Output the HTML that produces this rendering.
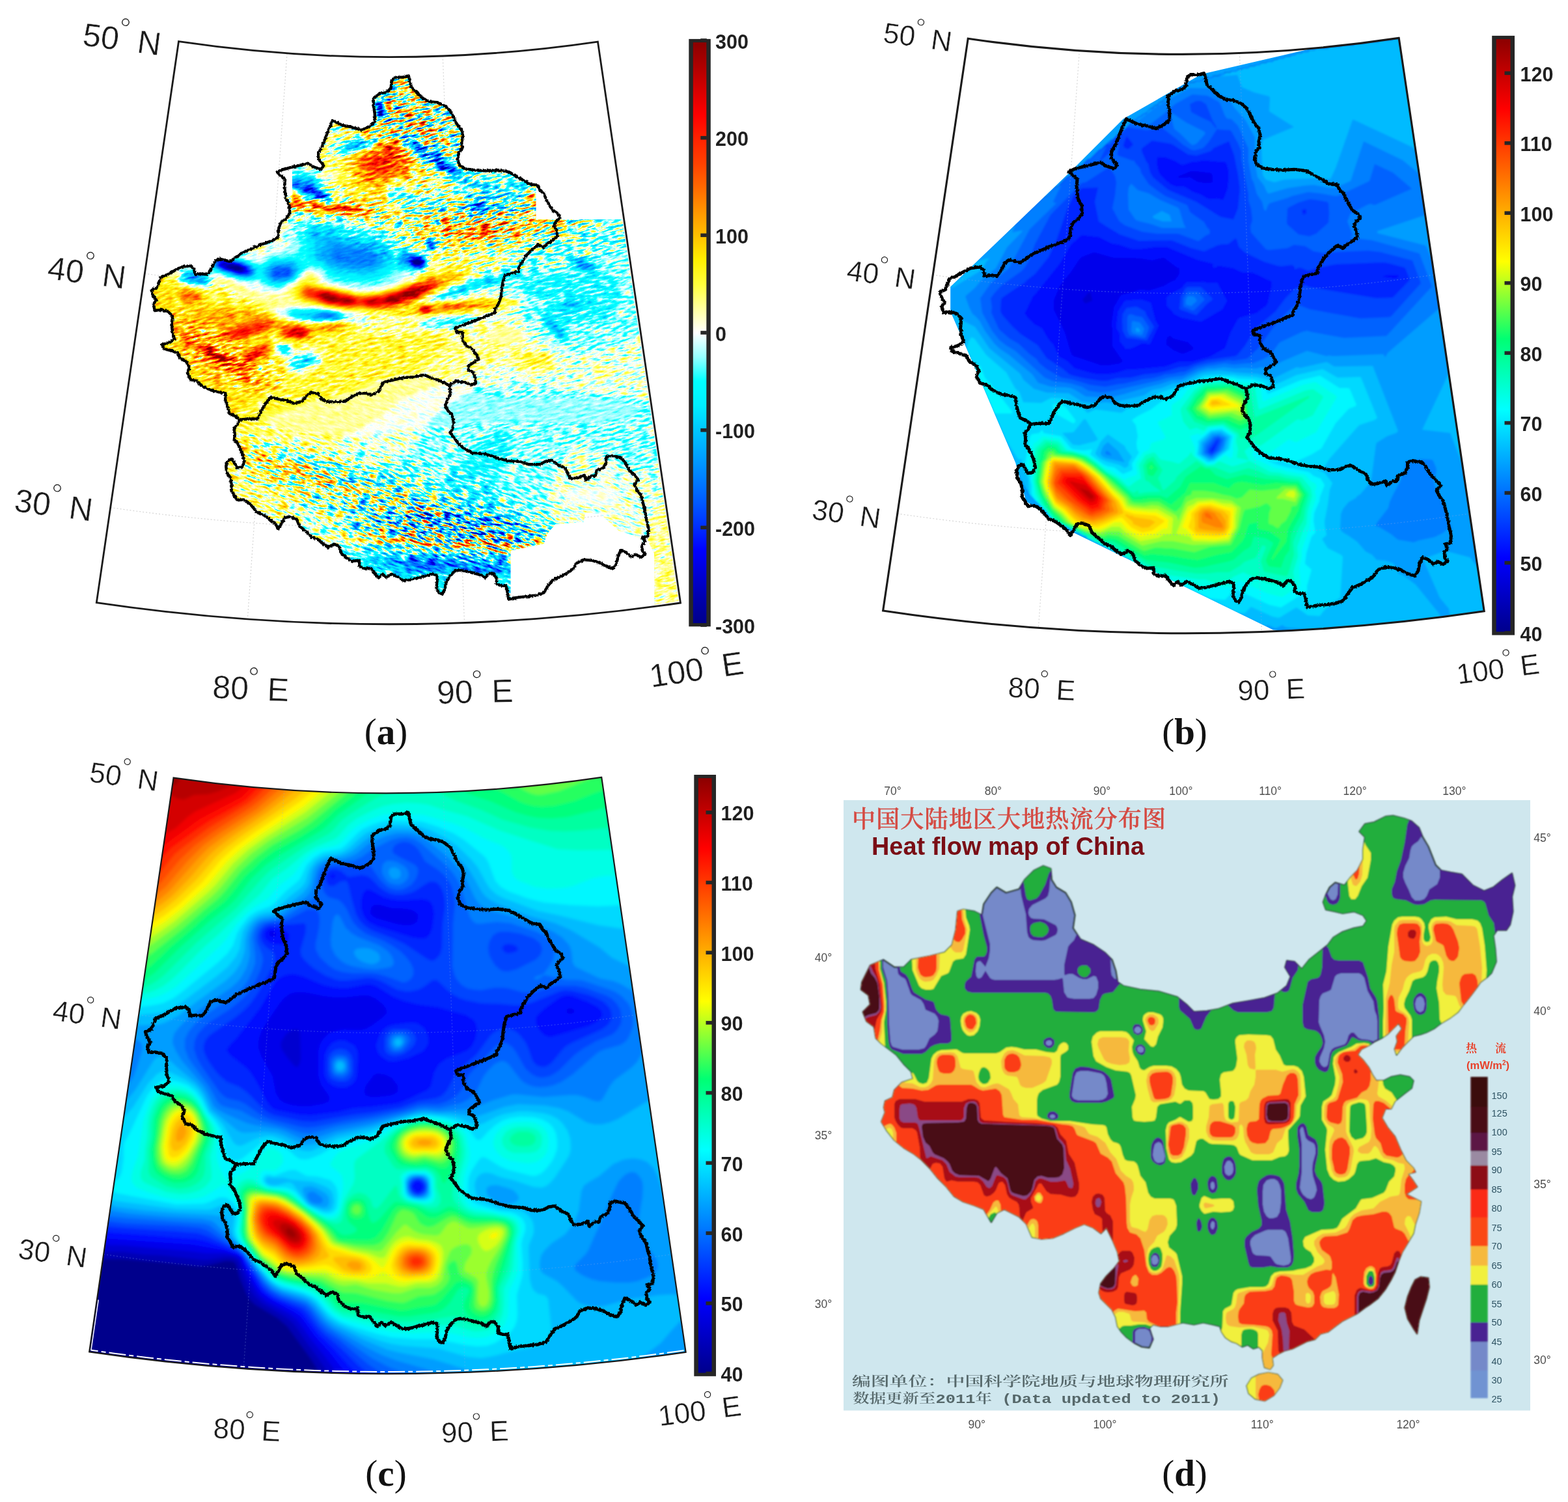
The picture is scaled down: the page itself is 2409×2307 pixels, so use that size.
<!DOCTYPE html><html><head><meta charset="utf-8"><title>Figure</title><style>html,body{margin:0;padding:0;background:#fff}svg{display:block}</style></head><body><svg xmlns="http://www.w3.org/2000/svg" width="2409" height="2307" viewBox="0 0 2409 2307"><defs><g id="srcA"><rect x="-400" y="-400" width="2200" height="2200" fill="#800000"/><path fill="#8a0000" d="M811 293l-2 12 2 9 4 3 6 0 4-9 -1-14 -3-4 -3-1 -3 0zM140 50l0 921 181 0 37-57 38-51 27-33 16-9 -3-6 1-3 14-24 19-37 6-3 15 1 73 12 9 0 -7-6 -19-9 -130-51 -15-9 -3-3 1-3 10-1 12 2 55 14 14 2 9 0 5-2 27-24 55-33 39-29 36-12 69-29 21-6 27-2 6 1 15 9 12 3 27 1 9-2 6-3 3-6 0-6 -4-9 -5-6 -9-5 -32-7 -3-3 -2-12 -5-9 -9-7 -15-6 -12-2 -27 10 -18 3 -48 3 -15-1 -12-2 -7-4 0-3 10-6 21-4 51-5 42-1 30-9 9-5 2-3 -11-5 -45-5 -18 1 -57 9 -16 0 0-3 31-16 33-14 39-21 7-6 6-18 6-6 71-23 13-7 3-3 3-6 -3-6 -7-4 -12-2 -21-1 -90 6 -13-2 -26-8 -27 7 -33-1 -12-4 -10-12 -10-9 -3-6 0-6 4-6 7-3 15 0 5 3 7 9 6 2 36-5 5-3 1-3 -1-6 -5-6 -53-48 -12-12 -5-9 1-3 3-1 12 2 21 6 24 11 9 2 2-2 -1-18 -23-60 -19-36 -6-15 -3-18 1-24zM410 319l51 9 81 8 54 3 9 4 6 4 17 21 13 10 3 2 3-3 1-6 5-5 12-1 6 2 4 4 1 9 -5 7 -9 4 2 10 -1 6 -4 6 -6 6 -21 8 -20 10 -18 6 -15 3 -28 2 -49-11 -9-3 -3-3 -2-9 -3-3 -6-2 -9 3 -12 12 -21 15 -6 4 -9 2 -12 0 -30-10 -19-9 -23-8 -3 0 -3 2 -2 6 -4 6 -9 3 -33-6 -6-2 -4-4 -2-9 3-7 6-4 6-1 22 0 3-3 1-12 4-4 6-4 15-2 30 2 10-1 3-3 7-33 9-24 5-6zM533 121l21 0 15-2 9 4 6 5 11 18 8 21 2 12 -3 11 -3 3 -3 0 -6-2 -8-6 -13-14 -6-3 -21 15 -27 23 -36 17 -16 10 -1 3 2 3 27 20 7 7 3 6 3 15 19 18 0 3 -4 3 -10 1 -9 0 -48-12 -30-4 -3-2 -1-1 2-9 -1-12 1-6 33-33 1-21 3-18 7-18 9-15 12-15 15-13 15-7zM449 469l33 2 72 11 15 6 3 3 -1 3 -5 4 -9 2 -6-1 -10-5 -8-2 -54 4 -36-6 -12-5 -8-6 0-3 5-4zM521 213l51-4 6 2 3 4 -3 6 -5 3 -40 14 -15 1 -6-2 -6-4 -1-3 1-6 6-8zM437 527l11 3 7 13 21-5 10 1 4 3 3 6 -2 9 -9 7 -18 7 -9 2 -9-3 -5-7 1-12 -3-3 -14-3 -3-5 0-4 3-6 6-3zM929 563l-18 6 -3 3 2 3 6 3 13 2 9-1 7-4 0-3 -1-3 -9-6zM475 824l64 8 162 9 108 4 18-1 13-2 -14-3 -44-4 -207-12 -75-2zM1037 771l-15 3 -9 4 -8 7 -5 9 -3 15 -2 60 1 18 3 15 5 12 15 25 15 16 17 16 10 0 0-203z"/><path fill="#950000" d="M572 198l-8 5 18 6 3 6 -4 6 -9 5 -41 16 -4 3 -4 6 -2 18 2 15 5 9 14 12 -6 3 -24 5 -12-1 -30-6 -18-2 -21 2 -6 2 -1 3 2 3 11 5 27 6 75 8 33-1 12-2 5-4 0-3 -4-6 5-6 4-21 5-6 7-3 14-2 9 2 9 7 3 1 8-5 5-9 0-9 -4-9 -8-9 -46-44 -12-7zM812 294l-2 11 2 7 3 2 6 0 3-6 0-6 -2-9 -7-1zM803 334l-57 4 -45 0 -18 1 -30 8 -4 3 -3 6 3 6 19 1 6 4 6 7 3 1 27 1 36-4 63-12 18-7 8-6 1-3 -1-3 -5-3 -13-3zM692 408l-33 12 -48 20 -24 7 -30 4 -9-1 -58-13 -5-3 -3-9 -6-2 -6 3 -20 17 -2 3 -1 6 6 9 11 4 69 12 21 1 18 3 48 5 33 0 93-9 27-5 14-5 1-3 -9-3 -30-2 -30 0 -54 7 -21-2 14-9 52-24 11-9 1-6 -6-7 -9-3zM140 50l0 12 0 863 108-82 60-50 30-32 12-17 16-28 5-4 9-2 12 2 94 25 20 4 6 0 3-1 -25-12 -95-38 -17-10 -5-6 1-3 20-9 10-15 12-7 63-22 57-15 57-24 36-6 12-4 10-6 29-21 6-9 2-9 -1-6 -3-3 -4-1 -63-1 -33 3 -27-3 -9-3 -8-13 -8-3 -50 4 -39-5 -18-8 -10-6 -2-3 -3-10 -9-2 -31-3 -12-3 -9-6 -8-10 -3-1 -12 6 -6 0 -15-4 -24-4 -9-4 -5-10 1-6 3-6 10-7 21-3 5-14 6-12 -1-6 -36-81 -33-81 -27-75 -28-84zM428 524l20 3 5 3 5 6 21-4 6 0 6 3 4 4 3 6 0 9 -3 6 -7 7 -15 7 -15 4 -12-2 -8-7 -2-6 0-9 -2-2 -9-3 -4-4 0-9 3-9zM805 545l-3 6 1 6 3 4 6 3 9 1 15-1 6-2 4-5 -1-6 -2-3 -7-5 -21-2zM526 827l58 6 117 7 103 2 -2-3 -25-3 -64-4 -144-7 -30 0z"/><path fill="#9f0000" d="M587 217l-9 8 -35 14 -4 3 -3 6 1 18 6 15 11 11 15 6 9 1 6-1 10-14 8-5 33-6 3-4 2-6 1-9 -3-6 -10-12 -17-16 -9-7 -6-3 -3 0 -3 2zM811 302l1 6 2 3 4 1 3-1 3-9 -3-8 -6-1 -3 3zM434 311l2 3 6 3 13 4 45 6 51 4 18-2 7-3 -1-3 -9-5 -27-6 -33 2 -48-8 -18 2zM734 342l-50 8 -7 4 -1 2 0 3 4 3 12 3 24 1 15 2 15-1 6-1 15-7 32-6 9-3 3-3 -1-3 -7-2 -39 1zM695 414l-36 9 -48 19 -27 8 -33 2 -45-10 -18-3 -15-6 -6 1 -9 6 -3 3 -2 6 2 6 9 7 39 9 30 4 21 0 15 3 45 2 33 4 102-9 21-5 8-3 -2-3 -6-1 -27-2 -33 1 -45 6 -18-1 -9 2 -3-1 -1-1 16-10 53-26 5-3 4-6 -2-5 -6-3zM140 390l0 312 33-4 30-4 30-7 33-10 12-2 21 1 58 10 -2-3 -31-21 -4-6 1-3 8-5 48-25 13-12 25-6 8-6 2-6 -2-9 -4-9 -11-15 8-10 5-23 -2-5 -7-4 5-3 5-1 4 4 8 4 21 5 12 0 12-5 9-8 36-4 9-3 4-4 0-3 -3-3 -4-1 -30 1 -18 3 -42-6 -29-12 -19-10 -69-7 -3-2 -3-11 -9-6 -21-4 -24-1 -12-10 -12-6 -48-18zM821 556l6-1 4-1 -2-3 -8-1 -5 1 -1 3zM555 827l49 6 111 6 64 0 -72-6 -114-6z"/><path fill="#aa0000" d="M593 216l-15 10 -24 10 -6 3 -4 6 -1 12 5 15 9 10 12 6 12 1 18-13 24-7 6-5 4-7 0-6 -1-6 -15-18 -12-9 -6-3zM811 302l1 4 3 4 6-1 2-7 -2-6 -6-1zM446 309l-4 2 0 3 6 3 34 7 60 5 15 0 10-3 0-3 -5-3 -20-5 -36-1 -39-6zM717 353l0 3 5 6 6 3 9 0 15-2 6-4 2-6 -1-3 -7-4 -12-1 -15 2zM695 421l-39 6 -42 16 -30 8 -33 3 -45-11 -33-5 -6 1 -6 3 -4 7 3 6 7 5 36 10 33 4 15-1 21 3 36-1 6-1 12-7 12-4 30-16 31-19 2-3 -1-3zM272 452l0 6 3 6 6 5 6 1 12 1 6-2 5-5 2-6 -1-6 -2-3 -10-4 -18-1 -5 2zM704 465l-36 4 -21-1 -17 8 17 7 9 0 12-3 78-7 15-3 7-3 -6-3 -13-1zM311 476l-15 4 -18 13 -27 3 -5 4 2 9 7 9 11 10 39 28 54 26 18 7 12 2 11-1 2-3 0-3 -3-6 -11-12 0-3 7-6 18-11 5-10 -1-9 -4-2 -9 1 -42 17 -16-7 -3-3 2-3 53-13 24-10 3 0 6 9 6 4 15 3 15 0 9-3 9-10 18 0 18-3 9-3 2-4 -5-3 -18 0 -12 1 -15 4 -18-4 -30-1 -15-8 -30-11 -12-2 -33-1zM301 503l28-1 3 1 0 3 -9 10 -6 2 -13-6 -6-6zM631 833l64 3 37 0 -55-3 -36-1z"/><path fill="#b50000" d="M449 314l6 3 18 4 54 6 24 0 7-1 2-3 -6-3 -15-4 -33-1 -33-5 -21 0 -2 1zM278 458l6 6 12 0 9-2 3-7 -1-3 -5-3 -15-2 -7 2 -2 3zM353 482l-30 3 -4 3 4 3 18 1 21-3 6-4zM386 489l-33 12 -12 7 -7 7 0 6 4 3 9 1 30-5 33-11 11-6 3-3 1-3 -2-3 -6-3 -13-3zM431 506l1 6 5 6 15 3 12 0 9-2 5-4 2-6 0-3 -4-3 -15-4 -21 0 -6 2zM273 521l13 12 28 20 42 20 21 6 5-1 1-3 -4-9 1-3 30-18 3-3 3-6 -1-6 -2-2 -9 0 -42 19 -33-16 -45-19 -9-2 -4 2 -1 3zM593 220l-34 16 -5 3 -4 6 -1 9 4 12 7 9 9 5 9 1 6-1 12-7 18-6 6-4 6-9 1-6 -1-6 -7-9 -8-8 -12-6zM815 309l5-1 2-3 -1-6 -3-3 -3 1 -3 5zM724 350l-2 3 1 6 8 4 18-1 6-3 1-3 -2-6 -5-3 -15 0zM659 428l-45 16 -24 7 -33 4 -33-6 -18-5 -30-3 -12 2 -4 6 4 6 3 2 36 12 30 4 21-1 18 2 30 0 9-2 30-12 26-14 8-6 4-6 0-3 -2-2 -9-2zM731 465l-66 5 -9-1 -9 0 -6 4 -1 3 2 3 5 3 9 0 12-4 63-5 19-3 6-3zM494 506l9 1 10-1 11-3 2-3 -11-1 -18 1 -6 3z"/><path fill="#bf0000" d="M455 314l6 3 15 3 53 6 18 0 7-3 -5-3 -13-3 -30-1 -32-5 -13 0zM284 458l12 1 5-1 2-3 -4-4 -12-1 -4 2 -1 3zM499 503l12 0 -5-2zM392 493l-33 9 -12 6 -5 4 -2 6 5 3 8 1 30-6 27-9 6-4 3-6 -6-4 -9-1zM434 511l3 5 6 3 18 1 12-4 4-7 -1-3 -6-4 -24-2 -9 3 -3 3zM299 529l10 16 11 8 21 9 21 6 6-1 10-7 29-15 4-3 3-6 -1-5 -3-1 -9 1 -21 9 -15 10 -3 1 -18-10 -24-10zM599 223l-34 13 -5 3 -4 6 -1 6 2 9 6 8 6 4 6 2 9-1 21-8 9-6 6-8 1-6 -2-6 -10-12zM818 307l3-2 0-4 -3-3 -3 0 -1 7 1 2zM725 353l-1 3 2 3 8 3 15-1 5-5 -2-5 -6-2 -15 0zM645 434l-31 12 -24 7 -33 4 -6 0 -51-12 -27-2 -6 2 -3 4 1 3 5 4 36 12 30 4 18-2 18 3 30-1 39-14 28-15 4-6 1-3 -3-3 -9-2zM642 476l5 5 9 0 6-2 6-4 27-1 39-4 -3-2 -12 0 -37 2 -14 3 -9-3 -9-1 -6 3z"/><path fill="#ca0000" d="M596 228l-28 11 -5 6 -1 6 1 5 6 8 9 2 9-1 18-8 6-6 3-6 -1-6 -8-9zM818 305l1-3 -1-2 -3 1 0 3zM467 317l18 3 42 4 12 1 7-2 -4-3 -9-2 -24 0 -33-5 -14 1zM727 353l0 3 1 2 6 3 12-1 6-4 -1-3 -6-3 -11 0zM641 437l-27 10 -27 8 -33 3 -51-12 -27-1 -5 1 -3 3 0 3 4 3 34 12 30 4 18-3 18 4 30-2 39-13 25-14 4-6 -2-4 -6-2zM644 473l0 4 6 4 9-1 5-4 0-3 -5-3 -9 0zM380 499l-24 7 -9 6 -1 3 2 3 5 1 18-2 28-8 8-3 6-6 0-3 -9-3zM437 506l-1 6 4 4 15 2 15-2 4-4 1-3 -1-3 -6-3 -16-2 -11 2zM393 536l-17 9 -11 11 -3 0 -15-12 -21-9 -12 0 -3 1 -1 3 3 6 10 7 18 7 12 3 12-4 9 0 9-3 24-12 5-7 -1-3 -4-1z"/><path fill="#d40000" d="M581 241l-6 4 -1 3 1 6 3 1 6 0 9-3 6-4 2-3 1-3 -2-3 -4-1zM475 317l20 3 11 0 -6-1 -3-2 -15-2 -6 0zM734 359l10 0 5-3 0-1 -3-3 -12 0 -4 1 -1 3zM659 433l-72 23 -18 1 -15 3 -51-13 -27 1 -3 1 0 3 24 11 9 3 27 3 21-2 18 3 15-1 15 0 39-13 22-13 4-6 -2-3zM647 479l12 0 3-3 0-3 -6-2 -9 1 -3 4zM377 502l-21 7 -3 3 -1 3 10 1 21-4 18-6 5-3 2-3 -4-2 -6-1zM440 506l-2 3 1 3 4 4 6 1 18-1 5-4 1-3 -3-4 -9-2 -14 0zM389 540l-14 8 -2 3 1 3 9-1 18-8 7-6 1-3 -2-1 -6 0zM320 548l24 10 9 0 2-4 -5-6 -5-3 -22-8 -6 0 -3 2 0 3z"/><path fill="#df0000" d="M732 356l8 1 6-1 -3-3 -6 0 -3 1zM641 439l-51 18 -21 1 -10 3 -3 3 7 4 9 1 15-2 18 0 15-6 21-6 19-12 3-3 0-3 -7-1zM482 452l13 9 11 4 30 3 8-1 7-3 -2-3 -7-3 -21-5 -15-4 -12-1zM649 479l10-1 2-2 0-3 -5-2 -9 1 -2 4zM392 501l-29 8 -3 3 13 0 21-6 5-3zM443 513l6 2 15 0 6-3 0-3 -6-4 -18 0 -3 1 -3 3zM389 542l-10 6 1 3 10-3 12-6 2-3 -3-1zM320 546l9 5 12 4 6 1 4-2 -1-3 -3-3 -21-9 -6 0 -2 3z"/><path fill="#ea0000" d="M656 438l-27 5 -12 7 -18 4 -12 6 -18-1 -5 2 -3 3 5 3 6 1 15-3 18 1 15-6 18-5 21-15zM494 450l-5 2 0 3 8 6 6 2 30 4 6 0 7-3 -1-3 -6-3 -18-3 -15-5zM646 476l7 3 7-3 -1-3 -6-1 -6 1zM444 512l5 2 12 0 5-2 1-3 -5-3 -13 0 -6 3zM326 548l18 6 3-3 -3-3 -13-6 -5-1 -5 1 1 3z"/><path fill="#f40000" d="M629 445l-12 6 -17 4 -9 6 2 3 3 1 12-1 12-6 16-3 9-6 5-6 -9-1zM495 458l11 5 15 0 12 3 9-2 0-3 -6-3 -15-1 -18-7 -10 2 -1 3zM566 464l6 2 8-2 -3-3 -5 0 -3 0zM647 476l9 1 3-1 -1-3 -8 0zM452 512l6 0 4-3 -14 0zM332 548l6 1 1-1 -7-3 -5 0z"/><path fill="#ff0000" d="M629 446l-12 9 -13 0 -7 3 -2 3 4 3 4 0 8-3 6-5 16-1 6-3 6-6 -4-2 -3 0zM495 455l3 3 8 4 11-1 2-3 -13-6 -8 0zM523 461l13 3 2-3 -8-1zM649 476l7 0 1 0 -1-2 -3-1z"/><path fill="#750000" d="M565 143l3 12 11 21 11 11 7 1 4-6 -1-9 -13-27 -9-9 -6-3 -5 3zM551 213l-18 3 -9 3 -6 5 -2 6 2 3 6 3 12-1 33-10 9-7 0-3 -6-3zM452 258l-15 12 -2 2 0 6 6 9 11 8 15 7 30 8 15 1 7-3 -3-6 -18-15 -4-15 -9-8 -15-6 -9-2zM458 341l-7 6 -3 6 -2 18 -3 7 -8 5 -22 7 -15 11 -6 0 -39-11 -15-1 -9 0 -7 3 -5 6 0 16 -33-1 -8 6 -1 9 6 6 6 2 30 4 7-3 3-6 0-9 5-1 39 12 24 2 15 9 12 2 9-2 18-8 9-7 12-13 9-3 6 1 6 3 8 14 5 3 25 6 31 4 24-3 14-4 11-6 14-10 18-1 9-3 5-4 4-6 0-9 -6-8 -33-13 -21-18 -15-8 -15-3 -36-4 -30-8 -30 1zM464 472l-31 4 -2 3 2 3 11 6 14 3 27 3 30-1 21-4 15 2 -1-3 -6-3 -29-9zM424 536l1 6 6 2 12 1 3-1 3-5 -1-6 -8-4 -12 1zM473 541l-21 8 -5 5 -2 9 4 4 6 2 12-2 15-6 6-7 0-7 -6-5zM614 212l9 12 24 22 62 44 4 9 -3 15 1 6 4 6 4 2 9 3 15 0 21-6 42-5 3-3 -1-15 1-9 3-5 3-2 6 0 5 7 1 23 6 0 12-5 7-9 1-6 -1-9 -7-13 -15-13 -21-9 -24-8 -18-1 -18 4 -21 11 -6 0 -81-44 -21-6 -6 1zM605 290l-3 3 2 6 13 9 9 9 6 3 18 3 12 0 7-3 4-6 -2-6 -6-3 -9-1 -18 1 -6-1 -8-14 -4-3 -6 0zM651 371l-1 9 6 5 12 0 5-5 1-3 -1-6 -8-5 -9 1zM958 299l-14 7 -12 9 -25 32 -22 18 -55 18 -45 24 -100 39 -18 9 -9 6 7 1 17-1 76-18 12-1 8 10 31 9 3 3 -2 3 -14 9 -1 3 21 18 17 25 33 17 18 3 24-2 36-7 23-9 28-18 29-24 19-21 16-24 2-5 0-95 -9-13 -9-10 -12-9 -15-7 -15-4 -15-1 -15 2zM704 486l-42 5 -11 3 -4 3 1 3 11 3 42-1 24-4 11-4 3-3 -1-3 -7-2zM737 595l-21 9 -48 34 -15 18 -17 33 -4 5 -42 13 -24 12 -9 2 -16-2 -92-24 -19-3 2 3 18 9 71 27 96 35 25 10 8 6 -9 2 -15-1 -63-13 -20 0 -5 3 -1 3 -15 36 1 3 14 3 79 6 223 11 13-2 1-3 -1-21 -10-18 -2-6 2-24 12-32 19-40 5-6 6-1 6 1 75 41 15 4 12-3 14-12 14-18 8-18 2-12 0-9 -6-18 -7-9 -7-6 -21-9 -30-6 -60-5 -72-11 -54-1zM503 842l-11 15 -6 18 -14 33 -10 30 -8 33 439 0 -5-36 -8-36 1-21 -3-6 -18-18 -11-3 -35-3 -236-12 -63 0 -6 1z"/><path fill="#6a0000" d="M542 216l-15 5 -4 3 -2 6 6 4 12-1 28-9 8-6 -2-3 -7-1zM458 262l-16 10 -2 6 6 9 9 7 16 8 23 7 12 2 9-3 -2-6 -19-15 -5-12 -5-6 -20-7zM463 347l-3 3 -3 6 0 6 5 12 0 6 -2 6 -4 3 -37 6 -9 5 -9 7 -3 0 -30-11 -24-5 -12 0 -6 2 -6 5 0 9 6 8 15 6 33 9 24 0 15 10 9 2 15-4 15-7 7-6 8-11 6-5 9 0 9 3 6 4 9 11 6 3 18 3 30 3 18-2 12-3 9-6 12-11 6 0 24 3 9-2 7-8 0-9 -4-5 -24-9 -18-1 -16-15 -17-8 -45-7 -21-9 -9-2 -27 1zM278 422l0 6 3 3 12 5 21 3 6-3 4-5 -3-9 -10-5 -24-2 -6 2zM439 479l0 3 13 6 33 5 33-1 13-4 1-3 -11-6 -24-3 -42-1 -9 1zM431 542l12-1 3-5 -2-3 -4-2 -9 0 -3 2 -2 3 0 3zM473 544l-18 7 -6 6 0 4 3 4 9 1 15-5 6-4 3-6 -1-3 -5-4zM512 722l34 12 8 0 -32-12zM569 149l4 12 11 18 6 5 6 0 2-5 0-6 -14-27 -6-6 -6-2 -4 5zM622 221l19 18 30 22 27 16 27 11 6 5 2 6 -2 3 -12 7 -4 5 0 6 2 3 5 4 9 1 15 0 6-2 12-11 30-6 9-2 1-2 2-6 0-12 -4-3 -35-9 -12 0 -15 4 -6-1 -36-29 -51-30 -15-6 -9-2 -3 1 -1 3zM651 374l2 7 6 3 9-1 3-2 2-4 -1-6 -7-3 -9 0zM875 404l1 9 -2 3 -32 7 -30 1 -1-2 0-6 -3-3 -5-1 -12 1 -18 4 -33 10 -50 19 -13 6 -9 6 6 1 14-1 97-28 18-2 -4 12 0 6 2 3 7 3 22 5 8 4 -1 6 -7 6 -3 6 1 9 3 6 9 12 14 13 12 6 6 1 5-5 0-6 -8-19 3-1 15 4 15 1 12-2 12-5 12-8 8-9 5-12 2-12 -2-12 -6-12 -7-7 -12-7 -6-10 -6-5 -15-6 -12-1 -7 3 -3 3zM710 488l-45 6 -5 3 11 3 33-2 18-3 4-4 -7-2zM752 665l-11 9 -20 27 -11 12 -12 10 -18 11 -5 6 0 6 2 4 21 15 4 5 0 6 -15 9 -16 4 -18 1 -45-3 -15 2 -5 2 -3 6 11 18 3 3 16 3 110 5 21-3 45 0 18-4 13-7 1-3 0-3 -7-6 -37-15 -9-6 -1-6 -2-24 2-18 6-18 12-24 2-12 -4-7 -9-7 -12-2zM581 841l-39 12 -8 7 2 6 16 12 4 6 -3 27 0 18 3 21 5 21 213 0 10-30 9-42 11-6 29-9 7-6 0-3 -2-3 -14-7 -38-14 -19-3 -156-8z"/><path fill="#600000" d="M572 154l12 22 6 6 4 0 2-6 -2-9 -10-18 -9-7 -3 0 -2 4zM531 221l-6 6 1 3 10 2 28-8 5-3 2-3 -5-2 -6 0 -18 2zM446 273l-3 5 3 6 6 6 12 7 30 11 12 2 6-2 1-3 -2-3 -20-15 -13-15 -14-5 -6 1zM476 348l-9 5 -2 6 9 18 -1 21 2 3 19 8 21 14 33 4 21 1 12-3 9-4 6-5 9-12 3-1 12 8 18 4 9-1 6-3 3-4 0-9 -6-5 -27-7 -6 1 -9 6 -3 0 -6-10 -6-7 -9-6 -9-4 -45-6 -18-10 -9-3 -12 0zM322 401l3 9 13 8 24 8 15 3 24-4 12 10 9 3 15-2 15-7 8-10 4-12 0-3 -3-3 -15-4 -27 3 -6 3 -12 10 -21-11 -33-9 -9 0 -9 1 -6 4zM281 428l9 6 21 3 8-3 2-6 -1-3 -6-4 -21-4 -10 2 -3 3zM451 485l13 3 33 4 21-1 8-3 1-3 -2-3 -7-2 -24-3 -42 1 -2 1 -3 3zM440 539l2-3 -2-2 -6 0 -4 2 2 3zM461 552l-7 5 -1 3 2 2 6 1 9-3 6-3 4-3 0-3 -2-3 -5 0zM627 224l20 18 33 23 24 11 9 2 4-3 -4-9 -13-12 -44-28 -15-7 -12-4 -4 0 -1 3zM721 311l-3 3 0 6 4 5 6 1 18 0 5-3 4-6 -3-8 -6-3 -15 1zM653 378l3 4 3 0 9 0 3-3 1-5 -4-5 -9 0 -5 2 -2 3zM881 407l6 6 15 6 9-2 4-4 -1-6 -3-4 -6-3 -12-4 -6 0 -4 2 -2 3zM773 421l-37 10 -39 15 -13 6 -2 3 20-3 50-15 23-9 7-6zM855 467l1 6 4 3 6 2 15 1 13-3 4-3 2-6 -2-3 -5-3 -12-2 -18 2 -6 3zM836 495l6 8 15 14 9 4 5-3 -1-6 -3-6 -19-19 -6-4 -6 0 -3 5zM713 790l-42 5 -42-2 -8 1 -6 3 0 3 4 3 10 4 33 5 48 0 63 4 24-4 5-3 1-3 -3-3 -12-5 -33-6zM596 850l-30 6 -7 4 -1 3 2 3 9 5 41 13 28 12 9-1 30-5 75-2 36-3 22-4 6-3 2-3 -6-5 -12-4 -48-10 -114-10z"/><path fill="#550000" d="M575 158l9 16 6 6 3-1 1-6 -6-15 -7-10 -6-4 -2 5zM542 220l-9 3 -4 4 4 3 9-1 17-5 6-3 1-3zM448 275l-2 3 2 6 7 6 12 7 29 11 13 0 1-3 -5-6 -32-23 -12-4 -9 1zM656 380l6 1 6-1 3-3 0-3 -2-3 -4-2 -9 1 -3 4 0 3zM476 357l1 5 8 12 -2 18 2 6 30 18 36 5 21-1 15-6 8-10 1-9 -3-9 -9-8 -9-5 -15-3 -33-4 -6-2 -15-11 -6-1 -17 1zM613 395l0 6 4 5 21 8 12-2 5-8 -2-8 -12-5 -18-3 -6 2zM324 401l1 6 7 7 30 10 12 3 9 0 9-4 4-4 -3-6 -7-6 -18-7 -30-6 -9 2zM410 410l-4 6 0 6 7 9 9 4 15-2 12-5 7-6 3-9 -1-6 -3-3 -12-3 -21 2 -6 2zM284 428l6 4 18 3 6-1 4-3 0-3 -2-3 -5-3 -18-3 -9 3 -1 3zM494 479l-36 3 4 3 32 6 21-1 7-2 2-3 -3-3 -12-3zM628 221l17 18 32 22 18 9 9 2 4 0 2-3 -6-9 -27-19 -24-15 -15-6 -9-2zM720 317l0 3 5 4 12 1 11-2 3-6 0-3 -4-3 -7-2 -15 3zM887 410l12 5 6 1 6-3 1-3 -1-3 -6-5 -15-4 -6 3 -1 3zM749 431l-28 9 1 1 10-1 24-9zM861 470l5 4 12 1 9-1 5-4 -1-3 -4-3 -9-1 -12 1 -5 3zM839 494l6 8 12 11 6 3 3-1 0-3 -3-6 -15-15 -6-3 -3 1zM710 796l-30 6 -18-3 -17 1 4 3 7 1 33 0 63 7 21-1 7-1 4-3 -3-3 -8-3 -33-5zM593 856l-14 4 -3 3 5 5 12 4 39 8 123 3 30-3 10-2 4-3 -1-3 -13-5 -39-7 -108-7 -21 0z"/><path fill="#4a0000" d="M577 158l7 13 3 4 3 2 1-1 1-3 -2-7 -6-11 -6-7 -3 1zM535 224l-2 3 9 1 11-4 5-3 -13 0zM451 284l11 9 20 10 18 5 6-1 2-2 -9-9 -20-14 -12-6 -9-1 -6 1 -2 2zM503 368l-10 21 1 6 12 10 15 6 30 4 18-1 12-4 4-3 3-6 0-9 -4-6 -9-6 -9-3 -42-5 -18-4zM616 401l7 6 15 6 12-3 5-6 -1-6 -4-3 -24-5 -6 1 -3 3zM327 407l11 8 30 10 15 0 6-2 3-4 -2-6 -10-8 -30-8 -9-1 -9 1 -5 4zM413 412l-3 7 2 6 7 6 6 1 12-1 9-4 7-5 3-6 -1-5 -3-4 -9-3 -21 2zM288 428l7 3 13 2 5-2 1-3 -6-5 -15-2 -6 3zM485 488l12 2 12 0 9-2 3-3 -9-4 -18-1 -10 2 -4 3zM638 231l17 14 25 16 18 7 3 0 3-2 -7-9 -16-12 -31-18 -15-6 -2 3zM725 321l6 2 12 0 5-3 0-3 -1-3 -4-2 -12 0 -6 2 -2 3zM656 379l10 1 4-3 0-3 -5-4 -8 1 -3 3zM887 407l6 4 9 3 4-1 3-3 -1-3 -4-3 -11-4 -6 2 -1 2zM869 470l9 1 6-1 -3-3 -5 0zM845 497l12 12 3 0 -9-11 -6-3zM727 803l22 3 6-3 -18-2zM605 859l-12 4 1 3 17 6 24 4 105 3 27-1 13-3 0-3 -6-3 -37-6 -99-7z"/><path fill="#400000" d="M579 158l5 10 3 4 2-2 -2-6 -6-11 -3-1zM453 284l11 9 19 9 14 4 8-1 -1-3 -7-6 -27-16 -9-3 -6 0 -3 4zM506 389l1 6 8 6 9 3 20 3 13 1 12-1 9-5 2-4 -2-6 -6-5 -9-4 -9-1 -36-1 -7 2zM329 401l-1 3 4 6 9 5 12 4 24 5 9-2 3-3 0-3 -4-6 -14-7 -30-6 -8 1zM415 416l0 6 1 3 6 4 6 0 18-4 3-3 3-6 -3-6 -9-2 -18 1zM295 428l10 1 4-1 -6-3 -10 0zM487 485l4 3 9 1 13-1 4-3 -8-3 -9-1 -8 1zM643 233l34 24 12 6 8 0 -1-3 -6-6 -17-12 -26-15 -6-1 -3 1zM734 321l9-1 2-3 -8-3 -11 3 1 3zM662 379l6-1 1-4 -1-1 -6-2 -6 2 0 5zM618 398l3 6 17 8 6 0 6-3 4-5 -1-6 -3-2 -9-3 -18-1 -4 3zM891 407l11 4 3-1 -1-3 -5-3 -6-1 -3 1zM635 860l-24 3 -1 3 13 5 18 2 93 3 20-1 6-3 -7-3 -19-3 -38-3z"/><path fill="#350000" d="M647 233l28 21 8 4 6 0 -2-4 -12-9 -21-12 -7-2zM458 287l9 6 18 9 12 3 3 0 1-3 -16-12 -18-10 -6-1 -6 2zM662 378l5-1 1-3 -6-2 -5 2 0 3zM623 402l12 8 6 1 9-2 3-5 0-3 -1-3 -5-3 -21-1 -4 1 -1 3zM332 408l12 7 27 8 11-1 4-3 1-3 -4-6 -6-3 -30-9 -9 0 -6 3 -2 3zM419 418l0 4 3 3 9 1 12-3 4-4 1-3 -2-3 -3-1 -9-1 -11 2zM500 488l6-1 4-2 -10-1 -7 1zM635 868l39 2 38-1 -62-5 -15 0 -6 2z"/><path fill="#2a0000" d="M461 288l21 11 9 3 7 0 -6-6 -22-13 -9-2 -3 3zM659 377l6 0 1-3 -7 0zM638 394l-14 4 1 3 13 9 9-1 6-5 -2-6 -4-2zM335 409l9 5 24 7 12 0 3-2 1-3 -4-6 -5-3 -28-7 -12 1 -2 3z"/><path fill="#200000" d="M464 287l8 6 13 6 7 0 -19-12 -9-3zM631 404l7 5 6 0 6-2 2-6 -5-5 -9-1 -8 3 -1 3zM335 404l1 3 5 4 23 8 13 1 3-1 2-3 -4-6 -16-6 -18-3 -6 0z"/><path fill="#150000" d="M631 401l4 6 3 2 9-1 4-4 -1-5 -6-3 -9 1zM338 407l10 6 20 6 6 0 5-3 -1-3 -4-4 -24-6 -6-1 -6 2z"/><path fill="#0b0000" d="M633 401l0 3 5 4 9-1 4-3 -1-4 -6-3 -9 1zM341 407l3 3 18 6 9 1 5-1 0-3 -4-3 -8-3 -17-3 -4 0z"/><path fill="#000000" d="M635 400l-1 4 4 3 7 0 5-5 0-1 -6-3 -6 0zM346 407l3 3 10 3 9 2 4-2 -4-3 -11-3 -7-1z"/><g style="mix-blend-mode:screen"><rect x="-400" y="-400" width="2200" height="2200" fill="#000d00"/><path fill="#002600" d="M140 50l921 0 0 921 -921 0zM467 365l-63 25 -75 9 -11 8 -1 9 6 8 9 7 53 27 34 26 12 5 18 2 57-1 60-11 42-17 15-11 8-11 2-12 -5-9 -30-18 -77-34 -27-4zM761 506l-7 3 -4 6 3 6 8 5 33 1 10-3 6-6 -1-7 -9-5 -21-2zM581 584l-27 7 -48 22 -98 16 -9 3 -4 6 11 9 30 9 62 12 47 4 27-3 57-11 66-3 60-7 114 2 60-2 39-7 8-3 5-6 -3-6 -7-4 -33-7 -51-3 -120 0 -21-4 -42-18 -24-6 -60-2zM890 749l-17 6 -2 3 2 6 18 9 32 6 18-2 8-7 0-9 -11-9 -18-4z"/><path fill="#004000" d="M510 50l-27 27 -15 27 -9 30 -1 33 7 30 13 24 22 24 34 27 1 6 -20 3 -87-2 -36 6 -15 6 -10 11 -1 12 12 12 17 7 24 6 90 8 34 6 20 7 45 24 33 13 66 20 42 6 45-2 54-6 69-15 30-12 21-12 17-14 12-15 7-21 -4-21 -13-18 -19-14 -27-11 -27-6 -33-4 -57-2 -15-5 -5-9 1-33 -3-21 -13-33 -12-18 -18-18 -49-34 -51-29zM251 481l-7 7 -4 12 1 12 4 12 19 27 32 26 48 20 42 9 15 0 15-3 13-7 7-9 3-12 -5-12 -12-12 -21-14 -108-56 -24-5zM233 624l-10 5 -6 6 -4 9 0 9 10 21 23 24 38 28 39 24 109 53 44 41 18 11 21 9 30 10 42 8 102 14 111 20 51 6 39 0 30-6 18-8 12-15 1-18 -6-21 -12-18 -17-15 -26-15 -63-27 -60-32 -27-11 -54-19 -39-10 -110-15 -175-31 -39-11 -57-26 -18-2z"/><path fill="#005900" d="M575 77l-15 3 -15 5 -14 10 -11 12 -9 15 -4 15 -1 15 2 18 12 24 16 19 27 21 72 44 6 9 -1 6 -17 11 -21 4 -123-10 -39 0 -15 4 -9 5 -3 7 5 6 13 7 21 5 117 16 16 5 29 18 24 11 33 8 33 4 78-3 72-10 48-16 15-9 13-12 6-15 -3-15 -12-12 -19-9 -39-8 -96-1 -15-2 -11-4 -3-9 14-36 4-27 -6-24 -14-24 -32-28 -63-36 -36-14zM275 503l-5 6 -1 6 8 18 16 16 27 19 33 17 24 8 21 0 7-3 6-6 2-9 -5-12 -11-12 -17-12 -72-36 -18-4zM362 684l-14 5 -5 9 6 12 15 15 37 23 84 40 13 9 31 33 16 10 24 9 36 9 42 6 111 14 48 3 30-2 24-6 18-10 10-15 1-9 -3-9 -14-15 -30-16 -51-19 -90-25 -111-35 -69-18 -93-17 -39-3z"/><path fill="#007300" d="M566 99l-15 7 -12 10 -7 12 -5 15 0 15 4 15 8 14 11 13 18 15 25 16 36 20 27 11 18 3 18-1 15-6 12-9 12-19 4-24 -7-24 -16-21 -32-24 -57-31 -30-9zM827 297l-135 5 -63 19 -18 3 -63-11 -60-6 -33 1 -10 3 -2 3 5 6 20 6 125 14 12 5 21 17 18 9 27 8 30 3 81-4 66-10 39-15 12-9 7-12 -1-9 -7-9 -11-7 -18-6zM290 518l0 9 9 12 15 12 30 19 18 8 15 3 12-1 6-5 -1-9 -7-9 -25-18 -51-24 -12-2zM419 698l-18 3 -8 6 1 9 8 9 28 18 79 39 14 12 26 30 15 9 20 8 30 8 42 7 87 11 42 2 30-2 24-5 16-8 9-12 -1-12 -9-12 -21-13 -33-13 -120-31 -162-48 -58-12z"/><path fill="#008c00" d="M566 118l-11 7 -6 9 -4 9 -1 12 3 12 6 12 19 21 51 31 36 15 27 0 12-4 11-9 8-18 -1-18 -9-18 -17-18 -43-27 -33-16 -27-5zM791 308l-75 5 -33 5 -35 14 -8 6 -2 9 11 12 22 9 27 4 33 0 66-6 39-7 27-10 11-8 4-6 1-6 -3-6 -16-9 -30-6zM323 539l10 9 19 12 10 4 6-1 -1-6 -13-9 -28-12zM449 717l-7 5 2 6 7 6 76 41 14 13 14 21 11 12 15 9 21 8 75 14 96 9 27-1 21-4 16-8 8-9 0-9 -9-12 -21-12 -27-10 -144-35 -132-37 -39-7z"/><path fill="#00a600" d="M578 132l-13 11 -3 15 8 18 17 17 42 26 27 11 21 1 10-4 7-6 5-12 -2-15 -8-14 -15-13 -33-21 -27-13 -21-4zM803 319l-84 5 -26 5 -20 9 -4 9 5 6 15 6 21 2 30 0 75-9 23-8 9-9 -1-6 -3-3 -16-5zM546 758l14 22 11 26 7 9 18 12 24 8 66 12 81 7 24-1 18-4 12-6 7-7 -1-9 -12-12 -19-9 -23-8 -176-37 -40-6 -7 0z"/><path fill="#00bf00" d="M593 153l-5 5 1 9 6 9 10 9 42 23 15 2 9-4 3-6 -3-9 -7-9 -11-9 -39-20 -12-3zM596 779l-6 4 -4 8 0 9 4 9 18 14 29 10 61 10 60 5 36-4 11-5 6-6 -2-9 -11-9 -43-15 -108-21 -33-3z"/><path fill="#00d900" d="M625 788l43 1 75 14 36 12 12 9 1 6 -6 6 -9 3 -28 3 -48-4 -51-8 -26-9 -15-12 -2-6 1-6 7-6z"/><path fill="#00f200" d="M647 797l33 1 48 8 35 12 6 6 0 3 -12 6 -23 1 -39-3 -33-6 -20-7 -11-9 1-6 3-2z"/></g></g><filter id="fa1" filterUnits="userSpaceOnUse" x="-300" y="-400" width="1900" height="1900" color-interpolation-filters="sRGB"><feGaussianBlur in="SourceGraphic" stdDeviation="2" result="src"/><feTurbulence type="fractalNoise" baseFrequency="0.07 0.26" numOctaves="3" seed="11" result="t"/><feColorMatrix in="t" type="matrix" values="1 0 0 0 0 1 0 0 0 0 1 0 0 0 0 0 0 0 0 1" result="n"/><feColorMatrix in="src" type="matrix" values="0 1 0 0 0 0 1 0 0 0 0 1 0 0 0 0 0 0 0 1" result="a"/><feColorMatrix in="src" type="matrix" values="1 0 0 0 0 1 0 0 0 0 1 0 0 0 0 0 0 0 0 1" result="b"/><feComposite operator="arithmetic" in="n" in2="a" k1="2" k2="0" k3="-1" k4="0.5" result="m"/><feComposite operator="arithmetic" in="b" in2="m" k1="0" k2="1" k3="1.00" k4="-0.50" result="v"/><feComponentTransfer in="v"><feFuncR type="table" tableValues="0.0000 0.0000 0.0000 0.0000 0.0000 0.0000 0.0000 0.0000 0.0000 0.0000 0.0000 0.5882 1.0000 1.0000 1.0000 1.0000 1.0000 1.0000 1.0000 1.0000 1.0000 1.0000 0.8431 0.6863 0.5451"/><feFuncG type="table" tableValues="0.0000 0.0000 0.0000 0.0000 0.1882 0.3529 0.5020 0.6471 0.7843 0.9333 1.0000 1.0000 1.0000 1.0000 1.0000 0.9412 0.7529 0.5882 0.4118 0.2549 0.1373 0.0000 0.0000 0.0000 0.0000"/><feFuncB type="table" tableValues="0.5451 0.6745 0.8314 1.0000 1.0000 1.0000 1.0000 1.0000 1.0000 1.0000 1.0000 1.0000 1.0000 0.6275 0.2353 0.0000 0.0000 0.0000 0.0000 0.0000 0.0000 0.0000 0.0000 0.0000 0.0000"/></feComponentTransfer></filter><filter id="fa2" filterUnits="userSpaceOnUse" x="-300" y="-400" width="1900" height="1900" color-interpolation-filters="sRGB"><feGaussianBlur in="SourceGraphic" stdDeviation="2" result="src"/><feTurbulence type="fractalNoise" baseFrequency="0.07 0.26" numOctaves="3" seed="4" result="t"/><feColorMatrix in="t" type="matrix" values="1 0 0 0 0 1 0 0 0 0 1 0 0 0 0 0 0 0 0 1" result="n"/><feColorMatrix in="src" type="matrix" values="0 1 0 0 0 0 1 0 0 0 0 1 0 0 0 0 0 0 0 1" result="a"/><feColorMatrix in="src" type="matrix" values="1 0 0 0 0 1 0 0 0 0 1 0 0 0 0 0 0 0 0 1" result="b"/><feComposite operator="arithmetic" in="n" in2="a" k1="2" k2="0" k3="-1" k4="0.5" result="m"/><feComposite operator="arithmetic" in="b" in2="m" k1="0" k2="1" k3="1.00" k4="-0.50" result="v"/><feComponentTransfer in="v"><feFuncR type="table" tableValues="0.0000 0.0000 0.0000 0.0000 0.0000 0.0000 0.0000 0.0000 0.0000 0.0000 0.0000 0.5882 1.0000 1.0000 1.0000 1.0000 1.0000 1.0000 1.0000 1.0000 1.0000 1.0000 0.8431 0.6863 0.5451"/><feFuncG type="table" tableValues="0.0000 0.0000 0.0000 0.0000 0.1882 0.3529 0.5020 0.6471 0.7843 0.9333 1.0000 1.0000 1.0000 1.0000 1.0000 0.9412 0.7529 0.5882 0.4118 0.2549 0.1373 0.0000 0.0000 0.0000 0.0000"/><feFuncB type="table" tableValues="0.5451 0.6745 0.8314 1.0000 1.0000 1.0000 1.0000 1.0000 1.0000 1.0000 1.0000 1.0000 1.0000 0.6275 0.2353 0.0000 0.0000 0.0000 0.0000 0.0000 0.0000 0.0000 0.0000 0.0000 0.0000"/></feComponentTransfer></filter><clipPath id="mA1"><path d="M802 275.8l-12.5-7.3 -10.5-5.2 -16.7-2.1 -16.7 1.1 -16.7-1.1 -14.6-2.1 -8.3-5.2 -3.1-9.3 2.1-10.4 5.2-6.3 -1.1-8.3 2.1-10.4 -2.1-9.4 -7.3-9.4 -5.2-10.4 -5.2-10.4 -8.4-7.3 -12.5-5.2 -10.4-1 -10.4-5.2 -8.4-8.3 -9.4-8.4 -2.1-8.3 -2-9.4 -9.4 2.1 -11.5 0 -5.2 5.2 -1.1 11.5 -5 5.2 -12.5 3.1 -9.4 7.3 0 10.4 2.1 12.5 0 12.5 -7.4 7.3 -12.5 6.2 -14.6-4.2 -14.6-3.1 -15.6-7.3 -5.2 11.5 -4.2 10.4 -6.3 16.7 -6.2 10.4 0 10.4 8.3 9.3 -4.2 6.3 -12.5-4.2 -7.3-5.2 -17.7 4.2 -6.8 1.7 0 43.3 -10.5 0 0.6 5 5.2 10.4 1.1 12.5 -6.3 8.3 -7.3 5.2 -3.1 7.3 -2.1 15.6 -8.4 5.2 -25 9.4 -23 10.4 -16.6 12.5 -15.7-4.2 -7.3 3.1 -6.2 12.5 -6.3 8.3 -10.4-1 -8.4 1 -1-8.3 -5.2-5.2 -14.6 2.1 -6.3 3.1 -14.6 8.3 -10.4 4.2 -3.2 8.3 -3.1 8.4 -8.3 3.1 2 7.3 5.3 8.3 -4.2 6.2 2.1 9.7 9.4-1.1 10.4 2.1 7.3 7.3 -1.1 12.5 1.1 12.5 3.1 10.4 -8.3 6.2 -10.5 2.1 2.1 6.3 10.5 3.1 10.4 3.1 4.2 8.3 10.4 6.3 4.2 8.3 -3.2 9.4 5.3 9.4 9.3 2 7.3 7.3 12.6 6.3 12.5 3.1 11.5 2.1 0 10.4 3.1 10.4 3.1 10.4 9.4 4.2 6.3 5.2 -3.2 7.3 -5.2 6.2 1.1 10.4 -1.1 6.3 5.2 6.2 4.2 8.3 4.2 10.5 2.1 10.4 -4.2 7.3 -7.3 1 -4.2-8.3 -4.2-5.2 -6.2 3.1 -2.1 8.3 1 9.4 5.3 7.3 2 10.4 0 10.4 4.2 6.2 4.2 8.4 10.4-1.1 8.4 5.2 7.3 8.4 5.2 6.2 10.4 4.2 8.4 6.2 8.3 6.3 5.2 8.3 5.2-8.3 4.2-8.4 8.4-2.1 10.4 4.2 4.2 10.4 10.4 8.3 8.3 8.4 10.5 4.1 8.3 8.4 0.2-2.4 6 5.9 10-4.9 7 3 3 9.9 8 8 10 5 10-1 1 10 8.9 2.9 8-0.9 6 7.9 6 7 6-6 6 5 8-5 10 5 8 5 10-1 12-3 11.9-3 11-3 7 2 0 11 -1 8 4 7.9 5 2 4-7.9 2-10 6-10 7-7 7-2 12 2 12 3 10 3 6 4 5.9-7 6 0 6 8 -1 8 7 3 8 0 2 8.9 2 12 3.1-0.7 0-1 -2.3 0.5 -1.8-10.9 0-0.1 -2-8.9 0-0.1 -0.1-0.1 0-0.1 -0.1-0.1 0-0.1 -0.1 0 -0.1-0.1 0-0.1 -0.1 0 -0.1-0.1 -0.1 0 -0.1 0 -0.1 0 -0.1 0 -7.8 0 -6.1-2.6 0.9-7.3 0-0.1 0-0.1 0-0.1 0-0.1 -0.1-0.1 0-0.1 -0.1-0.1 -6-8 0-0.1 -0.1 0 -0.1-0.1 -0.1 0 -0.1-0.1 -0.1 0 -0.1-0.1 -0.1 0 -0.1 0 -6 0 -0.1 0 -0.1 0.1 -0.1 0 -0.1 0 -0.1 0.1 -0.1 0 0 0.1 -0.1 0.1 -5.4 6.3 -5.3-3.5 -0.1-0.1 -0.1 0 -0.1 0 -9.9-3 -0.1 0 -12-3 -0.1-0.1 -11.9-1.9 -0.1-0.1 -0.1 0 -0.1 0 -0.1 0.1 -0.1 0 -7 2 -0.1 0 -0.1 0 0 0.1 -0.1 0.1 -0.1 0 -7 7 -0.1 0.1 0 0.1 -6 10 -0.1 0.1 0 0.1 -0.1 0.1 -1.9 9.8 -3.6 7.1 -3.7-1.6 -3.7-7.3 0.9-7.7 0-0.1 0-11 0-0.1 0-0.1 0-0.1 0-0.1 -0.1-0.1 -0.1-0.1 -0.1-0.1 0-0.1 -0.1 0 -0.1-0.1 -0.1 0 -0.1 0 -7-2 -0.1-0.1 -0.1 0 -0.1 0 -0.1 0 -0.1 0.1 -11 2.9 -12 3 -11.9 3 -9.6 1 -7.7-4.8 -0.1-0.1 -10-5 -0.1 0 -0.1-0.1 -0.1 0 -0.1 0 -0.1 0 -0.1 0.1 -0.1 0 -0.1 0 -0.1 0.1 -7.4 4.6 -5.4-4.5 -0.1-0.1 -0.1-0.1 -0.1 0 -0.1 0 -0.1-0.1 -0.1 0 -0.1 0 -0.1 0 -0.1 0 -0.1 0.1 -0.1 0 -0.1 0 0 0.1 -0.1 0.1 -0.1 0 -5.2 5.2 -5.3-6.1 -6-7.9 0-0.1 -0.1-0.1 -0.1-0.1 -0.1 0 -0.1-0.1 -0.1 0 -0.1 0 -0.1 0 -0.1 0 -0.1 0 -7.8 0.9 -8.1-2.7 -1-9.3 0-0.1 0-0.1 0-0.1 -0.1-0.1 0-0.1 -0.1 0 0-0.1 -0.1-0.1 -0.1 0 -0.1-0.1 -0.1 0 -0.1-0.1 -0.1 0 -0.1 0 -0.1 0 -9.7 1 -9.6-4.8 -7.7-7.7 -3-9.7 0-0.1 0-0.1 -0.1-0.1 0-0.1 -0.1 0 -0.1-0.1 -0.1-0.1 -0.1-0.1 -7-3 -0.1 0 -0.1 0 -0.1 0 -0.1 0 -0.1 0 -0.1 0 -0.1 0 -0.1 0 -0.1 0.1 -9.3 4.6 -5.5-5.4 -0.1-0.1 0-0.1 -0.1 0 -0.1-0.1 -0.1 0 -0.1 0 -0.1 0 -0.1 0 -0.1 0 -0.1 0 -0.1 0 -0.1 0 -0.1 0.1 -0.1 0 0 0.1 -0.1 0.1 -0.1 0 0 0.1 -0.1 0.1 0 0.1 -0.1 0.1 0 0.1 0 0.1 0 0.2 -6.8-6.8 -0.1 0 -0.1-0.1 -0.1 0 -0.1-0.1 -10.2-4.1 -8.2-8.2 -0.1 0 -10.2-8.2 -4.1-10.2 0-0.1 -0.1 0 0-0.1 -0.1-0.1 -0.1-0.1 -0.1 0 0-0.1 -0.1 0 -10.5-4.2 -0.1 0 -0.1 0 -0.1-0.1 -0.1 0 -0.1 0.1 -0.1 0 -8.3 2.1 -0.1 0 -0.1 0 -0.1 0.1 -0.1 0 -0.1 0.1 -0.1 0.1 0 0.1 -0.1 0.1 -4.1 8.3 -4.4 6.9 -4.3-7 -0.1-0.1 -0.1 0 0-0.1 -0.1 0 -16.7-12.5 -0.1-0.1 -0.1-0.1 -10.2-4 -5.1-6.1 -7.3-8.3 0-0.1 -0.1-0.1 -0.1 0 -8.3-5.2 -0.1-0.1 -0.1 0 -0.1 0 -0.1-0.1 -0.1 0 -0.1 0 -0.1 0 -9.7 1 -3.9-7.7 -0.1-0.1 -4-6 0-10.1 0-0.1 0-0.1 -2.1-10.4 0-0.1 0-0.1 -0.1-0.1 0-0.1 -5.1-7.1 -1-8.9 1.9-7.7 5.2-2.6 3.6 4.5 4.1 8.2 0 0.1 0.1 0.1 0.1 0.1 0.1 0.1 0.1 0.1 0.1 0 0.1 0 0.1 0.1 0.1 0 0.1 0 0.1 0 7.3-1.1 0.1 0 0.1 0 0.1 0 0.1-0.1 0.1-0.1 0.1 0 0-0.1 0.1-0.1 0.1-0.1 4.1-7.2 0.1-0.1 0-0.1 0-0.1 0.1-0.1 0-0.1 0-0.1 -0.1-0.1 -2-10.4 -0.1-0.1 0-0.1 -4.2-10.4 0-0.1 -4.2-8.3 0-0.1 -0.1-0.1 -4.9-5.9 0.9-5.8 0.1-0.1 0-0.1 0-0.1 -1-10 4.9-5.9 0.1-0.1 0-0.1 0.1 0 2.8-6.8 11.9-1 14.6 0 0.1 0 0.1 0 0.1 0 0.1 0 0.1-0.1 0.1 0 0-0.1 0.1-0.1 0.1 0 0-0.1 0.1-0.1 5.2-10.4 4.1-8.3 7.2-10.3 3.8-3.7 11.9 3 0.1 0 12.4 2.1 10.3 4.1 0.1 0.1 0.1 0 0.1 0 0.2 0 0.1 0 0.1 0 12.5-3.2 0.1 0 0.1 0 0-0.1 0.1 0 0.1-0.1 0.1 0 0-0.1 8.2-10.2 5.8-2.9 9.7 1.9 4.9 8 0.1 0.1 0.1 0 0 0.1 0.1 0.1 0.1 0 0.1 0.1 7.3 3.1 0.1 0 0.1 0.1 0.1 0 14.6 1 0.1 0 0.1 0 12.5-1 0.1 0 0.1-0.1 0.1 0 0.1-0.1 10.4-6.2 12.3-6.1 10 0 8 3 0.1 0.1 0.1 0 0.1 0 0.1 0 0.1 0 0.1 0 0.1-0.1 0.1 0 10.5-5.2 0-0.1 0.1 0 0.1-0.1 0.1 0 0-0.1 0.1-0.1 5.2-8.3 0-0.1 3-5.8 12-3 18.7-4.2 14.5-1 0.1 0 16.4-3.1 12.3 5.1 0.1 0 12.4 4.2 13.1 6.4 1.9 11.2 -5.1 10.1 0 0.1 -3.1 8.4 -0.1 0.1 0 0.1 0 0.1 0 0.1 0 0.1 0 0.1 0.1 0.1 0 0.1 4.2 8.3 0 0.1 0.1 0.1 0.1 0.1 6 6 2 10 -1 10 -4 6 -0.1 0.1 0 0.1 -0.1 0.1 0 0.1 0 0.1 0 0.1 0 0.1 0 0.1 0.1 0.1 0 0.1 0 0.1 0.1 0.1 6.3 8.3 6.2 8.3 0.1 0.1 0.1 0.1 8.3 7.3 0.1 0 0.1 0.1 12.5 7.3 0.1 0 0.1 0.1 0.1 0 0.1 0 16.6 1 12.4 3.1 14.6 5.2 0.1 0 14.6 3.2 0.1 0 16.6 1 12.4 4.1 0.1 0.1 0.1 0 0.1 0 16.7 0 0.1 0 0.1 0 0.1-0.1 0.1 0 10.3-5.1 7.8-1 10.1 7 0.2 0.1 10.1 5.1 4 9 0 0.1 0.1 0.1 4.1 6.2 0.1 0.1 0.1 0.1 0.1 0.1 0.1 0 0.1 0.1 0.1 0 0.1 0 0.1 0 0.1 0 0.1 0 10.4-1 0.1 0 0.1 0 0.1-0.1 9.4-3.7 1.8 6.2 0 0.1 0 0.1 0.1 0.1 0.1 0.1 0.1 0.1 0.1 0.1 0.1 0 0.1 0.1 0.1 0 0.1 0 0.1 0 0.1 0 0.1 0 0.1 0 0.1 0 0.1-0.1 0.1-0.1 8.1-6 5.9 0 0.1 0 0.1 0 0.1-0.1 0.1 0 0.1 0 0.1-0.1 0.1-0.1 0.1 0 0-0.1 0.1-0.1 0-0.1 0.1-0.1 0-0.1 2-7.8 9.9-4 0.1 0 0.1-0.1 0.1 0 0.1-0.1 0-0.1 0.1-0.1 0-0.1 4.2-8.3 0.1-0.1 0-0.1 0-0.1 0-0.1 0-7.6 7.4-1.8 13.4 2.8 6 6.9 6.2 11.4 0.1 0.1 0 0.1 8.4 8.3 5.6 6.6 -5.7 6.6 0 0.1 -0.1 0.1 0 0.1 -0.1 0.1 0 0.1 0 0.1 0 0.1 0 0.1 0 0.1 0.1 0.1 0 0.1 4.2 8.4 0.1 0.1 6.1 8.2 3.1 12.3 3.1 12.4 2.1 12.5 3.1 13.4 -1 10.6 -7.6 1.9 -0.1 0 -0.1 0.1 -0.1 0 -0.1 0.1 -0.1 0.1 -0.1 0.1 0 0.1 -0.1 0 0 0.1 0 0.1 -0.1 0.1 0 0.1 0 0.1 0 0.1 0 0.1 0.1 0.1 0 0.1 0 0.1 0.1 0 3.7 5.7 -1.7 2 0.7 0.8 2.3-2.8 -4.2-6.2 5.1-1.3 12.9 25.8 0 3.2 0.2 0.2 0 75.3 17.6-2.4 19.8-2.8 -86.5-586.5 -98 0 -13.1 0 -21.5 0 0-53.1 -9-0.8z"/></clipPath><clipPath id="mA2"><path d="M368.2 644.6l-3.2 7.3 -5.2 6.2 1.1 10.4 -1.1 6.3 5.2 6.2 4.2 8.3 4.2 10.5 2.1 10.4 -4.2 7.3 -7.3 1 -4.2-8.3 -4.2-5.2 -6.2 3.1 -2.1 8.3 1 9.4 5.3 7.3 2 10.4 0 10.4 4.2 6.2 4.2 8.4 10.4-1.1 8.4 5.2 7.3 8.4 5.2 6.2 10.4 4.2 8.4 6.2 8.3 6.3 5.2 8.3 5.2-8.3 4.2-8.4 8.4-2.1 10.4 4.2 4.2 10.4 10.4 8.3 8.3 8.4 10.5 4.1 8.3 8.4 0.2-2.4 6 5.9 10-4.9 7 3 3 9.9 8 8 10 5 10-1 1 10 8.9 2.9 8-0.9 6 7.9 6 7 6-6 6 5 8-5 10 5 8 5 10-1 12-3 11.9-3 11-3 7 2 0 11 -1 8 4 7.9 5 2 4-7.9 2-10 6-10 7-7 7-2 12 2 12 3 10 3 6 4 5.9-7 6 0 6 8 -1 8 7 3 8 0 2 8.9 2 12 3.1-0.7 0-39.6 0-34.5 51-10.2 5.1-15.3 12.8-15.3 43.3-2.6 2.6-15.3 22.9 2.6 28.1 25.5 30.6 10.2 8 9.2 2.3-2.8 -4.2-6.2 5.1-1.3 0.5 0.9 3-0.7 0.1-0.1 0.1 0 0.1 0 0-0.1 0.1 0 0.1-0.1 0-0.1 0.1-0.1 0.1 0 0-0.1 0-0.1 0-0.1 0.1-0.1 1-11.5 0-0.1 0-0.1 0-0.1 -3.1-13.5 -2.1-12.4 0-0.1 -3.2-12.5 -3.1-12.5 0-0.1 -0.1-0.1 0-0.1 -0.1-0.1 -6.2-8.2 -3.8-7.7 5.8-6.8 0.1 0 0-0.1 0.1-0.1 0-0.1 0-0.1 0-0.1 0.1-0.1 -0.1-0.1 0-0.1 0-0.1 0-0.1 -0.1-0.1 0-0.1 -0.1-0.1 -6.2-7.2 -0.1-0.1 -8.2-8.2 -6.2-11.4 -0.1 0 0-0.1 -6.3-7.3 -0.1-0.1 -0.1-0.1 -0.1 0 -0.1-0.1 -0.1 0 -0.1 0 -13.9-2.9 -0.1 0 -0.1 0 -0.1 0 -0.1 0 -0.1 0 -8.3 2.1 -0.1 0 -0.1 0 -0.1 0.1 -0.1 0 0 0.1 -0.1 0 -0.1 0.1 0 0.1 -0.1 0.1 0 0.1 0 0.1 -0.1 0 0 0.1 0 0.1 0 8.1 -3.9 7.8 -10.1 4 0 0.1 -0.1 0 -0.1 0.1 -0.1 0 0 0.1 -0.1 0.1 0 0.1 -0.1 0 0 0.1 -0.1 0.1 -1.9 7.6 -5.4 0 -0.1 0 -0.1 0 -0.1 0 -0.1 0.1 -0.1 0 -0.1 0 0 0.1 -7.2 5.4 -1.7-5.9 0-0.1 -0.1-0.1 0-0.1 -0.1-0.1 0-0.1 -0.1 0 -0.1-0.1 -0.1 0 -0.1-0.1 -0.1 0 -0.1 0 0-0.1 -0.1 0 -0.1 0 -0.1 0.1 -0.1 0 -0.1 0 -10.3 4.1 -9.7 1 -3.8-5.7 -4.2-9.3 0-0.1 -0.1 0 0-0.1 -0.1-0.1 -0.1-0.1 -0.1-0.1 -10.4-5.1 -10.4-7.3 -0.1-0.1 -0.1 0 -0.1 0 -0.1-0.1 -0.2 0 -0.1 0 -8.3 1.1 -0.1 0 -0.1 0 -0.1 0.1 -10.2 5.1 -16.3 0 -12.4-4.1 -0.1-0.1 -0.1 0 -0.1 0 -16.6-1 -14.4-3.1 -14.6-5.2 -0.1 0 -12.5-3.1 -0.1-0.1 -0.1 0 -16.4-1 -12.3-7.1 -8.2-7.2 -6.1-8.2 -5.9-7.8 3.8-5.6 0-0.1 0.1-0.1 0-0.1 0-0.1 0.1-0.1 1-10.4 0-0.1 0-0.1 0-0.1 -2.1-10.4 0-0.1 -0.1-0.1 0-0.1 0-0.1 -0.1 0 -0.1-0.1 -6.1-6.1 -3.9-7.8 2.9-7.9 5.2-10.4 0.1-0.1 0-0.1 0-0.1 0-0.1 0-0.1 0-0.1 -2.1-12.1 0-0.1 0-0.1 -0.1-0.1 0-0.1 -0.1-0.1 -0.1 0 0-0.1 -0.1 0 -0.1-0.1 -13.6-6.7 -0.1 0 -12.5-4.2 -12.5-5.2 -0.1 0 -0.1 0 -0.1 0 -0.1 0 -0.1 0 -16.7 3.1 -14.5 1 -0.2 0.1 -18.7 4.1 -0.1 0 -12.5 3.2 -0.1 0 -0.1 0 0 0.1 -0.1 0 -0.1 0.1 -0.1 0 0 0.1 -0.1 0.1 0 0.1 -3.1 6.2 -5.1 8 -9.8 4.9 -7.8-3 -0.1 0 -0.1 0 -0.1 0 -10.4 0 -0.1 0 -0.1 0 -0.1 0 -0.1 0 -0.1 0.1 -12.5 6.2 -0.1 0.1 -10.2 6.1 -12.2 1 -14.4-1 -6.8-2.9 -5.1-8.1 0-0.1 -0.1-0.1 -0.1 0 -0.1-0.1 0-0.1 -0.1 0 -0.1 0 -0.1-0.1 -10.5-2 -0.1-0.1 -0.1 0 -0.1 0.1 -0.1 0 -0.1 0 -0.1 0 -6.3 3.2 -0.1 0 0 0.1 -0.1 0.1 -0.1 0 -8.1 10.2 -11.9 2.9 -10.1-4 -0.1 0 -0.2-0.1 -12.4-2 -12.5-3.1 -0.1-0.1 -0.1 0 -0.1 0 -0.1 0 -0.1 0.1 -0.1 0 -0.1 0 -0.1 0.1 -0.1 0 -0.1 0.1 -4.1 4.2 -0.1 0 0 0.1 -7.3 10.4 -0.1 0.2 -4.2 8.3 -4.9 9.8 -14 0 -0.1 0 -12.5 1.1 -0.1 0 -0.1 0 -0.1 0 -0.1 0.1 -0.1 0 -0.1 0.1 0 0.1 -0.1 0z"/></clipPath><clipPath id="clipA"><path d="M274.5 63.7 A2214.5 2214.5 0 0 0 918.4 64.1 L1045.5 926.0 A3085.7 3085.7 0 0 1 148.3 925.6 Z"/></clipPath><filter id="rough" x="-5%" y="-5%" width="110%" height="110%"><feTurbulence type="fractalNoise" baseFrequency="0.33" numOctaves="2" seed="8" result="n"/><feDisplacementMap in="SourceGraphic" in2="n" scale="4.2" xChannelSelector="R" yChannelSelector="G"/></filter><clipPath id="clipB"><path d="M1487.2 59.2 A2250.4 2250.4 0 0 0 2149.2 58.4 L2280.2 938.8 A3139.6 3139.6 0 0 1 1356.6 938.0 Z"/></clipPath><filter id="blB" x="-5%" y="-5%" width="110%" height="110%"><feGaussianBlur stdDeviation="1.6"/></filter><clipPath id="hullB" clip-path="url(#clipB)"><path d="M1845.8 114.1l-120.2 68.6 -80.1 80.1 -185.3 177.8 0 37.6 40.1 92.6 60 140.2 16.1 59.1 64.1 43.6 315.5 153.7 66.5 4.5 4.6-0.3 0.1 0 23.1-1.6 23.1-1.8 0.1 0 23.1-2 23.1-2.1 0-0.1 23.1-2.3 23.1-2.4 23-2.7 0.1 0 23-2.8 23-3 0.1 0 13.2-1.8 36-6.3 0.3-0.3 0.3-0.5 0.4-0.5 0.3-0.5 0.2-0.5 0.2-0.6 0.1-0.6 0-0.5 -4.6-2.3 -131.7-881.4 -44.9 3.9 -5.8 0.7 -15.7 1.9 -69.8 13.6z"/></clipPath><clipPath id="clipC"><path d="M266.6 1194.6 A2265.9 2265.9 0 0 0 924.2 1193.9 L1053.6 2076.8 A3157.6 3157.6 0 0 1 137.2 2076.3 Z"/></clipPath><filter id="blC" x="-5%" y="-5%" width="110%" height="110%"><feGaussianBlur stdDeviation="2.2"/></filter><clipPath id="clipD"><path d="M1322.9 1520l11.4 8.6 2.8 14.3 -11.4 11.4 5.7 14.3 11.5 8.5 2.8 17.2 8.6 8.6 11.4 8.5 11.4 8.6 11.5 14.3 11.4 11.4 2.9 11.4 -17.2 5.8 -11.4 11.4 -2.9 11.4 -11.4 5.7 -1.9 9.6 1.9 7.6 -5.7 14.3 8.6 14.2 11.4 14.3 14.3 11.5 14.3 8.5 11.4 8.6 14.3 14.3 11.4 14.3 14.3 14.3 11.4 14.2 14.3 8.6 17.1 5.7 14.3 5.7 11.5 20 8.5-14.2 11.5-5.8 11.4 5.8 11.4 5.7 11.4 11.4 8.6 20 14.3 2.9 17.1-1.5 17.2-7.1 17.1-8.6 14.3-5.7 14.3 5.7 11.4 8.6 8.6-8.6 8.6 17.2 8.5 20 2.9 14.2 -8.6 11.5 -11.4 11.4 -8.6 11.4 -2.8 14.3 2.8 8.6 8.6 8.6 8.6 8.5 5.7 11.5 2.8 14.2 5.8 8.6 8.5 8.6 11.5 8.6 11.4 5.7 11.4 1.4 5.7-12.9 -5.7-17.1 5.7-5.7 11.5 2.8 11.4 0 22.8-5.7 17.2 2.9 14.3-2.9 14.3 2.9 11.4 2.8 2.8 8.6 5.8 8.6 8.5 5.7 8.6 2.9 8.6 5.7 8.5-2.9 8.6 5.7 8.6-2.8 5.7 5.7 0 11.4 2.9 14.3 8.5 2.9 4.3-5.8 -1.4-11.4 8.6-5.7 11.4-5.7 11.4-2.9 11.4-5.7 11.5-5.7 11.4-2.9 8.6-8.5 11.4-2.9 11.4-8.6 11.5-8.5 11.4-5.7 11.4-5.8 11.4-8.5 8.6-5.7 11.4-8.6 11.5-14.3 8.5-14.3 5.8-11.4 5.7-17.2 5.7-14.2 8.6-14.3 8.5-14.3 2.9-14.3 5.7-17.1 2.9-17.2 -11.5-5.7 -11.4-5.7 17.1-11.4 -5.7-8.6 -8.5-11.4 11.4-2.9 -2.9-5.7 -11.4-11.4 -8.6-17.2 -8.5-20 -11.5-14.3 -8.5-14.3 5.7-14.2 8.5 0 5.8-11.5 14.2-11.4 11.5-8.6 2.8-11.4 -5.7-5.7 -14.3-2.9 -14.3 2.9 -11.4 5.7 -11.4 0 -5.7-8.6 -5.7-11.4 -8.6-11.4 -8.6-8.6 5.7-8.6 11.5-5.7 8.5-5.7 11.5-5.7 8.5-5.7 8.6-8.6 8.6-8.6 5.7 8.6 -8.6 11.4 1.4 8.6 -4.2 11.4 2.8 8.6 8.6-11.4 8.6-8.6 8.5-8.6 11.5-2.8 8.5-2.9 11.5-5.7 11.4-8.6 14.3-8.5 11.4-8.6 8.6-11.4 11.4-14.3 8.6-11.5 5.7-8.5 11.4-8.6 5.7-5.7 7.2-17.2 -1.5-20 -2.8-20 5.7-8.5 14.3 0 5.7-8.6 4.3-20 -1.4-22.9 4.2-17.1 -4.2-18.6 -14.3 10 -14.3 11.5 -14.3 5.7 -17.1-8.6 -17.2-17.1 -17.1-2.9 -14.3-2.9 -8.6-8.5 -5.7-14.3 -5.7-14.3 -8.6-14.3 -5.7-14.3 -11.4-10 -11.5-4.3 -17.1-4.2 -11.4 1.4 -17.2 8.6 -14.3 2.8 -8.5 11.4 8.5 8.6 -2.8 20 0 14.3 -8.6 17.1 -11.4 11.5 -8.6 11.4 -14.3-4.3 -8.5 7.2 -5.8 11.4 -4.2 11.4 4.2 11.4 14.3 2.9 11.5 2.9 17.1-2.9 14.3 5.7 5.7 8.6 -5.7 8.6 -14.3 2.8 -17.1 5.7 -14.3 8.6 -8.6 11.4 -14.3 11.5 -14.3 11.4 -11.4 14.3 -11.4-11.5 -11.5-1.4 -2.8 10 8.6 14.3 -5.8 14.3 -14.2 11.4 -20 7.2 -22.9 4.2 -25.7 4.3 -22.9 8.6 -17.1 2.9 -20 1.4 -11.4-11.4 -14.3-11.5 -28.6-8.5 -28.6-2.9 -25.7-5.7 -8.6-5.7 -2.8-17.2 -5.7-17.1 -11.5-11.4 -17.1-11.5 -20-8.5 -11.4-17.2 2.8-20 -5.7-20 -8.6-14.3 -14.2-8.5 -7.2-11.5 -1.4-17.1 -11.4-4.3 -14.3 7.1 -14.3 14.3 -8.6 14.3 -20 5.7 -14.3-8.5 -8.5 8.5 -11.5 17.2 -2.8 17.1 -11.5-5.7 -17.1-2.9 -8.6 2.9 -2.8 28.6 -5.7 22.8 -11.5 11.5 -22.8 5.7 -28.6 5.7 -11.4 11.4 -14.3 0 -17.2-11.4 -20 8.6 -12.8 25.7zM2168.6 1977.1l-5.7 14.3 -4.3 17.2 4.3 17.1 8.5 14.3 5.7 8.6 2.9-20 5.7-17.2 5.7-17.1 4.3-17.2 -1.4-14.2 -11.4-1.5 -8.6 4.3zM1928.6 2148.6l14.3 2.8 14.2-8.5 8.6-11.5 4.3-11.4 -7.1-8.6 -14.3-2.8 -14.3 2.8 -11.4 5.7 -7.2 11.5 2.9 11.4z"/></clipPath><filter id="blD" x="-2%" y="-2%" width="104%" height="104%"><feGaussianBlur stdDeviation="1.1"/></filter><filter id="blT" x="-2%" y="-10%" width="104%" height="120%"><feGaussianBlur stdDeviation="0.55"/></filter></defs><rect width="2409" height="2307" fill="#fff"/><g clip-path="url(#clipA)"><g fill="none" stroke="#d0d0d0" stroke-width="1.2" stroke-dasharray="2 3" opacity="0.90"><path d="M441.0 82.0 L380.3 951.1"/><path d="M680.2 85.8 L713.5 956.3"/><path d="M222.3 420.1 A2574.3 2574.3 0 0 0 970.8 419.7"/><path d="M169.7 779.5 A2937.6 2937.6 0 0 0 1023.8 779.1"/></g></g>
<g clip-path="url(#mA1)"><g transform="rotate(-14 600 500)"><g filter="url(#fa1)"><g transform="rotate(14 600 500)"><use href="#srcA"/></g></g></g></g>
<g clip-path="url(#mA2)"><g transform="rotate(19 600 500)"><g filter="url(#fa2)"><g transform="rotate(-19 600 500)"><use href="#srcA"/></g></g></g></g>
<g fill="none" stroke="#000" stroke-width="4.4" stroke-linejoin="round" stroke-linecap="round" filter="url(#rough)"><path d="M368.2 644.6L361.9 639.4L352.5 635.2L349.4 624.8L346.3 614.4L346.3 604.0L334.8 601.9L322.3 598.8L309.7 592.5L302.4 585.2L293.1 583.2L287.8 573.8L291.0 564.4L286.8 556.1L276.4 549.8L272.2 541.5L261.8 538.4L251.3 535.3L249.2 529.0L259.7 526.9L268.0 520.7L264.9 510.3L263.8 497.8L264.9 485.3L257.6 478.0L247.2 475.9L237.8 477.0L235.7 467.3L239.9 461.1L234.6 452.8L232.6 445.5L240.9 442.4L244.0 434.0L247.2 425.7L257.6 421.5L272.2 413.2L278.5 410.1L293.1 408.0L298.3 413.2L299.3 421.5L307.7 420.5L318.1 421.5L324.4 413.2L330.6 400.7L337.9 397.6L353.6 401.8L370.2 389.3L393.2 378.9L418.2 369.5L426.6 364.3L428.7 348.7L431.8 341.4L439.1 336.2L445.4 327.9L444.3 315.4L439.1 305.0L437.0 286.2L438.1 275.8L430.8 269.6L425.5 264.4L434.9 260.2L455.8 255.0L473.5 250.8L480.8 256.0L493.3 260.2L497.5 253.9L489.2 244.6L489.2 234.2L495.4 223.8L501.7 207.1L505.9 196.7L511.1 185.2L526.7 192.5L541.3 195.6L555.9 199.8L568.4 193.6L575.8 186.3L575.8 173.8L573.7 161.3L573.7 150.9L583.1 143.6L595.6 140.5L600.6 135.3L601.7 123.8L606.9 118.6L618.4 118.6L627.8 116.5L629.8 125.9L631.9 134.2L641.3 142.6L649.7 150.9L660.1 156.1L670.5 157.1L683.0 162.3L691.4 169.6L696.6 180.0L701.8 190.4L709.1 199.8L711.2 209.2L709.1 219.6L710.2 227.9L705.0 234.2L702.9 244.6L706.0 253.9L714.3 259.1L728.9 261.2L745.6 262.3L762.3 261.2L779.0 263.3L789.5 268.5L802.0 275.8L814.5 283.1L826.0 284.1L830.1 292.5L835.3 296.6L839.5 307.0L844.7 315.4L848.9 322.6L858.3 328.9L860.4 335.1L854.1 340.3L851.0 346.6L855.2 353.9L856.2 363.2L850.0 368.5L841.6 373.7L835.3 379.9L827.0 375.7L816.6 384.1L808.2 392.4L802.0 402.8L796.8 411.1L796.8 417.4L786.3 419.5L775.9 422.6L772.8 432.0L770.7 444.4L769.6 456.9L765.5 467.3L760.2 475.7L760.2 480.1L745.6 486.3L728.9 492.6L712.3 498.8L699.7 504.0L701.8 510.3L710.2 510.3L711.2 522.8L716.4 531.1L726.9 536.3L732.1 545.7L735.2 551.9L726.9 557.1L719.6 562.3L719.6 568.6L726.9 571.7L730.0 581.1L731.0 588.4L724.8 591.5L714.3 587.3L700.8 585.2L690.4 591.9L690.4 591.9L676.8 585.2L664.3 581.1L651.8 575.9L635.1 579.0L620.5 580.0L601.7 584.2L589.2 587.3L586.0 593.6L580.8 601.9L570.4 607.1L562.2 604.0L551.8 604.0L539.2 610.2L528.8 616.5L516.3 617.5L501.7 616.5L494.4 613.3L489.2 605.0L478.7 602.9L472.5 606.1L464.1 616.5L451.6 619.6L441.2 615.4L428.7 613.3L416.1 610.2L412.0 614.4L404.7 624.8L400.5 633.1L395.3 643.5L380.7 643.5L368.2 644.6Z"/><path d="M368.2 644.6L365.0 651.9L359.8 658.1L360.9 668.5L359.8 674.8L365.0 681.0L369.2 689.3L373.4 699.8L375.5 710.2L371.3 717.5L364.0 718.5L359.8 710.2L355.6 705.0L349.4 708.1L347.3 716.4L348.3 725.8L353.6 733.1L355.6 743.5L355.6 753.9L359.8 760.1L364.0 768.5L374.4 767.4L382.8 772.6L390.1 781.0L395.3 787.2L405.7 791.4L414.1 797.6L422.4 803.9L427.6 812.2L432.8 803.9L437.0 795.5L445.4 793.4L455.8 797.6L460.0 808.0L470.4 816.3L478.7 824.7L489.2 828.8L497.5 837.2L497.7 834.8L503.7 840.7L513.7 835.8L520.7 838.8L523.7 848.7L531.7 856.7L541.7 861.7L551.7 860.7L552.7 870.7L561.6 873.6L569.6 872.7L575.6 880.6L581.6 887.6L587.6 881.6L593.6 886.6L601.6 881.6L611.6 886.6L619.6 891.6L629.6 890.6L641.6 887.6L653.5 884.6L664.5 881.6L671.5 883.6L671.5 894.6L670.5 902.6L674.5 910.5L679.5 912.5L683.5 904.6L685.5 894.6L691.5 884.6L698.5 877.6L705.5 875.6L717.5 877.6L729.5 880.6L739.5 883.6L745.5 887.6L751.4 880.6L757.4 880.6L763.4 888.6L762.4 896.6L769.4 899.6L777.4 899.6L779.4 908.5L781.4 920.5L795.4 917.5L807.4 916.5L823.4 914.5L835.4 910.5L841.4 900.6L849.3 890.6L859.3 886.6L875.3 877.6L880.6 873.4L886.9 864.0L897.3 859.8L909.8 860.9L920.3 864.0L930.7 869.2L942.2 873.4L947.4 865.0L949.5 854.6L953.6 845.3L962.0 848.4L970.3 855.7L976.6 851.5L984.9 855.7L991.2 850.5L987.0 846.3L986.0 838.0L991.2 831.7L987.0 825.5L995.4 823.4L996.4 811.9L993.3 798.4L991.2 785.9L988.1 773.4L984.9 760.9L978.7 752.6L974.5 744.3L980.8 737.0L974.5 729.7L966.2 721.4L959.9 709.9L953.6 702.6L939.7 699.8L931.3 701.8L931.3 710.2L927.1 718.5L916.7 722.7L914.6 731.0L908.4 731.0L900.0 737.2L897.9 729.9L887.5 734.1L877.1 735.1L872.9 728.9L868.7 719.5L858.3 714.3L847.9 707.0L839.5 708.1L829.1 713.3L812.4 713.3L799.9 709.1L783.2 708.1L768.6 705.0L754.0 699.8L741.5 696.6L724.8 695.6L712.3 688.3L703.9 681.0L697.7 672.7L691.4 664.4L695.6 658.1L696.6 647.7L694.5 637.3L688.3 631.0L684.1 622.7L687.2 614.4L692.4 604.0L690.4 591.9"/></g>
<path d="M274.5 63.7 A2214.5 2214.5 0 0 0 918.4 64.1 L1045.5 926.0 A3085.7 3085.7 0 0 1 148.3 925.6 Z" fill="none" stroke="#1a1a1a" stroke-width="2.8" stroke-linejoin="miter"/>
<defs><linearGradient id="cbA" x1="0" y1="0" x2="0" y2="1"><stop offset="0.0000" stop-color="#8b0000"/><stop offset="0.0417" stop-color="#af0000"/><stop offset="0.0833" stop-color="#d70000"/><stop offset="0.1250" stop-color="#ff0000"/><stop offset="0.1667" stop-color="#ff2300"/><stop offset="0.2083" stop-color="#ff4100"/><stop offset="0.2500" stop-color="#ff6900"/><stop offset="0.2917" stop-color="#ff9600"/><stop offset="0.3333" stop-color="#ffc000"/><stop offset="0.3750" stop-color="#fff000"/><stop offset="0.4167" stop-color="#ffff3c"/><stop offset="0.4583" stop-color="#ffffa0"/><stop offset="0.5000" stop-color="#ffffff"/><stop offset="0.5417" stop-color="#96ffff"/><stop offset="0.5833" stop-color="#00ffff"/><stop offset="0.6250" stop-color="#00eeff"/><stop offset="0.6667" stop-color="#00c8ff"/><stop offset="0.7083" stop-color="#00a5ff"/><stop offset="0.7500" stop-color="#0080ff"/><stop offset="0.7917" stop-color="#005aff"/><stop offset="0.8333" stop-color="#0030ff"/><stop offset="0.8750" stop-color="#0000ff"/><stop offset="0.9167" stop-color="#0000d4"/><stop offset="0.9583" stop-color="#0000ac"/><stop offset="1.0000" stop-color="#00008b"/></linearGradient></defs><rect x="1058.3" y="59.9" width="33.5" height="902.4" fill="#262626"/><rect x="1064.8" y="65.1" width="20.5" height="892.0" fill="url(#cbA)"/><rect x="1076.3" y="59.2" width="9.5" height="5.6" fill="#262626"/><text x="1099.0" y="74.5" font-family='"Liberation Sans", sans-serif' font-size="30.5" font-weight="bold" fill="#1f1f1f">300</text><rect x="1076.3" y="208.9" width="9.5" height="5.6" fill="#262626"/><text x="1099.0" y="224.1" font-family='"Liberation Sans", sans-serif' font-size="30.5" font-weight="bold" fill="#1f1f1f">200</text><rect x="1076.3" y="358.5" width="9.5" height="5.6" fill="#262626"/><text x="1099.0" y="373.8" font-family='"Liberation Sans", sans-serif' font-size="30.5" font-weight="bold" fill="#1f1f1f">100</text><rect x="1076.3" y="508.2" width="9.5" height="5.6" fill="#262626"/><text x="1099.0" y="523.5" font-family='"Liberation Sans", sans-serif' font-size="30.5" font-weight="bold" fill="#1f1f1f">0</text><rect x="1076.3" y="657.9" width="9.5" height="5.6" fill="#262626"/><text x="1099.0" y="673.1" font-family='"Liberation Sans", sans-serif' font-size="30.5" font-weight="bold" fill="#1f1f1f">-100</text><rect x="1076.3" y="807.5" width="9.5" height="5.6" fill="#262626"/><text x="1099.0" y="822.8" font-family='"Liberation Sans", sans-serif' font-size="30.5" font-weight="bold" fill="#1f1f1f">-200</text><rect x="1076.3" y="957.2" width="9.5" height="5.6" fill="#262626"/><text x="1099.0" y="972.5" font-family='"Liberation Sans", sans-serif' font-size="30.5" font-weight="bold" fill="#1f1f1f">-300</text>
<g transform="translate(125.5 69.5) rotate(7.50)" fill="#1c1c1c" stroke="#fff" stroke-width="0.45" font-family='"Liberation Sans", sans-serif' font-size="50.0"><text x="0" y="0">50</text><text x="53.1" y="-18.0" font-size="46.0" stroke-width="1.00">°</text><text x="84.4" y="0">N</text></g>
<g transform="translate(71.5 428.0) rotate(7.50)" fill="#1c1c1c" stroke="#fff" stroke-width="0.45" font-family='"Liberation Sans", sans-serif' font-size="50.0"><text x="0" y="0">40</text><text x="53.1" y="-18.0" font-size="46.0" stroke-width="1.00">°</text><text x="84.4" y="0">N</text></g>
<g transform="translate(20.5 785.0) rotate(7.50)" fill="#1c1c1c" stroke="#fff" stroke-width="0.45" font-family='"Liberation Sans", sans-serif' font-size="50.0"><text x="0" y="0">30</text><text x="53.1" y="-18.0" font-size="46.0" stroke-width="1.00">°</text><text x="84.4" y="0">N</text></g>
<g transform="translate(325.8 1072.0) rotate(2.50)" fill="#1c1c1c" stroke="#fff" stroke-width="0.45" font-family='"Liberation Sans", sans-serif' font-size="50.0"><text x="0" y="0">80</text><text x="53.1" y="-18.0" font-size="46.0" stroke-width="1.00">°</text><text x="84.4" y="0">E</text></g>
<g transform="translate(671.5 1081.0) rotate(-1.50)" fill="#1c1c1c" stroke="#fff" stroke-width="0.45" font-family='"Liberation Sans", sans-serif' font-size="50.0"><text x="0" y="0">90</text><text x="53.1" y="-18.0" font-size="46.0" stroke-width="1.00">°</text><text x="84.4" y="0">E</text></g>
<g transform="translate(1000.5 1056.0) rotate(-8.50)" fill="#1c1c1c" stroke="#fff" stroke-width="0.45" font-family='"Liberation Sans", sans-serif' font-size="50.0"><text x="0" y="0">100</text><text x="80.9" y="-18.0" font-size="46.0" stroke-width="1.00">°</text><text x="112.2" y="0">E</text></g>
<g clip-path="url(#clipB)">
<g fill="none" stroke="#d0d0d0" stroke-width="1.2" stroke-dasharray="2 3" opacity="0.90"><path d="M1658.4 77.6 L1595.4 964.6"/><path d="M1904.4 81.6 L1938.5 970.2"/><path d="M1433.3 422.1 A2617.6 2617.6 0 0 0 2203.3 422.0"/><path d="M1378.8 788.9 A2988.5 2988.5 0 0 0 2257.9 788.8"/></g>
<g clip-path="url(#hullB)"><g filter="url(#blB)">
<path d="M1845.8 114.1l-120.2 68.6 -80.1 80.1 -185.3 177.8 0 37.6 40.1 92.6 60 140.2 16.1 59.1 64.1 43.6 315.5 153.7 66.5 4.5 4.6-0.3 0.1 0 23.1-1.6 23.1-1.8 0.1 0 23.1-2 23.1-2.1 0-0.1 23.1-2.3 23.1-2.4 23-2.7 0.1 0 23-2.8 23-3 0.1 0 13.2-1.8 36-6.3 0.3-0.3 0.3-0.5 0.4-0.5 0.3-0.5 0.2-0.5 0.2-0.6 0.1-0.6 0-0.5 -4.6-2.3 -131.7-881.4 -44.9 3.9 -5.8 0.7 -15.7 1.9 -69.8 13.6z" fill="#00a0ff" stroke="#00a0ff" stroke-width="8"/>
<path fill="#0000b5" d="M2150 59l-10 0 -2 2 -18 0 -2 3 -18 0 -2 2 -16 0 -2 3 -18 0 -2 2 -18 0 -2 3 -18 0 -2 2 -8 0 -2 3 -8 0 -2 2 -8 0 -2 3 -5 0 -3 2 -7 0 -3 3 -7 0 -3 2 -4 0 -3 3 -7 0 -3 2 -7 0 -3 3 -5 0 -2 2 -8 0 -2 3 -8 0 -2 2 -6 0 -2 3 -8 0 -2 2 -8 0 -2 3 -5 0 -3 2 -7 0 -3 3 -7 0 -3 2 -4 0 -3 3 -7 0 -3 2 -7 0 -3 3 -3 0 -2 2 -2 0 -8 8 -2 0 -6 5 -2 0 -5 5 -3 0 -7 7 -3 0 -4 5 -3 0 -5 5 -2 0 -8 8 -2 0 -6 5 -2 0 -5 5 -3 0 -14 15 -3 0 -15 15 -2 0 -16 15 -2 0 -15 15 -3 0 -14 15 -3 0 -13 12 -2 0 -15 15 -3 0 -14 15 -3 0 -145 140 0 37 100 233 7 25 2 2 0 2 2 2 0 3 3 3 0 2 5 5 0 3 30 30 0 2 6 6 11 8 2 0 2 2 2 1 3 2 3 0 2 2 2 0 3 3 3 0 2 2 2 0 3 3 3 0 2 2 2 0 3 3 3 0 4 5 3 0 3 2 2 0 2 3 3 0 3 2 2 0 2 3 3 0 3 2 2 0 2 3 3 0 2 2 3 0 2 3 3 0 2 2 3 0 2 2 3 1 2 2 3 0 2 2 3 1 2 2 219 106 57 4 2 0 3-2 34 0 3-3 23 0 2-2 22 0 3-3 23 0 2-2 22 0 3-3 17 0 3-2 20 0 3-3 17 0 3-2 14 0 3-3 17 0 3-2 15 0 2-3 10 0 2-1 -3-2z"/>
<path fill="#0000d0" d="M2150 59l-10 0 -2 2 -18 0 -2 3 -18 0 -2 2 -16 0 -2 3 -18 0 -2 2 -18 0 -2 3 -18 0 -2 2 -8 0 -2 3 -8 0 -2 2 -8 0 -2 3 -5 0 -3 2 -7 0 -3 3 -7 0 -3 2 -4 0 -3 3 -7 0 -3 2 -7 0 -3 3 -5 0 -2 2 -8 0 -2 3 -8 0 -2 2 -6 0 -2 3 -8 0 -2 2 -8 0 -2 3 -5 0 -3 2 -7 0 -3 3 -7 0 -3 2 -4 0 -3 3 -7 0 -3 2 -7 0 -3 3 -3 0 -2 2 -2 0 -8 8 -2 0 -6 5 -2 0 -5 5 -3 0 -7 7 -3 0 -4 5 -3 0 -5 5 -2 0 -8 8 -2 0 -6 5 -2 0 -5 5 -3 0 -14 15 -3 0 -15 15 -2 0 -16 15 -2 0 -15 15 -3 0 -14 15 -3 0 -13 13 -2-1 -15 16 -3-1 -14 16 -3-1 -145 140 0 37 100 233 7 25 2 2 0 2 2 2 0 3 3 3 0 2 5 5 0 3 30 30 0 2 6 6 11 8 2 0 2 2 2 0 3 3 3 0 2 2 2 0 3 3 3 0 2 2 2 0 3 3 3 0 2 2 2 0 3 3 3 0 4 5 3 0 3 2 2 0 2 3 3 0 3 2 2 0 2 3 3 0 3 2 2 0 2 3 3 0 3 2 2 0 2 3 3 0 2 2 3 0 2 3 3 0 2 2 3 0 2 2 3 1 2 2 219 106 55 4 4 0 3-2 34 0 3-3 23 0 2-2 22 0 3-3 23 0 2-2 22 0 3-3 17 0 3-2 20 0 3-3 17 0 3-2 14 0 3-3 17 0 3-2 15 0 2-3 10 0 2-1 -3-2z"/>
<path fill="#0000eb" d="M2150 59l-10 0 -2 2 -18 0 -2 3 -18 0 -2 2 -16 0 -2 3 -18 0 -2 2 -18 0 -2 3 -18 0 -2 2 -8 0 -2 3 -8 0 -2 2 -8 1 -2 2 -5 0 -3 2 -7 1 -3 2 -7 0 -3 2 -4 1 -3 2 -7 0 -3 2 -7 1 -3 2 -5 0 -2 2 -8 1 -2 2 -8 0 -2 2 -6 1 -2 2 -8 0 -2 3 -8 0 -2 2 -5 0 -3 3 -7 0 -3 2 -7 0 -3 3 -4 0 -3 2 -7 0 -3 3 -7 0 -3 2 -3 0 -2 3 -2 0 -8 7 -2 0 -6 5 -2 0 -5 5 -3 0 -7 8 -3 0 -4 5 -3 0 -5 5 -2 0 -8 7 -2 0 -6 5 -2 0 -5 5 -3 0 -14 15 -3 0 -15 15 -2 0 -16 15 -2 0 -15 15 -3 0 -14 15 -3 0 -13 13 -2 0 -15 15 -3 0 -14 15 -3 0 -145 139 0 37 100 233 7 25 2 2 0 2 2 2 0 3 3 3 0 2 5 5 0 3 30 30 0 2 6 7 11 7 2 0 2 2 2 0 3 3 3 0 2 2 2 0 3 3 3 0 2 2 2 0 3 3 3 0 2 2 2 0 3 3 3 0 4 5 3 0 3 2 2 0 2 3 3 0 3 2 2 0 2 3 3 0 3 2 2 0 2 3 3 0 3 2 2 0 2 3 3 0 3 2 2 0 2 3 3 0 2 2 3 0 2 2 3 1 2 2 219 106 53 4 6 0 3-3 34 0 3-2 23 0 2-3 22 0 3-2 23 0 2-2 22 0 3-3 17 0 3-3 20 0 3-2 17 0 3-3 14 0 3-2 17 0 3-2 15 0 2-3 10 0 2-1 -3-2 -129-867 -1-1 0-7zM1675 449l3 11 0 2 -10 4 -2-1 -3-5 9-10z"/>
<path fill="#0008ff" d="M2150 59l-10 0 -2 3 -18 0 -2 2 -18 0 -2 3 -16 0 -2 2 -18 0 -2 3 -18 0 -2 2 -18 0 -2 3 -8 0 -2 2 -8 0 -2 3 -8 0 -2 2 -5 0 -3 3 -7 0 -3 2 -7 0 -3 3 -4 0 -3 2 -7 0 -3 3 -7 0 -3 2 -5 0 -2 3 -8 0 -2 2 -8 0 -2 3 -6 0 -2 2 -8 0 -2 3 -8 0 -2 2 -5 0 -3 3 -7 0 -3 2 -7 0 -3 3 -4 0 -3 2 -7 0 -3 3 -7 0 -3 2 -3 0 -2 3 -2 0 -8 7 -2 0 -6 5 -2 0 -5 5 -3 0 -7 8 -3 0 -4 5 -3 0 -5 5 -2 0 -8 7 -2 0 -6 5 -2 0 -5 5 -3 0 -14 15 -3 0 -15 15 -2 0 -16 15 -2 0 -15 15 -3 0 -14 15 -3 0 -13 13 -2 0 -15 15 -3 0 -14 15 -3 0 -145 139 0 37 100 233 7 24 2 3 0 2 3 2 0 3 2 3 0 2 5 5 0 3 30 30 0 2 7 7 10 7 2 0 2 2 2 0 3 3 3 0 2 2 2 0 3 3 3 0 2 2 2 0 3 3 3 0 2 2 2 0 3 3 3 0 4 5 3 0 3 2 2 0 2 3 3 0 3 2 2 0 2 3 3 0 3 2 2 0 2 3 3 0 3 2 2 0 2 3 3 0 3 2 2 0 2 3 3 0 2 2 3 0 2 2 3 1 2 2 219 106 50 4 9 0 3-3 34 0 3-2 23 0 2-3 22 0 3-2 23 0 2-3 22 0 3-2 17 0 3-3 20 0 3-2 17 0 3-3 14 0 3-2 17 0 3-3 15 0 2-2 10 0 1-1 -2-2 0-5 -129-862 -1-1 0-8zM1680 388l2 0 28 8 40 1 20 3 18-4 20 15 3 1 1 3 -1 7 -6 8 -7 3 -10 6 -23 7 -7-1 -8 0 -14 5 -11 2 -3 1 -11 19 -4 28 2 5 0 27 16 23 -5 3 -18 3 -10 0 -26-9 -16-5 -3-2 -2-5 -9-30 -17-35 0-13 9-22 7-10 9-10 14-21 4-4zM1830 263l5 0 25 3 2 2 1 10 -1 2 -10 1 -12-2 -12-7 -18 1 -2-1zM1798 516l4 4 23 6 9 9 -4 3 -12 5 -5-1 -11-5 -10-8 0-4 1-5 1-2z"/>
<path fill="#0026ff" d="M1822 434l-7 9 -10 5 -11 7 -2 3 1 12 12 13 10 5 30 6 33-19 7-13 -15-28 -15 1 -5-2zM1728 462l-10 16 -2 17 0 10 4 7 1 13 7 9 2 2 8-1 15-7 5-1 7 2 2-1 12-26 1-2 -5-8 -7-27 -15-5zM2138 62l-18 0 -2 2 -18 0 -2 3 -16 0 -2 2 -18 0 -2 3 -18 0 -2 2 -18 0 -2 3 -8 0 -2 2 -8 0 -2 3 -8 0 -2 2 -5 0 -3 3 -7 0 -3 2 -7 0 -3 3 -4 0 -3 2 -7 0 -3 3 -7 0 -3 2 -5 0 -2 3 -8 0 -2 2 -8 0 -2 3 -6 0 -2 2 -8 0 -2 3 -8 0 -2 2 -5 0 -3 3 -7 0 -3 2 -7 0 -3 3 -4 0 -3 2 -7 0 -3 3 -7 0 -3 2 -3 0 -2 3 -2 0 -8 7 -2 0 -6 5 -2 0 -5 5 -3 0 -7 8 -3 0 -4 5 -3 0 -5 5 -2 0 -8 7 -2 0 -6 5 -2 0 -5 5 -3 0 -14 16 -3-1 -15 16 -2-1 -16 16 -2-1 -15 16 -3-1 -14 16 -3-1 -13 13 -2 0 -15 15 -3 0 -14 15 -3 0 -145 139 0 37 100 233 7 24 2 3 0 2 3 2 0 3 2 3 0 2 5 5 0 3 30 30 0 2 7 7 10 7 2 0 2 2 2 0 3 3 3 0 2 2 2 0 3 3 3 0 2 2 2 0 3 3 3 0 2 2 2 0 3 3 3 0 4 5 3 0 3 2 2 0 2 3 3 0 3 2 2 0 2 3 3 0 3 2 2 0 2 3 3 0 3 2 2 0 2 3 3 0 3 2 2 0 2 3 3 0 3 2 2 0 2 3 3 0 2 2 219 106 48 4 11 0 3-3 34 0 3-2 23 0 2-3 22 0 3-2 23 0 2-3 22 0 3-2 17 0 3-3 20 0 3-2 17 0 3-3 14 0 3-2 17 0 3-3 15 0 2-2 10 0 1-1 -2-2 0-6 -127-849 -1-1 -1-11 -1-1 -1-10 -10-1zM1662 361l26 3 20 10 12 2 18 6 17 0 23-3 14 0 48 20 24 6 0 5 1 2 7-4 23 4 13 6 17 1 7 3 21 10 1 6 -6 27 -3 5 -15 11 -25 7 -3 2 -11 20 -9 25 -23 13 -29 8 -20 0 -20 7 -40 4 -20 1 -12 4 -10 2 -20 1 -15-3 -21-6 -2-1 -10-10 -13-7 -9-19 -8-9 -8-14 -2-2 -11-6 -15-16 13-27 5-5 36-45 8-13 9-16zM1780 241l12 1 13 5 10 6 3 0 15-5 7 0 8-2 34 3 2 1 3 10 1 12 -2 18 -6 16 -2 1 -8-2 -12 1 -3-1 -10-6 -12-4 -13-8 -12 0 -10-4 -16-15 -1-3 -2-5 -2-10 1-8zM2140 422l8 0 1 3 -4 3 -22-3 9-3z"/>
<path fill="#0044ff" d="M1822 442l-8 13 -2 20 23 8 3 1 17-18 8-6 -1-2 -4-4 -13-13 -20 0zM1730 474l-5 8 -1 10 1 16 5 10 2 1 30 4 11-21 -11-17 -3-7 -11-6 -3-1 -13 2zM2138 62l-18 0 -2 2 -18 0 -2 3 -16 0 -2 2 -18 0 -2 3 -18 0 -2 2 -18 0 -2 3 -8 0 -2 2 -8 0 -2 3 -8 0 -2 2 -5 0 -3 3 -7 0 -3 2 -7 0 -3 3 -4 0 -3 2 -7 0 -3 3 -7 0 -3 2 -5 0 -2 3 -8 0 -2 2 -8 0 -2 3 -6 0 -2 2 -8 0 -2 3 -8 0 -2 2 -5 0 -3 3 -7 0 -3 2 -7 0 -3 3 -4 0 -3 2 -7 0 -3 3 -7 0 -3 3 -3-1 -2 3 -2 0 -8 8 -2 0 -6 5 -2 0 -5 5 -3 0 -7 7 -3 0 -4 5 -3 0 -5 5 -2 0 -8 8 -2 0 -6 5 -2 0 -5 5 -3 0 -14 15 -3 0 -15 15 -2 0 -16 15 -2 0 -15 15 -3 0 -14 15 -3 0 -13 12 -2 0 -15 15 -3 0 -14 15 -3 0 -145 139 0 37 100 233 6 21 1 0 0 3 2 3 0 2 3 2 0 3 2 3 0 2 5 5 0 3 30 30 0 2 8 7 8 6 3 0 2 3 2 0 3 2 3 0 2 3 2 0 3 2 3 0 2 3 2 0 3 2 3 0 2 3 2 0 3 2 3 0 4 5 3 0 3 3 2 0 2 2 3 0 3 3 2 0 2 2 3 0 3 3 2 0 2 2 3 0 3 3 2 0 2 2 3 0 3 3 2 0 2 2 3 0 3 3 2 0 2 2 3 0 3 3 218 106 46 4 13 0 3-3 34 0 3-2 23 0 2-3 22 0 3-2 23 0 2-3 22 0 3-2 17 0 3-3 20 0 3-2 17 0 3-3 14 0 3-2 17 0 3-3 15 0 2-2 11-1 -2-2 0-7 -127-848 -1-1 -1-10 -1-2 -1-10 -10-1zM1662 289l25-1 -5 22 6 30 12 8 12 7 8 5 30 10 50-1 30 12 20 5 20-9 8-2 9 0 11-9 2 2 3 10 1 2 9 8 29 14 20 6 6 1 17-2 3 2 2 5 5-3 3 0 12 5 12-4 30-6 73-3 7 1 26 7 1 1 7 18 -26 27 -25 1 -103-17 -7-3 -15 5 -15 15 -15 20 -28 24 -7 9 -13 21 -11 13 -3 2 -43 6 -20 6 -10 4 -13 1 -20 6 -14 3 -20 2 -20 5 -23 1 -15 4 -8 0 -27-4 -20-5 -2-1 -11-9 -24-16 -14-20 -26-17 -12-11 -16-18 -3-6 1-16 0-2 2-3 28-19 5-3 5-5 12-9 21-26 11-23 18-52 9-18zM1732 210l9 12 -6 6 -3 1 -4-2 -2-2 0-3 4-11zM1770 216l30 5 25 16 13 2 22-7 5-5 23-10 8 21 6 30 3 22 -3 30 -7 17 -20-4 -37-23 -43-18 -23-19 -5-8 -3-13 -3-4 -7-16 0-4zM2007 322l0 6 -5 2 -2-7 5-2zM1871 678l-6 14 -3 3 -2-1 -1-2 1-2 10-13z"/>
<path fill="#0062ff" d="M1720 205l0 2 9-7 -4 0zM1702 220l0 2 3 0 7-7 -4 0zM1825 448l-7 10 0 13 14 6 3-1 16-16 -11-12zM1732 488l0 20 3 7 20 4 3 0 2-1 5-13 0-3 -10-15 -11-2 -4-2 -5 0 -2 2zM2138 62l-18 0 -2 3 -18 0 -2 2 -16 0 -2 3 -18 0 -2 2 -18 0 -2 3 -18 0 -2 2 -8 0 -2 3 -8 0 -2 2 -8 0 -2 3 -5 0 -3 2 -7 0 -3 3 -7 0 -3 2 -4 0 -3 3 -7 0 -3 2 -7 0 -3 3 -5 0 -2 2 -8 0 -2 3 -8 0 -2 2 -6 0 -2 3 -8 0 -2 2 -8 0 -2 3 -5 0 -3 2 -7 0 -3 3 -7 0 -3 2 -4 0 -3 3 -7 0 -3 2 -7 0 -3 3 -3 0 -2 2 -2 0 -8 8 -2 0 -6 5 -2 0 -5 5 -3 0 -7 7 -3 0 -4 5 -3 0 -5 5 -2 0 -8 8 -2 0 -6 5 -2 0 -5 5 -3 0 -10 10 1 2 2-1 27 4 23-4 23 18 9 8 13 8 5 1 12-3 4-3 6-7 13-20 2 1 18 1 2 2 10 18 5 12 0 13 11 53 0 10 4 12 2 18 -3 10 1 9 23 26 5 1 28-3 10-5 17 2 13 8 17 3 20-2 47-2 18 2 50 13 13 35 -45 50 -3 2 -45 2 -78-14 -20-8 -2 1 -12 11 -6 6 -10 10 -29 40 -16 15 -2 1 -20 3 -8-1 -32 5 -17 4 -18 9 -5 0 -13 3 -12 1 -8 3 -12 3 -12 1 -30 7 -10 1 -20 4 -23-3 -27-8 -17-3 -23-13 -11-9 -5-7 -10-7 -17-16 -14-8 -16-14 -12-26 1-8 -2-14 6-8 11-12 31-22 5-6 6-10 9-25 24-45 48-49 6-1 34-22 3 0 8 12 2 10 -2 20 -4 20 9 17 2 3 8 6 27 10 23 3 32 0 30 11 2 0 10-8 5-2 2-2 -1-6 -3-2 -5-9 -20-14 -2-2 -4-10 -34-14 -13-9 -12-9 -12-18 -1-5 -1-2 -7-8 -2-4 -2 1 -2-1 -20-7 -1-1 0-3 3-13 0-1 -30 27 -1 0 1-3 10-20 -2 0 -6 5 -2 0 -15 15 -3 0 -14 15 -3 0 -13 12 -2 0 -15 15 -3 0 -14 15 -3 0 -145 139 0 37 100 233 6 20 1 1 0 3 3 3 0 2 2 2 0 3 3 3 0 2 4 5 1 3 29 30 0 2 8 8 8 5 3 0 2 3 2 0 3 2 3 0 2 3 2 0 3 2 3 0 2 3 2 0 3 2 3 0 2 3 2 0 3 2 3 0 4 5 3 0 3 3 2 0 2 2 3 0 3 3 2 0 2 2 3 0 3 3 2 0 2 2 3 0 3 3 2 0 2 2 3 0 3 3 2 0 2 2 3 0 3 3 2 0 2 2 3 0 3 3 218 106 44 3 15 0 3-2 34 0 3-3 23 0 2-2 22 0 3-3 23 0 2-2 22 0 3-3 17 0 3-2 20 0 3-3 17 0 3-2 14 0 3-3 17 0 3-2 15 0 2-3 11 0 -3-2 0-8 -126-846 -1-2 -1-10 -2-2 0-10 -10 0zM1874 680l-5 12 -7 6 -2 0 -4-3 0-5 1-2 11-14 4-1 3 2zM1845 155l8 5 10 25 6 10 -1 2 -8-10 -15-7 -15-8 -2-12 10-5zM2022 307l17 3 2 2 1 16 -1 14 -19 17 -8 3 -2 1 -17-3 -17-15 -1-3 1-22 3-2 14-7 17-5z"/>
<path fill="#007fff" d="M1798 175l6 23 9 7 15 15 4 3 3-1 4-2 13-15 -2-3 -28-14 -22-15zM1733 298l1 24 11 16 10 3 13 3 17 6 37 0 -3-5 -7-23 -2-3 -28-12 -17-10 -17-5 -10-10 -4 6zM1822 465l0 3 8 2 9-8 -1-2 -3-4 -3-1 -7 0 -3 5zM1740 512l12 3 3-1 3-9 -6-9 -2-1 -10-2 -1 2 -1 13zM2138 62l-18 0 -2 3 -18 0 -2 2 -16 0 -2 3 -18 0 -2 2 -18 0 -2 3 -18 0 -2 2 -8 0 -2 3 -8 0 -2 2 -8 0 -2 3 -5 0 -3 2 -7 0 -3 3 -7 0 -3 2 -4 0 -3 3 -7 0 -3 2 -7 0 -3 3 -5 0 -2 2 -8 0 -2 3 -8 0 -2 2 -6 0 -2 3 -8 0 -2 2 -8 0 -2 3 -5 0 -3 2 -7 0 -3 3 -7 0 -3 2 -4 0 -3 3 -7 0 -3 2 -7 0 -3 3 -3 0 -2 2 -2 0 -8 8 -2 0 -6 5 -2 0 -5 5 -3 0 -7 7 -3 0 -4 5 -3 0 -5 5 -2 0 -8 8 -2 0 -6 5 -2 0 -5 5 -3 0 -5 5 1 2 2-1 15 2 13-3 20-15 17-15 27-15 23 2 17 9 2 2 8 20 3 4 7 1 10 10 16 35 0 20 5 27 3 5 5 18 8 12 3 12 3 2 3-9 3-3 27-8 7-3 25-6 18 2 22 4 5 0 45-21 4-2 8-26 28 13 27 23 2 2 -57 25 -7-2 -5 2 -25 13 -5 12 8 20 0 2 -4 3 1 0 33 4 72 20 1 1 19 50 -68 74 -2 2 -65 3 -50-9 -7-2 -8 2 -32 15 -3 2 -13 18 -10 6 -17 7 -10 0 -20 2 -13-2 -17 3 -10 1 -15 4 -22 11 -23 3 -13 4 -27 6 -53 12 -12 1 -18-3 -10-6 -17-5 -13-2 -12-1 -15-6 -45-41 -15-9 -10-8 -11-14 -14-26 -1-2 -3-22 12-17 4-6 28-23 32-60 41-40 -1-1 -2 1 -2-2 12-25 -2 0 -3 2 -3 0 -14 15 -3 0 -145 139 0 37 100 233 6 20 1 1 0 3 3 3 0 2 2 2 0 3 3 3 0 2 5 5 0 3 29 30 0 2 8 8 5 3 3 2 3 0 2 3 2 0 3 2 3 0 2 3 2 0 3 2 3 0 2 3 2 0 3 2 3 0 2 3 2 0 3 2 3 0 4 5 3 0 3 3 2 0 2 2 3 0 3 3 2 0 2 2 3 0 3 3 2 0 2 2 3 0 3 3 2 0 2 2 3 0 3 3 2 0 2 2 3 0 3 3 2 0 2 2 3 0 3 3 218 106 42 3 17 0 3-2 34 0 3-3 23 0 2-2 22 0 3-3 23 0 2-2 22 0 3-3 17 0 3-2 20 0 3-3 17 0 3-2 14 0 3-3 17 0 3-2 15 0 2-3 11 0 -3-2 0-9 -126-845 -1-2 -1-10 -2-2 0-10 -10 0zM1879 675l-2 7 -4 10 -8 6 -3 2 -2 0 -8-5 2-10 6-7 5-6 3-1 4-1z"/>
<path fill="#009dff" d="M1750 180l-5 5 -3 0 0 1 7-1 13-10 -4 0 -6 5zM1752 508l-2-3 -2-2 -3 1 0 4 2 2 3 0zM1780 162l7-4 -5-1 -2 3zM1779 162l-4 0 -3 3 0 2zM1762 175l8-6 2-1 -4-1 -6 5zM2138 62l-18 0 -2 3 -18 0 -2 2 -16 0 -2 3 -18 0 -2 2 -18 0 -2 3 -18 0 -2 2 -8 0 -2 3 -8 0 -2 2 -8 0 -2 3 -5 0 -3 2 -7 0 -3 3 -7 0 -3 2 -4 0 -3 3 -7 0 -3 2 -7 0 -3 3 -5 0 -2 2 -8 0 -2 3 -8 0 -2 2 -6 0 -2 3 -8 0 -2 2 -8 0 -2 3 -5 0 -3 2 -7 0 -3 3 -7 0 -3 2 -4 0 -3 3 -7 0 -3 2 -7 0 -3 3 -3 0 -2 2 -2 0 -8 8 -2 0 -6 5 -2 0 -5 5 -3 0 -5 5 1 2 10-6 30-16 34 1 3 1 2 3 21 12 8 13 18 20 14 26 0 39 4 22 10 13 3 7 3 5 2 0 28-8 27-4 13-1 22 4 10 1 25-11 20-61 60 29 27 22 -28-184 -1-2 -1-10 -2-2 0-10 -10 0zM1785 324l-14 8 1 3 14 5 14 0 -3-10zM2191 330l-75 25 0 3 74 19 2 3 10 25zM1567 732l0 3 3 3 0 2 2 2 0 3 3 3 0 2 5 5 0 3 29 30 0 2 8 8 8 5 3 0 2 3 2 0 3 2 3 0 2 3 2 0 3 2 3 0 2 3 2 0 3 2 3 0 2 3 2 0 3 2 3 0 4 5 3 0 3 3 2 0 2 2 3 0 3 3 2 0 2 2 3 0 3 3 2 0 2 2 3 0 3 3 2 0 2 2 3 0 3 3 2 0 2 2 3 0 3 3 2 0 2 2 3 0 3 3 218 106 40 3 19 0 3-2 34 0 3-3 23 0 2-2 22 0 3-3 23 0 2-2 22 0 3-3 17 0 3-2 20 0 3-3 17 0 3-2 14 0 3-3 17 0 3-2 15 0 2-3 11 0 -3-2 0-10 -68-455 -80 69 -4 7 -2-4 -1-1 -77 3 -6-1 -4 1 -30-8 -38 16 -20 11 -12-2 -8 2 -20-1 -12 1 -18-2 -15 2 -10 0 -13 4 -27 13 -15 1 -18 6 -21 5 -33 10 -20 5 -20 0 -20-1 -16-10 -7-3 -7-1 -23-1 -20-6 -9-13 -36-30 -15-10 -8-8 -14-19 -8-15 -5-6 -6-5 -1-2 -4-8 -6-17 15-13 10-12 22-18 17-32 24-25 -1-1 -15 3 5-12 -100 96 0 37 100 233 6 20zM1708 700l-9-2 -1-3 2-3 2 1 3 2zM1872 668l10 4 0 3 -2 10 -4 7 -14 11 -4-1 -7-4 -2-3 1-10 1-3 4-4 8-8 2-1zM2185 705l15 1 2 2 5 12 -1 8 -4 7 3 13 5 6 2 5 19 53 -1 2 -5-1 -3 1 -4 4 -14 7 -24 5 -8 3 -24-4 -3-2 -7-6 -20-12 -5-1 3-6 17-22 2-9 5-11 11-20 9-30 5-3z"/>
<path fill="#00bbff" d="M2138 62l-18 0 -2 3 -18 0 -2 2 -16 0 -2 3 -18 0 -2 2 -18 0 -2 3 -18 0 -2 2 -8 0 -2 3 -8 0 -2 2 -8 0 -2 3 -5 0 -3 2 -7 0 -3 3 -7 0 -3 2 -4 0 -3 3 -7 0 -3 2 -7 0 -3 3 -5 0 -2 2 -8 0 -2 3 -8 0 -2 2 -6 0 -2 3 -7 0 -3 2 -6 0 -4 3 -4 0 2 2 23-2 7 19 19 8 23 6 1 2 -1 21 38 24 -48 20 -1 5 -1 8 2 40 2 4 3 4 13 4 14-4 16-1 34-1 22 1 8-17 26-74 2 0 90 42 6 5 -20-135 -1-1 -1-11 -1-2 -1-10 -2-2 0-10 -10 0zM1502 401l-42 40 0 1 5-1 38-23 7-6 5-10 5-5 -2 0zM1560 711l6 20 1 1 0 3 3 3 0 2 2 2 0 3 3 3 0 2 5 5 0 3 30 30 0 2 7 8 8 5 3 0 2 2 2 1 3 2 3 0 2 2 2 0 3 3 3 0 2 2 2 0 3 3 3 0 2 2 2 0 3 3 3 0 4 5 3 0 3 2 2 0 2 3 3 0 3 2 2 0 2 3 3 0 3 2 2 0 2 3 3 0 3 2 2 0 2 3 3 0 3 2 2 0 2 3 3 0 3 2 2 0 2 3 3 0 4 4 206 100 3-2 12 5 2-1 8-4 5 3 5 1 52 4 20 0 3-3 23 0 2-2 22 0 3-3 23 0 2-2 22 0 3-3 17 0 3-2 20 0 3-3 12 0 2-4 1-1 -38-47 -20-15 -7-2 0-6 -8-10 -12-4 -13-1 -7-8 -10-5 -13-15 -13-9 -10-6 -3-5 1-22 3-8 9-11 11-6 2-3 5-3 12-14 3-5 2-5 7-53 1-2 16-10 14-5 3-3 -39-100 -1 0 -58 1 -10-6 -2-1 -40 9 -6-1 -35 17 -25-7 -34-2 -23-3 -20 2 -10 2 -30 15 -13 1 -17 7 -15 3 -12 8 -38 9 -8 4 -12-2 -18 1 -20-2 -20-13 -34-1 -20-6 -3-3 -13-11 -4-8 -3-3 -45-37 -22-33 -16-8 -7-5 -5-11 -7 6zM1702 679l16 14 9 15 1 2 -28-6 -5-2 -4-4 0-3 4-10zM1875 665l11 7 -5 18 -2 2 -14 12 -3 1 -4 0 -12-7 1-16 1-2 14-14zM2227 571l-42 89 43 5 20 51zM2272 874l-12-16 -2-2 -38-10 -32 12 -1 2 2 5 23 53 14 17 2 13 4 0 3-3 17 0 3-2 15 0 2-3 11 0 -3-2 0-11z"/>
<path fill="#00d9ff" d="M1902 941l10 1 10-10 33 15 10 2 23-14 4-2 17 12 16 1 3 0 5-7 12-12 14-9 4-63 -3-3 -20-10 -9-14 7-6 -3-17 0-5 5-25 3-23 4-10 -12-16 -10-4 2-2 9-5 7-11 45-51 24-8 4-3 -25-62 -1-1 -2 0 -33 1 -23-13 -40 9 -24 11 -16 6 -1-8 -1-1 -20-5 -30-2 -2-1 -26-1 -20 1 -4 1 -21 11 -12 4 -7 2 -28 10 -18 12 -24 6 -13 11 -3 1 -37-5 -3 0 -10 5 -2 0 -5-6 -7-3 -23-13 -20-1 -15 8 -25-1 -3 0 -6-16 -6-5 -14-25 -31-27 -18-25 -5-2 -4 7 -3 11 60 138 17 28 3 4 5-1 0 5 -1 5 11 20 1 23 1 2 28 28 0 2 11 10 1 0 3 3 3 0 2 2 2 0 3 3 3 0 2 2 2 0 3 3 3 0 2 2 2 0 3 3 3 0 2 2 2 0 3 3 3 0 4 5 3 0 3 2 2 0 2 3 3 0 3 2 2 0 2 3 3 0 3 2 2 0 2 3 3 0 3 2 2 0 2 3 3 0 3 2 2 0 2 3 3 0 3 2 2 0 2 3 3 0 4 4zM1668 644l19 31 -5 3 -24 6 -10-1 -16-18 16-1 2-1 15-19zM1702 667l26 18 2 5 8 10 1 2 -5 8 0 5 -2 2 -4 2 -8-5 -20-5 -9-4 -8-7 0-3 8-17zM1872 662l5 0 12 8 0 2 -3 16 -3 4 -18 14 -7 2 -16-11 2-17 1-2 15-14 2-1z"/>
<path fill="#00f7ff" d="M1497 562l31 73 27 0 0-3 -33-42 -9-10 -7-18zM1617 622l2 10 2 3 27 15 2 0 2-2 0-3 -15-20 -9-5 -6 0zM2028 577l-30 7 -50 21 -2-3 -2-12 -2-2 -17-5 -23-1 -7-2 -17-2 -28 3 -20 10 -16 7 -6 5 -20 11 -20 15 -20 10 -9 6 6 8 3 17 -2 10 1 10 3 5 -11 17 1 10 -12 5 -3 1 -13-10 -10-2 -7-3 -11-8 -9-7 3-8 -13 2 -16-2 -4-2 -15-18 -27-5 -1-4 -2 0 -3 4 -12 2 -3 5 -7 40 1 3 7 15 0 8 2 7 0 13 1 4 4 6 20 20 0 2 11 10 1 0 3 3 3 0 2 2 2 0 3 3 3 0 2 2 2 0 3 3 3 0 2 2 2 0 3 3 3 0 2 2 2 0 3 3 3 0 4 5 3 0 3 2 2 0 2 3 3 0 3 2 2 0 2 3 3 0 3 2 2 0 2 3 3 0 3 2 2 0 2 3 3 0 3 2 2 0 2 3 3 0 3 2 2 0 2 3 3 0 4 4 3 1 2 1 114 55 22 2 2 0 13-13 5-2 50 23 18 4 40-25 0-8 7-25 -10-9 0-1 2-15 8-26 6-6 -3-18 1-12 8-18 1-7 7-18 -6-10 -11-4 -7-6 -33-7 -18-5 -11-5 1-1 2 0 3 2 3 0 2 1 5-3 3 0 14 6 33-15 13-8 2-1 22-39 20-22 10-4 2-2 -10-24 -2-2 -14 0zM1875 659l2 0 16 11 -4 20 -24 19 -10 1 -14-10 -2-2 2-16 -1-4 20-17z"/>
<path fill="#00ffe5" d="M1812 898l36 3 10-1 30 2 10-6 7-4 43 20 22 5 27-17 1-2 -2-26 4-17 0-10 12-35 3-25 7-20 -2-10 3-7 -1-3 -2-3 -5-2 -10-11 -27-5 -13-4 -7-1 -29-14 -5-7 1-3 5-4 2 0 16 7 32-23 10 4 2 0 30-15 32-54 -1-2 -30-20 -3-1 -18 4 -60 25 -2 0 -4-24 -4-1 -10-3 -17-1 -10-4 -15-1 -28 2 -27 14 -10 14 -15 10 0 16 -21 10 0 2 1 2 11 20 -4 3 -17 5 -2 2 -2 8 -10 5 -11 17 2 16 -2 2 -15 5 -2 2 -22-15 -6-2 -12-10 -18-12 -30-8 -12-16 -26-4 -10 9 -4 2 -7 31 6 13 -1 13 2 10 1 12 5 10 6 8 10 10 0 2 9 9 3 1 3 3 3 0 2 2 2 0 3 3 3 0 2 2 2 0 3 3 3 0 2 2 2 0 3 3 3 0 2 2 2 0 3 3 3 0 4 5 3 0 3 2 2 0 2 3 3 0 3 2 2 0 2 3 3 0 3 2 2 0 2 3 3 0 3 2 2 0 2 3 3 0 3 2 2 0 2 3 3 0 3 2 2 0 2 3 3 0 4 4 3 1 2 1 4 1 1 2 3 1 2 1zM1858 658l20-2 17 12 1 2 -2 15 1 7 -2 10 -1 2 -10-5 -4 3 -13 10 -10 1 -19-13 0-12 -7-16 -1-2 12-4 5 2 3-1z"/>
<path fill="#00ffc3" d="M1855 588l-5 1 -15 10 -17 23 -3 4 -1 2 0 4 4 16 10 12 10-3 10 4 2 0 5-5 3-1 20-2 2 1 20 14 -1 10 3 12 -2 13 18 4 0-2 -5-10 -1-3 1 0 12-10 3 0 8 3 6-4 50-36 3-1 5 2 17-8 16-28 -1-2 -14-10 -3 0 -10 2 -70 29 -1-1 -1-3 -5-30 -8-2 -12-1 -16-6 -10 0zM1605 675l-14 13 -5 22 0 2 4 8 -2 18 4 20 5 12 23 30 2 0 3 3 3 0 2 2 2 0 3 3 3 0 2 2 2 0 3 3 3 0 2 2 2 0 3 3 3 0 2 2 2 0 3 3 3 0 4 4 3 1 3 1 2 1 56 27 44 24 62 9 10 0 19 8 7 0 2 0 15-12 15-7 35 16 27 6 16-9 0-2 -1-12 7-23 -1-15 9-25 5-10 2-20 7-23 -2-12 -14-17 -25-4 -10-3 -13-1 -32-17 -2 0 -3 2 -20 6 -3 0 -17-7 -3 0 -7 5 -10 1 -20-13 -2-2 -3-6 -4 6 -14 12 -2 0 -10-3 -17-3 -8-10 -3-1 -12 4 -2 3 -7 10 -1 3 3 20 -6 3 -12 9 -3-1 -12-11 -20-11 -15-13 -15-11 -22-7 -10-1 -10-12 -3-2z"/>
<path fill="#00ffa0" d="M1892 589l-40 3 -5 3 -11 10 -14 23 13 20 17 6 28-3 22 14 2 3 1 5 15 1 10-5 78-56 2-1 2-2 -2-2 -2 1 -78 31 -2 1 -8-42 -2-1 -8-1zM1608 679l-13 11 -3 20 1 8 -2 22 5 18 7 17 17 22 7 5 68 31 13 3 62 34 20 3 15 3 33 5 17 0 15-2 18 0 2-1 15-9 7-6 16-6 2-2 8-15 1-2 3 0 3 2 -8 22 5 16 33 7 3-1 1-2 9-30 -1-14 0-6 8-20 8-14 2-15 6-23 -1-3 -12-17 -3-3 -20-3 -10-3 -17-1 -16-7 -14-4 -28 8 -23-9 -15-1 -14-9 -20 15 -10 9 -3 6 -17 15 -2-1 -4-12 -2-3 -1-2 7-13 -14-21 -10 4 -6 10 3 20 1 3 5 2 5 5 14 10 -22 1 -12 2 -1 0 0-3 -1-2 -6 4 -4-2 -23-20 -15-9 -16-14 -16-11 -20-6 -16-2 -7-10 -3-1z"/>
<path fill="#00ff7d" d="M1892 593l-40 3 -14 14 -9 15 -2 3 11 15 17 6 25-2 12 7 13 6 15-5 2-3 -2-4 -6-40 -2-6zM1761 715l2 13 2 2 5 1 2 0 7-11 -7-9 -2-3 -5 2zM1605 688l-5 4 -3 18 -4 30 5 18 10 20 12 15 10 9 58 26 10 3 2 0 2-1 8 1 50 29 35 4 40 8 13-1 27-6 10-2 10-3 17-15 6-3 4-4 4-13 2-1 17 3 10 6 1 2 -8 17 -3 8 0 2 3 6 2 2 18 2 6-17 7-10 2-23 5-12 10-18 2-10 7-22 -12-19 -14-1 -16-3 -20-1 -33-7 -27 7 -17-6 -10-10 -6 0 -7-4 -23 16 -2 3 -7 13 -20 17 -11-4 -20 0 -14 2 -6 0 -31-28 -16-10 -13-11 -16-12 -18-5 -19-2 -7-8 -2-1 -10-2z"/>
<path fill="#28ff61" d="M1888 596l-33 2 -2 2 -5 8 -8 7 -6 10 -1 3 7 10 8 2 7 5 30-1 20 9 13-5 -6-38 -2-4zM1770 720l1-2 -1-2 -2-1 -1 3 0 2zM1605 694l-2 11 -4 7 -3 28 6 20 16 27 9 8 6 7 52 23 10 2 3 1 4-2 13 2 43 25 12-2 30 3 18 3 22 3 30-8 22-4 16-16 4-7 3-10 3-9 1-1 13-3 0 10 18 4 17 12 1 1 -14 29 1 2 21-28 2-17 2-5 14-25 3-10 6-15 -1-2 -10-14 -32-2 -20 3 -32-5 -11 2 -9 8 -10-3 -13-5 -37 0 0 1 -6 12 -2 3 -20 17 -2 0 -16-9 -17 0 -15 2 -8 0 -4-3 -3-4 -29-26 -14-10 -12-11 -15-10 -17-5 -20-2 -4-2 -4-5 -8-1 -2 0z"/>
<path fill="#62ff47" d="M1885 599l-30 3 -7 12 -9 11 -1 3 2 2 18 12 30-3 17 7 9-4 0-4 -4-24 -2-4zM1609 698l-2 7 -5 5 -4 30 3 12 3 8 13 22 11 10 9 10 33 16 10 3 15 3 7-3 16 2 30 18 7 4 3 1 17-5 5 0 10 1 10 0 35 6 23-8 32-3 2-2 12-23 6-24 2-5 23-5 10-5 3 1 2 2 3 4 -3 8 -1 14 1 3 5 1 7 5 3-1 3-5 4-3 3-2 8-15 1-7 4-1 2 0 2-1 7-16 -1-2 -6-9 -2-2 -20 0 -5 4 -27 3 -18-2 -12 12 -8 2 -10-4 -11-2 -14-4 -15-2 -18 0 -2 6 -8 3 -7 15 -7 7 -3 1 -25-15 -12 0 -13 2 -13-1 -4-2 -6-8 -33-30 -21-17 -16-10 -14-4 -26-3 -4-4 -3 0 -3 0z"/>
<path fill="#9bff2d" d="M1882 603l-24 1 -2 1 -13 20 1 3 14 10 34-4 13 5 5-2 1-5 -3-17zM1975 751l-12 11 -2 3 1 1 8 0 20 5 5-11 -1-2 -4-7zM1615 698l-10 12 -5 30 4 12 4 10 10 18 12 10 10 12 28 13 24 5 10-4 18 0 5 5 30 17 30-7 5 0 12 0 30 6 30-1 26-3 2-2 11-21 5-30 -2-2 -12-9 -30-4 -22 0 -2 0 -13 5 -3 3 -12 27 -1-2 0-3 -2-3 -27-15 -10-1 -12 2 -16-2 -7-2 -5-9 -25-23 -9-10 -18-15 -18-11 -12-3 -28-3z"/>
<path fill="#d5ff13" d="M1858 608l-11 17 13 9 38-4 7 2 3-1 -1-9 -2-3 -25-13 -5 0 -15 1zM1975 760l2 2 11 3 2-5 0-2 -2-4 -6 0 -2 1zM1615 703l-7 7 -3 12 -2 18 2 10 6 12 9 17 12 9 12 14 4 3 12 5 30 7 18-8 12 0 10 9 22 13 28-5 8-5 12-1 2-22 -1-3 -23-13 -16 0 -20-2 -10-3 -6-12 -18-16 -13-14 -20-17 -10-7 -7-3 -10-3 -30-3zM1840 770l-7 5 -8 3 -6 12 -11 28 0 2 20 4 4 6 3 1 30 1 23-3 10-19 0-15 2-13 0-2 -8-6 -14-1 -15-5z"/>
<path fill="#fff700" d="M1860 610l-8 12 1 3 7 5 44-5 -2-3 -27-13zM1618 704l-7 6 -3 12 -3 18 3 10 5 13 7 12 13 10 17 19 5 2 33 7 10-3 14-8 10 0 10 11 18 10 2 1 23-4 10-7 3-1 4 0 2-2 1-12 -17-10 -3-1 -7 0 -26-3 -12-3 -7-13 -15-15 -18-21 -16-12 -15-10 -11-4zM1842 773l-17 14 -8 21 0 2 1 1 4 1 13 15 33 1 18-3 8-15 1-28 -2-2 -11-2 -20-6z"/>
<path fill="#ffda00" d="M1860 614l-3 6 -1 2 6 4 30-4 -20-10 -10 1zM1614 710l-6 30 2 9 6 13 6 12 13 9 13 14 6 5 31 8 13-5 20-9 4-1 3 1 13 14 10 5 7 3 15-3 18-13 1-2 -1-1 -13-7 -33-3 -14-5 -9-16 -9-8 -24-28 -15-12 -16-10 -7-2 -30-2zM1860 775l-15 1 -3 1 -12 11 0 8 -4 12 0 2 12 12 32 2 13-2 2-2 5-10 1-20 -1-5z"/>
<path fill="#ffbd00" d="M1860 620l2 2 3 0 12-2 -9-5 -6 1zM1616 710l-6 30 2 8 7 17 3 6 14 9 14 15 7 5 8 3 17 3 13-4 31-14 -9-18 -34-38 -18-14 -10-6 -5-1 -30-3zM1845 780l-9 8 -1 2 1 18 -1 4 3 5 34 3 10-2 5-8 0-12 0-6 -5-5 -2-2 -22-7 -10 1zM1730 793l10 8 1 4 14 6 10-1 10-8 -7-4 -26-4 -2-2 -5 0 -3-2 -4 0z"/>
<path fill="#ffa000" d="M1618 715l-5 25 1 8 8 17 3 4 15 10 12 12 10 7 18 4 15-4 22-10 1-3 -5-15 -33-37 -10-9 -18-11 -4-1 -28-2zM1842 787l-1 3 0 18 1 4 10 2 23 2 5-1 2-3 1-2 0-10 -8-12 -17-7 -10 1z"/>
<path fill="#ff8300" d="M1620 718l-4 17 -1 7 7 19 3 4 17 12 10 9 13 9 13 4 15-4 19-10 -4-10 0-3 1-2 -2-2 -30-36 -9-7 -17-10 -3-1 -23 0 -3 0zM1850 785l-4 5 0 10 2 3 20 7 10 1 1-1 -1-5 -12-17 -11-4z"/>
<path fill="#ff6600" d="M1630 718l-5 1 -3 5 -2 5 -2 13 4 13 13 12 10 7 7 7 16 10 7 3 3 1 12-3 14-7 1-3 -2-7 1-5 0-2 -31-36 -9-7 -14-8zM1852 794l10 4 1 0 -1-3 -3-5 -4-2 -3 0 -1 2z"/>
<path fill="#ff4900" d="M1628 724l-6 10 -2 8 2 6 20 20 28 20 5 3 3 0 12-4 9-5 -2-4 4-10 -31-36 -5-4 -10-6 -3-1 -22 1z"/>
<path fill="#ff2c00" d="M1632 726l-7 14 -1 2 29 28 22 16 3 1 14-5 4-14 -1-3 -31-35 -6-4 -13 0z"/>
<path fill="#ff0f00" d="M1660 731l-25 0 -5 9 5 6 21 22 19 13 3 1 10-3 4-14 -29-33z"/>
<path fill="#f10000" d="M1638 736l-2 4 26 27 13 9 3 0 4-1 3-1 3-9 -1-3 -22-24 -15-4 -10 0z"/>
<path fill="#d40000" d="M1643 740l24 25 8 6 3 0 3-1 3-5 0-3 -16-17 -23-6z"/>
<path fill="#b70000" d="M1659 750l11 12 5 4 3 0 1-1 1-3 -8-8 -12-4z"/>
</g></g>
<g clip-path="url(#hullB)"><g fill="none" stroke="#7fa8e8" stroke-width="1.2" stroke-dasharray="2 3" opacity="0.40"><path d="M1658.4 77.6 L1595.4 964.6"/><path d="M1904.4 81.6 L1938.5 970.2"/><path d="M1433.3 422.1 A2617.6 2617.6 0 0 0 2203.3 422.0"/><path d="M1378.8 788.9 A2988.5 2988.5 0 0 0 2257.9 788.8"/></g></g>
</g>
<g fill="none" stroke="#000" stroke-width="5.0" stroke-linejoin="round" stroke-linecap="round" filter="url(#rough)"><path d="M1583.2 651.4L1576.8 646.1L1567.1 641.8L1563.9 631.2L1560.7 620.6L1560.7 609.9L1548.9 607.8L1536.0 604.6L1523.1 598.2L1515.6 590.8L1506.0 588.7L1500.6 579.1L1503.8 569.6L1499.5 561.1L1488.8 554.7L1484.5 546.2L1473.8 543.0L1463.1 539.8L1460.9 533.4L1471.6 531.3L1480.2 524.9L1477.0 514.3L1475.9 501.6L1477.0 488.8L1469.5 481.4L1458.8 479.3L1449.1 480.3L1447.0 470.5L1451.2 464.1L1445.9 455.6L1443.7 448.2L1452.3 445.0L1455.5 436.5L1458.8 428.0L1469.5 423.8L1484.5 415.3L1490.9 412.1L1506.0 410.0L1511.3 415.3L1512.4 423.8L1521.0 422.7L1531.7 423.8L1538.2 415.3L1544.6 402.5L1552.1 399.3L1568.2 403.6L1585.4 390.8L1609.0 380.2L1634.7 370.6L1643.3 365.3L1645.5 349.4L1648.7 342.0L1656.2 336.7L1662.6 328.2L1661.6 315.4L1656.2 304.8L1654.0 285.7L1655.1 275.0L1647.6 268.7L1642.2 263.4L1651.9 259.1L1673.4 253.8L1691.6 249.5L1699.1 254.9L1712.0 259.1L1716.3 252.7L1707.7 243.2L1707.7 232.5L1714.1 221.9L1720.6 204.9L1724.9 194.3L1730.2 182.6L1746.3 190.1L1761.3 193.2L1776.4 197.5L1789.2 191.1L1796.8 183.7L1796.8 170.9L1794.6 158.2L1794.6 147.6L1804.3 140.1L1817.1 136.9L1822.4 131.6L1823.4 119.9L1828.8 114.6L1840.6 114.6L1850.3 112.5L1852.4 122.1L1854.5 130.6L1864.2 139.1L1872.8 147.6L1883.5 152.9L1894.2 153.9L1907.1 159.2L1915.7 166.7L1921.1 177.3L1926.4 187.9L1933.9 197.5L1936.1 207.1L1933.9 217.7L1935.0 226.2L1929.7 232.5L1927.5 243.2L1930.7 252.7L1939.3 258.0L1954.3 260.2L1971.5 261.2L1988.7 260.2L2005.8 262.3L2016.6 267.6L2029.4 275.0L2042.3 282.5L2054.1 283.5L2058.4 292.0L2063.8 296.3L2068.1 306.9L2073.4 315.4L2077.7 322.8L2087.4 329.2L2089.5 335.6L2083.1 340.9L2079.9 347.3L2084.2 354.7L2085.2 364.3L2078.8 369.6L2070.2 374.9L2063.8 381.3L2055.2 377.0L2044.5 385.5L2035.9 394.0L2029.4 404.6L2024.1 413.1L2024.1 419.5L2013.3 421.6L2002.6 424.8L1999.4 434.4L1997.2 447.1L1996.2 459.9L1991.9 470.5L1986.5 479.0L1986.5 483.5L1971.5 489.9L1954.3 496.3L1937.2 502.6L1924.3 508.0L1926.4 514.3L1935.0 514.3L1936.1 527.1L1941.5 535.6L1952.2 540.9L1957.5 550.4L1960.8 556.8L1952.2 562.1L1944.7 567.4L1944.7 573.8L1952.2 577.0L1955.4 586.6L1956.5 594.0L1950.0 597.2L1939.3 592.9L1925.4 590.8L1914.6 597.6L1914.6 597.6L1900.7 590.8L1887.8 586.6L1874.9 581.3L1857.8 584.4L1842.7 585.5L1823.4 589.8L1810.5 592.9L1807.3 599.3L1802.0 607.8L1791.2 613.1L1782.8 609.9L1772.1 609.9L1759.2 616.3L1748.5 622.7L1735.6 623.7L1720.6 622.7L1713.1 619.5L1707.7 611.0L1697.0 608.9L1690.5 612.1L1681.9 622.7L1669.1 625.9L1658.3 621.6L1645.5 619.5L1632.6 616.3L1628.3 620.6L1620.8 631.2L1616.5 639.7L1611.1 650.3L1596.1 650.3L1583.2 651.4Z"/><path d="M1583.2 651.4L1580.0 658.8L1574.6 665.2L1575.7 675.8L1574.6 682.2L1580.0 688.5L1584.3 697.0L1588.6 707.7L1590.7 718.3L1586.4 725.7L1578.9 726.8L1574.6 718.3L1570.4 713.0L1563.9 716.2L1561.8 724.7L1562.8 734.2L1568.2 741.7L1570.4 752.3L1570.4 762.9L1574.6 769.3L1578.9 777.8L1589.7 776.7L1598.2 782.0L1605.8 790.5L1611.1 796.9L1621.9 801.2L1630.4 807.5L1639.0 813.9L1644.4 822.4L1649.8 813.9L1654.0 805.4L1662.6 803.3L1673.4 807.5L1677.6 818.2L1688.4 826.7L1697.0 835.1L1707.7 839.4L1716.3 847.9L1716.5 845.4L1722.6 851.6L1732.9 846.5L1740.1 849.5L1743.2 859.7L1751.4 867.8L1761.7 872.9L1772.0 871.9L1773.0 882.1L1782.2 885.1L1790.5 884.1L1796.6 892.2L1802.8 899.4L1809.0 893.3L1815.1 898.4L1823.3 893.3L1833.6 898.4L1841.8 903.4L1852.1 902.4L1864.4 899.4L1876.8 896.3L1888.1 893.3L1895.3 895.3L1895.3 906.5L1894.2 914.6L1898.4 922.8L1903.5 924.8L1907.6 916.7L1909.7 906.5L1915.8 896.3L1923.0 889.2L1930.2 887.2L1942.5 889.2L1954.9 892.2L1965.1 895.3L1971.3 899.4L1977.5 892.2L1983.6 892.2L1989.8 900.4L1988.8 908.5L1996.0 911.6L2004.2 911.6L2006.2 920.7L2008.3 932.9L2022.7 929.9L2035.0 928.9L2051.5 926.8L2063.8 922.8L2070.0 912.6L2078.2 902.4L2088.5 898.4L2104.9 889.2L2110.3 884.8L2116.8 875.3L2127.5 871.0L2140.4 872.1L2151.1 875.3L2161.8 880.6L2173.6 884.8L2179.0 876.3L2181.1 865.7L2185.4 856.2L2194.0 859.3L2202.6 866.8L2209.0 862.5L2217.6 866.8L2224.1 861.5L2219.8 857.2L2218.7 848.7L2224.1 842.3L2219.8 836.0L2228.4 833.8L2229.4 822.2L2226.2 808.4L2224.1 795.6L2220.9 782.9L2217.6 770.1L2211.2 761.6L2206.9 753.1L2213.3 745.7L2206.9 738.2L2198.3 729.7L2191.9 718.1L2185.4 710.6L2171.1 707.7L2162.5 709.8L2162.5 718.3L2158.2 726.8L2147.5 731.0L2145.3 739.5L2138.9 739.5L2130.3 745.9L2128.2 738.5L2117.4 742.7L2106.7 743.8L2102.4 737.4L2098.1 727.9L2087.4 722.5L2076.7 715.1L2068.1 716.2L2057.3 721.5L2040.2 721.5L2027.3 717.2L2010.1 716.2L1995.1 713.0L1980.1 707.7L1967.2 704.5L1950.0 703.4L1937.2 696.0L1928.6 688.5L1922.1 680.0L1915.7 671.6L1920.0 665.2L1921.1 654.6L1918.9 643.9L1912.5 637.6L1908.2 629.1L1911.4 620.6L1916.8 609.9L1914.6 597.6"/></g>
<path d="M1487.2 59.2 A2250.4 2250.4 0 0 0 2149.2 58.4 L2280.2 938.8 A3139.6 3139.6 0 0 1 1356.6 938.0 Z" fill="none" stroke="#1a1a1a" stroke-width="3.1" stroke-linejoin="miter"/>
<defs><linearGradient id="cbB" x1="0" y1="0" x2="0" y2="1"><stop offset="0.0000" stop-color="#8c0000"/><stop offset="0.0588" stop-color="#c60000"/><stop offset="0.1176" stop-color="#ff0000"/><stop offset="0.1765" stop-color="#ff3a00"/><stop offset="0.2353" stop-color="#ff7400"/><stop offset="0.2941" stop-color="#ffaf00"/><stop offset="0.3753" stop-color="#ffff00"/><stop offset="0.4412" stop-color="#7eff3a"/><stop offset="0.5059" stop-color="#00ff73"/><stop offset="0.5647" stop-color="#00ffb8"/><stop offset="0.6247" stop-color="#00ffff"/><stop offset="0.6941" stop-color="#00b8ff"/><stop offset="0.7529" stop-color="#007dff"/><stop offset="0.8118" stop-color="#0041ff"/><stop offset="0.8753" stop-color="#0000ff"/><stop offset="0.9412" stop-color="#0000c2"/><stop offset="1.0000" stop-color="#00008c"/></linearGradient></defs><rect x="2292.2" y="54.9" width="34.8" height="920.6" fill="#262626"/><rect x="2298.7" y="60.1" width="21.8" height="910.2" fill="url(#cbB)"/><rect x="2311.5" y="109.5" width="9.5" height="5.6" fill="#262626"/><text x="2335.5" y="124.8" font-family='"Liberation Sans", sans-serif' font-size="30.5" font-weight="bold" fill="#1f1f1f">120</text><rect x="2311.5" y="217.0" width="9.5" height="5.6" fill="#262626"/><text x="2335.5" y="232.3" font-family='"Liberation Sans", sans-serif' font-size="30.5" font-weight="bold" fill="#1f1f1f">110</text><rect x="2311.5" y="324.4" width="9.5" height="5.6" fill="#262626"/><text x="2335.5" y="339.7" font-family='"Liberation Sans", sans-serif' font-size="30.5" font-weight="bold" fill="#1f1f1f">100</text><rect x="2311.5" y="431.9" width="9.5" height="5.6" fill="#262626"/><text x="2335.5" y="447.2" font-family='"Liberation Sans", sans-serif' font-size="30.5" font-weight="bold" fill="#1f1f1f">90</text><rect x="2311.5" y="539.4" width="9.5" height="5.6" fill="#262626"/><text x="2335.5" y="554.6" font-family='"Liberation Sans", sans-serif' font-size="30.5" font-weight="bold" fill="#1f1f1f">80</text><rect x="2311.5" y="646.8" width="9.5" height="5.6" fill="#262626"/><text x="2335.5" y="662.1" font-family='"Liberation Sans", sans-serif' font-size="30.5" font-weight="bold" fill="#1f1f1f">70</text><rect x="2311.5" y="754.3" width="9.5" height="5.6" fill="#262626"/><text x="2335.5" y="769.6" font-family='"Liberation Sans", sans-serif' font-size="30.5" font-weight="bold" fill="#1f1f1f">60</text><rect x="2311.5" y="861.7" width="9.5" height="5.6" fill="#262626"/><text x="2335.5" y="877.0" font-family='"Liberation Sans", sans-serif' font-size="30.5" font-weight="bold" fill="#1f1f1f">50</text><rect x="2311.5" y="969.2" width="9.5" height="5.6" fill="#262626"/><text x="2335.5" y="984.5" font-family='"Liberation Sans", sans-serif' font-size="30.5" font-weight="bold" fill="#1f1f1f">40</text>
<g transform="translate(1355.4 64.7) rotate(8.00)" fill="#1c1c1c" stroke="#fff" stroke-width="0.40" font-family='"Liberation Sans", sans-serif' font-size="44.0"><text x="0" y="0">50</text><text x="46.7" y="-15.8" font-size="40.5" stroke-width="0.88">°</text><text x="74.2" y="0">N</text></g>
<g transform="translate(1299.4 429.7) rotate(8.00)" fill="#1c1c1c" stroke="#fff" stroke-width="0.40" font-family='"Liberation Sans", sans-serif' font-size="44.0"><text x="0" y="0">40</text><text x="46.7" y="-15.8" font-size="40.5" stroke-width="0.88">°</text><text x="74.2" y="0">N</text></g>
<g transform="translate(1245.9 796.9) rotate(8.00)" fill="#1c1c1c" stroke="#fff" stroke-width="0.40" font-family='"Liberation Sans", sans-serif' font-size="44.0"><text x="0" y="0">30</text><text x="46.7" y="-15.8" font-size="40.5" stroke-width="0.88">°</text><text x="74.2" y="0">N</text></g>
<g transform="translate(1548.0 1070.5) rotate(3.00)" fill="#1c1c1c" stroke="#fff" stroke-width="0.40" font-family='"Liberation Sans", sans-serif' font-size="44.0"><text x="0" y="0">80</text><text x="46.7" y="-15.8" font-size="40.5" stroke-width="0.88">°</text><text x="74.2" y="0">E</text></g>
<g transform="translate(1902.0 1076.0) rotate(-2.00)" fill="#1c1c1c" stroke="#fff" stroke-width="0.40" font-family='"Liberation Sans", sans-serif' font-size="44.0"><text x="0" y="0">90</text><text x="46.7" y="-15.8" font-size="40.5" stroke-width="0.88">°</text><text x="74.2" y="0">E</text></g>
<g transform="translate(2240.0 1051.0) rotate(-7.50)" fill="#1c1c1c" stroke="#fff" stroke-width="0.40" font-family='"Liberation Sans", sans-serif' font-size="44.0"><text x="0" y="0">100</text><text x="71.2" y="-15.8" font-size="40.5" stroke-width="0.88">°</text><text x="98.7" y="0">E</text></g>
<g clip-path="url(#clipC)"><g filter="url(#blC)">
<rect x="100" y="1150" width="1000" height="1000" fill="#00008c"/>
<path fill="#0000b5" d="M150 1934l40 0 60 5 57 6 15-2 24-6 6 0 6 1 3 2 2 4 5 18 10 24 5 9 9 9 35 21 14 12 37 51 17 27 238 0 47-2 69-5 91-9 92-11 23-4 4-1 2-4 0-4 -129-882 -2-4 -3-2 -3-1 -99 13 -82 6 -65 4 -83 1 -82-1 -65-4 -82-7 -99-12 -6 2 -2 5z"/>
<path fill="#0000d0" d="M152 1923l38 0 30 4 27 1 63 7 9 0 27-4 9 0 6 2 6 5 7 21 12 24 6 9 11 10 34 20 12 9 7 9 14 21 20 27 19 27 224 0 47-2 69-5 91-9 92-11 23-4 4-1 2-4 0-4 -129-882 -2-4 -3-2 -3-1 -99 13 -82 6 -65 4 -83 1 -82-1 -65-4 -82-7 -99-12 -6 2 -2 5z"/>
<path fill="#0000eb" d="M153 1912l37 1 102 9 24 3 30 0 9 2 9 3 3 2 3 4 9 20 13 24 6 9 11 10 37 20 11 9 19 27 22 27 24 33 211 0 47-2 69-5 91-9 92-11 23-4 4-1 2-4 0-4 -129-882 -2-4 -3-2 -3-1 -99 13 -82 6 -65 4 -83 1 -82-1 -65-4 -82-7 -99-12 -6 2 -2 5zM457 1581l3 3 1 3 1 39 -2 9 -3 4 -3-1 -3-2 -12-15 -6-9 -2-7 2-7 6-9 9-7 6-1z"/>
<path fill="#0008ff" d="M155 1902l140 10 51 9 18 6 7 5 10 21 14 24 7 9 13 10 36 19 9 6 6 7 17 24 22 24 18 23 14 16 196 0 70-4 69-5 68-7 92-11 23-4 4-1 2-4 0-4 -129-882 -2-4 -3-2 -3-1 -99 13 -82 6 -65 4 -83 1 -82-1 -65-4 -82-7 -99-12 -6 2 -2 5zM418 1430l3 1 3 3 0 3 -3 2 -3 0 -3-2 -1-3 1-3zM460 1524l12 1 24 5 15 2 21 0 27-3 9 1 9 4 10 8 5 6 2 6 -1 3 -6 6 -16 12 -9 5 -9 2 -24-1 -12 2 -12 4 -9 9 -5 9 -2 9 0 39 4 13 12 17 1 6 -2 3 -7 3 -22 4 -12 0 -15-2 -12-4 -6-4 -6-10 -5-26 -17-30 -5-15 1-12 4-12 7-12 21-31 7-8 8-6 6-2zM577 1390l6 0 18 5 21 1 11 2 5 3 3 3 1 3 -1 6 -1 3 -6 4 -12 1 -12-2 -32-9 -5-3 -3-3 -1-3 2-8 3-2zM874 1549l3 0 4 2 1 3 -2 2 -6 1 -3-2 0-4zM580 1649l12 2 10 5 9 12 0 6 -1 3 -4 3 -5 2 -15 2 -15 1 -6-2 -3-1 -2-5 2-9 12-16z"/>
<path fill="#0026ff" d="M628 1571l-24 3 -9 3 -9 7 -4 9 -4 12 1 6 2 6 5 6 9 6 6 1 6 0 21-5 21-10 4-4 4-6 1-6 -1-9 -4-9 -4-4 -6-4 -6-2zM510 1602l-7 9 -4 9 -1 24 1 9 5 9 7 5 9 3 12 0 9-5 5-6 2-6 2-30 -1-9 -3-6 -3-3 -11-6 -6-1 -6 0zM156 1892l145 11 15 3 36 13 12 5 6 4 4 4 8 16 9 13 9 16 6 7 15 11 34 15 9 6 26 34 21 20 24 27 19 18 179 0 70-4 69-5 68-7 92-11 23-4 4-1 2-4 0-4 -129-882 -2-4 -3-2 -3-1 -99 13 -82 6 -65 4 -83 1 -82-1 -65-4 -82-7 -99-12 -6 2 -2 5zM424 1425l11 3 6 3 3 3 1 3 -1 6 -5 6 -6 2 -12-1 -9-4 -3-3 -2-3 -1-6 4-6 5-3zM515 1344l-1 4 -3 2 -3-2 0-4 3-2zM571 1368l18 10 15 4 15 1 30-2 6 1 6 3 4 7 2 12 -3 21 -3 8 -3 5 -3 2 -6 2 -15-2 -54-17 -14-7 -5-6 -3-6 -3-9 0-12 2-9 4-6 4-2zM877 1529l26 10 17 9 3 3 2 6 0 3 -3 5 -6 5 -12 6 -51 15 -9 2 -9-4 -7-8 -4-9 -1-6 2-6 13-12 21-15 9-4zM451 1496l15 4 30 13 18 4 18 1 30-6 9 0 9 4 24 15 15 6 24 6 30 4 42 12 12 7 4 6 2 9 -3 15 -6 12 -6 5 -9 4 -23 9 -10 7 -4 5 -5 9 -5 21 -5 6 -38 18 -9 3 -39 5 -27 2 -24 6 -42 5 -18-1 -36-7 -7-4 -7-9 -16-31 -9-14 -9-9 -23-18 -4-6 0-3 2-3 13-14 36-46 24-41 6-5 6-3 6-2zM646 1815l4 6 -1 5 -3 4 -6 1 -6-6 0-5 3-4 3-2 3 0z"/>
<path fill="#0044ff" d="M604 1581l-6 3 -5 6 -2 6 0 12 1 6 3 4 6 3 6 1 12-3 8-5 9-9 3-9 -2-6 -2-3 -7-5 -6-1zM508 1618l-3 6 -1 8 0 12 2 9 5 5 9 3 9 0 6-2 5-6 2-6 0-18 -3-9 -7-7 -9-2 -9 2zM157 1883l36 3 78 5 33 3 15 5 42 20 13 10 10 18 9 12 9 15 8 9 8 6 9 5 33 13 6 3 6 6 15 21 9 10 24 20 33 32 20 16 160 0 70-4 69-5 68-7 92-11 23-4 4-1 2-4 0-4 -129-882 -2-4 -3-2 -3-1 -99 13 -82 6 -65 4 -83 1 -82-1 -65-4 -82-7 -99-12 -6 2 -2 5zM466 1418l3 1 1 6 -1 9 -7 24 0 6 2 6 8 9 11 9 16 10 15 6 9 2 9 0 33-4 9 1 12 4 24 13 15 3 9-1 9-2 9-5 12-9 6-1 3 2 15 14 7 6 11 6 9 3 24 5 30 1 21 2 12 0 15-4 42-17 9-2 12 1 24 6 15 6 9 5 6 6 4 6 2 9 -1 6 -5 8 -9 7 -45 20 -9 5 -6 5 -17 21 -7 5 -6 2 -9-2 -6-5 -3-6 -5-15 -4-9 -6-8 -6-7 -6-4 -9-3 -6 0 -9 2 -6 3 -6 5 -22 30 -28 24 -6 9 -9 18 -4 6 -6 6 -9 4 -27 4 -27 10 -45 8 -27 3 -63 11 -18-1 -42-9 -7-3 -9-6 -20-21 -9-8 -9-6 -18-7 -12-10 -9-11 -10-15 -5-12 0-9 3-8 6-7 39-27 12-10 12-12 12-17 22-39 3-9 0-9 -4-6 -9-6 -6-7 -2-5 -1-6 3-9 6-5 6-2 30-1zM514 1335l10 3 11 9 21-3 9 2 6 4 11 12 7 5 9 5 9 2 12 0 13-3 8-4 15-10 6-3 6 0 6 3 4 5 4 9 2 9 1 12 -4 27 -1 36 -2 9 -4 6 -6 5 -3 1 -6-2 -36-24 -22-10 -29-11 -12-8 -7-8 -5-9 -7-24 -5-22 -3-5 -3 0 -6 1 -9 6 -3 1 -6-1 -3-4 -2-9 2-6 6-5zM784 1450l7 2 4 3 1 3 -2 3 -10 3 -6 0 -4-3 -2-3 -1-3 3-3 4-2zM643 1811l6 4 3 4 1 5 -1 3 -2 3 -4 3 -6 1 -6-4 -2-3 -1-3 0-4 3-5 3-2z"/>
<path fill="#0062ff" d="M599 1590l-3 6 0 12 4 6 4 2 9 0 6-2 8-9 3-6 0-3 -2-5 -6-4 -6-2 -9 1 -4 1zM512 1623l-4 6 0 6 0 9 3 6 3 3 6 2 6 1 6-3 3-3 3-6 -1-12 -2-7 -3-3 -6-2 -9 0zM159 1875l34 4 81 4 33 3 12 4 23 15 19 11 12 10 31 45 11 11 15 9 30 11 9 4 7 7 15 21 11 11 19 13 44 37 15 10 19 10 134 0 93-5 69-6 68-7 92-12 4-2 2-4 0-4 -129-882 -2-4 -3-2 -3-1 -99 13 -82 6 -65 4 -83 1 -82-1 -65-4 -82-7 -99-12 -6 2 -2 5zM619 1293l9 1 9 5 6 6 10 18 20 13 9 8 7 9 5 9 3 12 2 15 -3 30 -1 66 4 15 4 6 6 7 9 5 9 2 12 1 21-4 12 0 9 1 21 6 9 1 12-1 24-8 9-2 27 0 15 3 33 12 9 5 8 8 5 9 2 12 -1 9 -5 9 -6 6 -5 3 -22 9 -21 12 -12 9 -24 24 -9 6 -6 3 -9 2 -6 0 -6-2 -6-3 -10-9 -14-25 -6-8 -9-6 -9 0 -9 6 -39 42 -4 6 -8 18 -5 6 -7 6 -11 6 -13 4 -21 0 -9 1 -24 8 -48 10 -39 6 -48 10 -12 1 -9-1 -48-12 -15-7 -24-17 -9-4 -18-4 -6-4 -6-6 -27-39 -7-12 -5-15 1-12 5-11 9-10 9-8 30-19 15-12 13-12 10-15 10-21 4-15 -1-9 -8-21 0-9 3-9 8-8 9-3 18-2 9-2 30-16 6 0 6 0 3 2 3 5 1 9 -1 12 -5 24 0 9 3 6 3 6 14 13 9 6 12 4 15 2 27 0 12 1 14 4 25 9 6-1 7-5 3-6 0-9 -4-9 -7-9 -9-9 -13-9 -13-7 -27-11 -12-9 -8-9 -10-21 -6-8 -6-5 -15-4 -6-6 -3-7 -3-12 1-9 3-6 5-4 6-3 9-1 21 1 24-2 6 1 3 3 14 20 10 9 6 3 9 2 9-1 6-3 7-4 7-9 3-9 0-6 -1-3 -4-4 -24-12 -8-5 -2-3 0-3 3-6 4-3zM781 1431l18 3 21 7 10 8 3 9 -3 9 -7 7 -30 15 -12 3 -6 0 -6-2 -9-8 -7-12 -2-6 -1-9 2-9 5-9 6-4 6-2zM646 1810l6 5 3 6 0 3 -2 6 -3 3 -4 2 -6 1 -5-3 -3-3 -3-6 0-3 2-6 3-3 6-2z"/>
<path fill="#007fff" d="M589 1326l-2 6 0 9 5 9 6 6 6 2 9 1 7-3 6-6 2-6 -1-6 -4-6 -4-3 -9-5 -9-2 -6 0zM511 1416l-3 27 1 12 6 12 9 9 8 5 9 3 21 4 15 1 15-2 9-2 3-3 1-3 -1-6 -3-6 -5-6 -13-9 -31-12 -11-6 -10-9 -8-16 -3-4 -3 0 -3 2zM601 1595l-1 4 0 6 4 6 3 2 6-1 3-1 5-6 3-6 -1-6 -7-4 -9 1 -3 1zM511 1633l1 11 2 4 3 2 9 1 6-4 2-6 0-6 -1-6 -4-4 -6-1 -6 1 -4 4zM160 1867l36 4 111 8 9 1 6 2 51 41 33 46 12 12 15 8 30 10 9 4 7 7 14 19 9 9 69 48 27 14 40 15 95 0 116-7 114-11 92-12 4-2 2-4 0-4 -129-882 -2-4 -3-2 -3-1 -99 13 -82 6 -65 4 -83 1 -82-1 -65-4 -82-7 -99-12 -6 2 -2 5zM625 1286l12 3 11 7 37 33 11 12 6 9 6 12 13 44 3 6 4 4 2 2 6 1 27-3 21 2 40 13 12 6 8 6 4 6 4 9 0 6 -2 9 -6 11 -9 12 -12 4 -3 3 3 2 6-2 6-5 3 0 33 7 15 0 9 1 42 14 9 4 9 6 11 12 4 9 2 9 1 9 -1 9 -6 15 -5 7 -8 5 -25 7 -9 4 -39 34 -18 12 -12 5 -9 2 -12 1 -9-1 -9-3 -7-4 -5-5 -18-23 -6-4 -6 0 -9 4 -10 10 -7 9 -10 21 -7 9 -7 6 -10 5 -33 8 -24-1 -9 1 -24 7 -42 10 -60 11 -39 11 -6 0 -9-1 -27-9 -34-9 -14-6 -18-10 -21-5 -9-3 -6-6 -13-24 -25-33 -6-9 -6-15 0-9 0-6 6-12 11-13 15-12 45-31 12-11 8-11 7-15 4-12 0-12 -3-27 2-9 3-6 6-6 6-3 21-4 13-5 41-27 5-9 2-21 2-9 3-6 7-6 11-4 21-1 12-2 12-6 15-11 30-15 12-3zM648 1809l4 3 4 6 0 6 -1 6 -2 3 -4 3 -6 1 -6-1 -5-3 -2-3 -2-6 0-6 3-6 5-3 7-1z"/>
<path fill="#009dff" d="M597 1341l3 6 4 3 3 0 6-1 3-5 -1-6 -2-3 -6-3 -6 1 -3 2zM544 1464l3 6 3 3 6 4 9 3 6 1 6-1 6-4 1-3 -1-6 -2-3 -4-3 -9-4 -9-1 -9 1 -3 1 -3 3zM604 1597l-1 5 1 3 2 3 4 1 6-2 4-5 0-3 -1-4 -3-2 -3-1 -6 2zM514 1635l0 6 3 5 3 1 6 0 3-2 2-4 0-6 -1-3 -4-4 -6 0 -3 1zM200 1595l11 2 6 5 2 6 -1 6 -7 24 -6 16 -6 9 -11 9 -27 186 38 6 57 5 54 3 15 3 6 4 45 45 14 20 19 24 6 6 9 7 9 4 30 10 9 4 9 8 18 22 12 10 51 30 24 12 21 8 48 14 35 12 43 0 47-2 115-9 68-7 69-9 23-4 5-3 1-6 -69-475 -7 20 -6 11 -9 9 -26 19 -7 9 -10 18 -2 3 -5 3 -7-1 -15-6 -12-3 -12 0 -39 3 -39-4 -9 0 -30 9 -24 10 -9 3 -51 4 -18-2 -12 1 -72 20 -54 11 -33 11 -12 2 -9-1 -24-11 -12-4 -36-6 -12-3 -30-13 -15-8 -6-6 -8-18 -7-12 -34-39 -9-15 -5-12 1-9 2-6 7-9 9-9 23-19 48-33 9-8 6-7 8-14 4-12 2-9 -1-24 2-9 4-9 5-7 6-4 6-2 18-3 9-4 38-28 5-6 3-6 7-27 4-7 6-5 9-4 24-3 9-3 10-5 17-14 9-5 19-8 17-4 18 0 9 2 9 3 13 8 26 21 12 12 11 12 9 15 13 27 6 8 6 5 12 6 27 7 51 17 18 8 14 9 11 12 3 9 2 18 4 6 38 18 21 4 12 5 15 9 12 12 -50-340 -1-3 -3-3 -5-1 -81 11 -99 8 -65 4 -83 1 -82-1 -65-4 -99-8 -81-11 -5 1 -3 3 -1 3zM486 1833l8 6 2 3 0 3 -2 3 -7 1 -6-1 -5-3 -2-3 -2-6 1-3 2-2 6-1zM646 1807l6 2 4 6 2 6 -1 9 -4 6 -4 2 -6 1 -6-1 -6-3 -3-5 -2-6 1-9 4-5 3-2 6-1zM976 1801l3 2 5 6 3 6 1 9 -1 15 -6 36 0 9 2 9 5 12 15 21 6 9 2 9 -1 6 -5 6 -10 6 -16 6 -12 2 -21 0 -24-2 -13-3 -14-6 -9-6 -3-3 0-3 0-3 5-6 12-12 4-6 9-21 10-21 17-42 10-21 5-6 7-6 8-3z"/>
<path fill="#00bbff" d="M607 1599l0 3 3 4 3 0 4-4 -1-4 -3-2 -3 0zM517 1638l1 3 2 2 3 1 4-3 2-3 -1-3 -2-3 -3-1 -3 0 -3 4zM203 1575l38-1 9-2 9-4 15-8 33-25 39-28 14-13 10-15 6-18 1-18 2-9 4-9 4-6 6-6 7-4 9-2 12-2 8-4 37-30 7-9 3-6 4-18 3-6 5-6 8-5 6-3 21-3 9-3 9-5 18-15 12-8 15-6 18-4 18 0 15 1 12 4 15 7 24 17 22 20 12 15 19 33 5 6 8 6 12 6 48 18 39 11 23 10 45 27 19 16 21 10 15 10 -45-300 -3-4 -4-1 -82 11 -82 7 -82 5 -99 1 -66-1 -82-5 -82-7 -81-11 -5 1 -3 2 -1 4zM1004 1686l-55 33 -12 5 -12 3 -12 0 -12-3 -28-17 -14-5 -21-4 -42-2 -21 4 -36 13 -9 2 -36-5 -21 0 -21-2 -12 2 -33 9 -36 12 -54 12 -36 15 -12 1 -9-3 -24-12 -12-4 -18-2 -30 2 -6-1 -6-3 -39-32 -11-24 -6-9 -7-8 -27-22 -15-14 -6-4 -6-1 -6 2 -5 5 -28 45 -9 11 -14 12 -23 152 19 5 39 5 48 4 57 3 21 3 5 18 7 15 21 23 11 16 19 23 9 9 15 9 30 9 10 4 11 9 18 22 12 9 45 23 36 15 21 5 51 10 51 16 24 3 42 1 28 3 83-7 78-9 42-32 18-21 20-21 -4-31 -16-2 -18 1 -48 6 -39 11 -15 1 -12-2 -9-3 -6-4 -20-21 -10-9 -22-12 -4-6 -1-9 2-12 6-9 10-10 21-14 9-11 6-10 6-15 4-30 4-9 7-5 17-10 21-18 16-7 15-2 12 2 10 4 9 9 6 12 6 18 8 42 4 12 6 12zM478 1822l9 3 12 7 4 4 2 3 1 6 -1 6 -3 3 -6 1 -12-3 -6-2 -6-5 -5-9 -2-9 1-3 3-1zM643 1805l6 1 5 3 3 3 2 6 0 9 -1 6 -3 4 -6 3 -9 0 -6-1 -6-5 -3-7 0-12 3-5 6-4zM763 1820l15 4 9 3 4 3 5 6 1 3 0 3 -3 3 -6 3 -13 3 -6-1 -9-5 -11-9 -1-3 -1-6 1-3 5-3z"/>
<path fill="#00d9ff" d="M205 1560l39-4 18-6 18-11 52-39 18-15 12-15 6-12 3-18 2-9 5-9 5-6 6-6 8-5 9-3 12-2 6-3 21-20 18-14 6-8 4-14 4-9 7-9 6-5 9-4 21-3 8-3 9-6 16-15 9-7 15-7 15-4 18-2 33 2 18 6 24 12 17 12 22 21 10 12 13 24 6 9 10 9 12 6 51 19 33 7 60 15 48 7 -36-237 -3-4 -4-1 -82 11 -82 7 -82 5 -99 1 -66-1 -82-5 -82-7 -81-11 -5 1 -3 2 -1 4zM241 1650l-14 15 -22 35 -25 28 -16 111 8 4 9 2 90 12 48 1 6-1 18-7 9 2 6 4 2 4 0 9 -2 18 1 9 3 6 6 9 14 15 10 15 23 26 9 7 9 5 33 9 12 6 8 7 19 22 15 10 33 15 33 12 15 4 18 3 54 4 45 13 21 2 18-3 36-9 33-6 12-6 6-7 2-6 1-9 -5-45 -4-5 -12-3 -6-5 -3-5 -3-12 -2-48 1-6 5-12 2-6 0-9 -2-9 -7-9 -9-6 -9-2 -24-2 -30-13 -5-4 -3-6 -2-12 1-6 3-7 6-5 6-2 9 1 15 6 21 5 30 10 12 1 6-2 6-4 8-9 18-27 5-9 2-9 -1-15 -4-12 -8-12 -8-7 -10-5 -11-3 -24-3 -15 0 -21 4 -12 4 -21 11 -9 2 -6-1 -21-9 -12-3 -36-3 -12 0 -12 2 -21 7 -45 17 -50 11 -28 14 -12 5 -9 0 -9-2 -27-16 -15-5 -9 0 -9 2 -9 3 -18 9 -6 1 -5-2 -4-4 -15-26 -8-9 -13-12 -11-24 -6-9 -7-7 -15-10 -24-11 -9-1zM419 1809l17 0 12 3 33 3 18 7 8 5 4 6 2 12 -2 9 -3 4 -6 2 -6-1 -15-5 -6-3 -6-6 -18-25 -3-3 -6-1 -15 4 -6 1 -9-2 -4-4 0-3 2-3 2-1zM640 1804l12 1 3 2 4 5 1 6 0 15 -3 6 -5 2 -9 1 -9-2 -7-4 -3-6 -1-15 3-6 5-4z"/>
<path fill="#00f7ff" d="M207 1548l28-4 15-3 15-7 14-10 55-45 15-14 9-13 6-18 5-9 13-17 12-8 21-8 5-3 19-20 18-15 4-4 10-21 10-11 6-4 9-5 27-5 7-5 17-17 9-8 15-7 18-6 12-1 48 2 24 8 24 10 16 10 26 21 7 6 5 9 10 27 8 9 12 7 30 11 24 6 39 4 45 2 42-2 -30-199 -3-4 -4-1 -82 11 -82 7 -82 5 -99 1 -66-1 -82-5 -82-7 -81-11 -5 1 -3 2 -1 4zM247 1661l-6 4 -6 6 -9 12 -27 58 -8 14 -1 6 0 18 -3 21 -3 8 -9 8 -3 5 0 6 3 4 6 2 90 17 42-1 9-3 15-7 6 0 6 1 9 7 7 10 0 15 -3 18 3 12 4 6 13 16 10 14 23 26 9 7 9 4 33 10 12 5 9 6 15 18 9 8 12 8 21 8 36 11 21 5 36 3 36 0 42 9 18 2 15-1 12-4 18-11 9-9 4-6 3-9 1-9 -1-30 7-24 2-9 0-18 -2-27 1-6 5-15 0-9 -4-9 -10-7 -9-3 -18-2 -29-9 -10-5 -3-4 -4-9 -1-12 1-12 4-10 9-14 6-7 3-1 6 2 21 13 12 5 36 9 6 0 9-4 8-8 7-9 5-9 4-12 0-12 -2-12 -5-9 -6-6 -11-6 -12-3 -21-1 -15 2 -12 4 -11 7 -10 9 -12 13 -3 1 -3 0 -3-3 -8-11 -6-6 -15-9 -19-5 -24-3 -12 1 -12 2 -21 7 -30 14 -15 6 -21 6 -27 6 -27 17 -15 6 -9 2 -9-1 -6-4 -17-15 -7-5 -9-3 -6-1 -9 2 -7 4 -26 21 -6 3 -6 1 -6-2 -6-5 -3-8 -3-22 -4-12 -8-12 -12-14 -9-19 -9-12 -12-10 -15-6 -15-3 -6 1zM454 1797l17 9 16 1 15 4 6 2 5 5 4 6 2 12 -1 15 -1 4 -3 5 -4 3 -5 1 -6 0 -6-2 -21-11 -18-20 -6-4 -9-3 -24-1 -6-3 -5-5 0-6 2-3 3-2 6 0 6 2 21-8 6-1zM637 1802l16 1 5 3 3 5 2 22 -2 6 -6 4 -6 1 -15-2 -7-3 -4-6 -2-18 2-6 5-5z"/>
<path fill="#00ffe5" d="M208 1538l21-4 15-4 13-6 14-9 69-64 6-7 18-25 15-16 12-10 21-13 15-18 24-19 15-20 9-9 9-6 9-4 22-5 5-2 6-5 15-17 9-7 15-8 21-8 12-2 24 3 18-2 12 1 42 12 21 8 27 15 27 11 7 4 6 6 3 6 1 6 0 18 2 6 5 6 5 3 22 9 21 3 24-1 15-3 30-12 9-2 15-2 21 2 -24-156 -3-4 -4-1 -82 11 -82 7 -82 5 -99 1 -66-1 -82-5 -82-7 -81-11 -5 1 -3 2 -1 4zM778 1728l-6 3 -6 6 -5 6 -3 9 0 6 2 6 4 6 5 5 6 4 9 4 27 4 12-2 6-3 6-5 5-7 2-6 1-12 -2-12 -7-9 -11-6 -12-2 -21 1zM248 1671l-10 9 -6 9 -4 9 -8 24 -8 54 -8 21 -2 9 0 6 2 6 6 6 19 8 24 7 15 3 15 1 18-2 12-3 9-5 18-12 3-2 3 0 21 33 2 5 -1 18 -2 15 2 12 5 9 24 30 18 20 9 7 12 5 33 9 12 5 10 8 20 22 9 6 9 4 48 13 27 6 30 2 45-2 15 2 27 6 12 1 12-1 12-4 11-7 7-8 3-7 3-9 1-36 10-21 3-9 1-15 -1-30 5-15 0-9 -3-9 -4-4 -6-3 -60-13 -6-4 -5-6 -4-12 0-18 2-12 7-21 1-12 -6-27 -6-9 -7-5 -12-6 -18-4 -21-2 -15 2 -26 9 -34 20 -24 10 -24 7 -9 5 -8 9 -5 9 1 3 12 9 5 6 2 9 0 12 -7 33 -6 7 -9 2 -12-4 -18-10 -9-7 -15-15 -6-4 -9-2 -24-3 -6-3 -4-3 -3-6 -1-3 3-9 5-3 15 1 3-1 7-6 4-6 0-6 -2-6 -6-6 -6-3 -6-1 -9 5 -6 6 -12 17 -8 6 -10 6 -18 8 -3 1 -3-1 -9-19 -4-13 0-9 2-21 -2-15 -5-9 -12-17 -10-19 -11-12 -6-4 -9-4 -9-2 -9-1 -8 2zM634 1800l18 0 6 3 3 3 3 6 0 12 1 9 0 6 -4 5 -3 1 -6 1 -18-2 -6-2 -6-6 -2-6 -1-21 5-6 4-2z"/>
<path fill="#00ffc3" d="M210 1528l16-3 12-4 12-6 12-9 13-12 38-39 24-21 42-42 20-18 19-24 24-17 26-22 16-10 30-12 6-5 15-17 13-10 26-13 15-6 15-3 21-2 18 1 15 2 24 8 36 10 48 21 36 12 54 17 33 2 60-1 -18-114 -3-4 -4-1 -82 11 -82 7 -82 5 -99 1 -66-1 -82-5 -82-7 -81-11 -5 1 -3 2 -1 4zM787 1733l-6 3 -5 4 -5 9 1 9 6 8 6 3 6 2 24 0 9-2 6-5 3-6 1-9 -1-6 -6-7 -6-3 -9-2 -15 0zM252 1677l-8 6 -6 8 -5 10 -4 12 -2 12 -1 21 -3 18 -1 18 -6 18 0 9 4 6 5 3 31 13 21 3 12-1 9-2 9-3 9-6 6-7 3-6 0-9 -2-24 6-24 0-9 -1-9 -4-9 -10-15 -8-15 -5-7 -6-6 -9-5 -12-4 -12 0zM628 1724l-12 5 -9 5 -24 20 -34 25 -3 3 -2 6 1 21 -2 9 -14 24 -7 24 -2 3 -6 4 -6 0 -6-1 -15-8 -16-10 -20-17 -9-6 -9-2 -15-2 -9-2 -8-4 -13-10 -9 0 -9 4 -6 6 -2 9 2 9 6 13 1 5 -1 21 -2 12 3 12 5 9 18 24 27 28 15 7 36 9 12 5 10 8 19 21 13 8 60 13 24 4 27 1 51-4 9 1 23 7 10 2 12-1 9-2 12-8 5-6 4-9 2-15 0-24 10-21 4-12 3-36 5-21 -2-9 -4-6 -3-2 -9-4 -24-5 -24-3 -9-3 -6-4 -7-9 -4-12 0-15 3-15 7-24 1-12 -4-21 -4-6 -5-6 -5-4 -9-4 -24-6 -18 0zM631 1798l24 0 6 4 4 4 2 6 0 12 2 9 0 6 -2 6 -3 3 -9 2 -21-4 -9-3 -5-4 -3-6 0-12 -2-12 0-3 4-4 6-3z"/>
<path fill="#00ffa0" d="M212 1518l11-2 9-4 10-6 11-9 48-48 62-54 40-46 12-12 54-37 36-19 7-6 13-15 12-9 40-25 35-16 -82-1 -82-4 -99-8 -81-11 -6 2 -3 5zM647 1210l23 5 30 15 39 14 33 15 42 12 30 5 24 1 21-1 55-5 -12-79 -2-4 -4-1 -84 10 -50 5 -65 4zM787 1743l-3 4 -1 5 4 5 6 3 12 1 9-1 6-3 3-5 0-5 -2-4 -5-3 -5-2 -9 0 -6 0zM254 1683l-7 6 -5 6 -4 9 -4 12 -2 12 0 18 -4 21 0 33 3 6 3 3 13 8 9 5 9 2 9 2 15-2 8-3 7-4 5-5 4-6 2-9 1-24 6-15 2-9 0-9 -1-6 -3-9 -13-24 -6-8 -6-6 -9-6 -12-3 -12 1zM625 1728l-15 8 -11 10 -6 9 -2 6 0 9 13 21 6 5 42-1 6 1 7 4 2 3 3 6 1 15 5 12 1 6 -1 6 -5 6 -7 1 -6 0 -15-5 -15-3 -6-2 -7-6 -3-6 -2-11 -3-1 -21 28 -6 6 -3 1 -4-2 -4-12 -7-7 -9-3 -6 1 -6 3 -6 5 -4 7 -6 27 -5 4 -6 0 -12-4 -15-8 -19-13 -17-14 -9-6 -9-3 -24-4 -18-8 -9-2 -6 2 -6 5 -2 3 -1 6 1 6 5 18 -2 33 2 12 5 9 18 24 25 25 9 5 9 3 33 7 13 5 13 9 19 21 9 5 70 13 17 2 18 0 27-2 36-6 9 1 14 8 10 4 12 1 9-2 6-3 6-5 4-7 3-6 1-15 -1-18 2-6 9-18 4-12 5-33 4-18 0-9 -4-6 -3-3 -9-4 -18-3 -27-2 -9-3 -11-6 -12-12 -3-9 1-12 3-18 9-27 1-12 -3-18 -2-6 -5-6 -8-6 -6-3 -10-3 -14-2 -18 0z"/>
<path fill="#00ff7d" d="M213 1507l12-4 13-9 39-39 45-40 30-24 11-11 23-30 22-21 21-15 66-39 7-6 18-18 57-41 -80-2 -66-4 -82-7 -81-11 -6 2 -3 5zM697 1208l24 12 33 11 39 17 18 5 15 3 21 1 24-2 54-13 14-2 -7-48 -2-4 -5-2 -116 14zM255 1689l-5 5 -5 7 -4 9 -3 9 -1 27 -4 21 2 24 2 6 4 6 15 10 12 4 15-1 12-5 5-5 4-6 7-27 8-21 1-9 -1-9 -4-12 -11-21 -6-7 -6-5 -9-4 -9-2 -9 1zM640 1726l-12 3 -9 5 -12 9 -4 6 -4 9 0 6 2 6 9 14 6 5 6 1 15 2 18-1 9 3 5 3 5 6 4 6 1 6 3 3 3-3 12-24 6-15 1-15 -1-9 -3-6 -4-6 -5-5 -12-6 -21-4zM373 1829l-2 7 4 21 -2 33 1 9 5 11 18 23 23 23 10 6 15 5 33 6 15 6 9 7 15 17 6 4 9 3 30 3 51 9 15 0 36-5 9-2 9-5 9-9 12-19 3-3 6-2 6 1 2 2 1 3 -7 15 -2 9 4 9 5 6 6 4 6 1 12 0 9-5 7-9 3-12 -1-24 12-33 13-51 -2-9 -2-4 -6-4 -15-4 -30-2 -9-1 -9-3 -18-11 -6-2 -6 2 -12 7 -9 1 -6-2 -15-7 -33-8 -3 0 -6 5 -15 18 -6 6 -6 3 -3 0 -3-6 -6-24 -3-4 -3-2 -9-1 -6 2 -6 5 -2 6 -1 9 1 6 2 7 3 3 10 8 0 3 -3 3 -7 3 -9 1 -6-2 -13-11 -26-17 -36-26 -9-5 -9-3 -21-4 -21-6 -9 1z"/>
<path fill="#28ff61" d="M740 1206l29 9 27 15 12 5 12 3 12 1 18-1 18-4 15-4 33-13 19-5 -3-20 -3-4 -4-2 -83 11zM215 1494l8-4 9-7 29-28 31-26 24-22 27-21 11-12 21-27 25-24 21-16 42-23 21-13 10-8 19-18 24-18 21-17 -61-2 -66-4 -82-7 -81-11 -3 0 -4 2 -2 5zM259 1693l-6 5 -4 6 -6 15 -3 27 -3 18 1 18 4 12 5 6 6 4 12 5 12 1 6-2 6-3 5-5 4-6 16-42 2-9 0-9 -4-12 -8-16 -6-8 -6-5 -9-4 -9-1 -9 2zM637 1729l-9 3 -9 5 -7 6 -4 6 -3 9 0 6 4 9 4 6 8 6 10 2 9 1 15-2 24 8 6-1 3-2 8-12 3-12 0-12 -2-6 -3-6 -9-8 -15-6 -18-2zM537 1854l0 9 1 4 3 3 6 2 6-1 3-1 3-4 1-6 -1-6 -3-5 -3-2 -3-1 -6 1 -3 1zM376 1832l-2 7 3 18 -1 36 3 12 21 29 21 19 9 6 15 5 33 5 12 3 12 7 21 18 6 3 27 1 60 12 9-1 18-4 21-3 6-2 9-8 21-25 6-2 6 0 9 4 4 5 1 6 -4 21 1 6 5 6 8 4 9 0 7-4 5-7 3-11 -1-18 2-12 23-72 0-6 -2-6 -7-6 -15-3 -27 0 -9-1 -9-3 -15-8 -6-1 -6 0 -18 9 -9 0 -6-2 -12-9 -5-3 -13-3 -9-1 -6 1 -6 6 -18 31 -6 7 -5 4 -4 2 -9 1 -36-1 -7-2 -9-12 -10-9 -52-38 -9-5 -9-3 -18-3 -24-6 -6 1z"/>
<path fill="#62ff47" d="M785 1202l23 13 9 4 9 2 9-1 24-5 48-19 23-7 -3-2 -4-1 -65 9zM217 1477l63-50 33-29 22-18 11-12 24-30 24-22 24-18 42-23 18-12 65-53 -63-3 -65-4 -82-8 -65-9 -6 2 -3 5zM259 1699l-8 11 -4 12 -6 39 0 15 3 12 8 9 10 5 12 1 6-2 6-3 9-12 15-34 2-9 0-9 -3-12 -5-12 -6-8 -6-5 -9-4 -9-1 -9 3zM631 1734l-12 6 -5 6 -3 6 -1 9 1 6 3 6 5 5 6 3 6 2 9 0 12-3 24 6 6-1 7-6 5-9 1-12 -1-6 -3-6 -6-7 -12-6 -15-3 -12 0zM541 1857l0 3 2 3 4 2 3 0 3-2 1-3 0-6 -4-3 -3 0 -3 1zM381 1833l-3 3 -1 6 2 15 -1 33 2 12 3 6 18 24 23 20 6 4 18 5 33 4 12 2 33 18 21 1 48 12 15 2 9 1 6-2 18-8 18-2 6-1 12-8 8-9 3-6 0-6 -2-9 0-6 3-4 6-4 3 1 2 4 3 12 1 3 3 3 15 8 4 4 2 9 -1 21 1 6 2 3 7 3 6 0 6-4 3-5 2-9 -1-27 2-12 5-15 16-36 3-9 -1-9 -2-3 -4-3 -5-2 -9-1 -27 2 -9 0 -9-3 -15-8 -6-1 -9 4 -18 11 -9 2 -6-2 -6-3 -4-5 -5-9 -3-3 -6-3 -9-2 -4 2 -5 5 -13 28 -8 12 -6 5 -9 3 -27-1 -24-4 -6-3 -12-15 -10-9 -44-33 -12-8 -12-4 -33-6 -9 1z"/>
<path fill="#9bff2d" d="M220 1460l51-37 54-46 12-12 27-33 22-21 26-19 60-36 48-38 10-9 -50-2 -65-4 -82-8 -65-9 -6 2 -3 5zM264 1701l-8 9 -5 12 -6 36 0 12 2 12 3 6 9 7 9 2 6-1 6-2 6-5 6-8 13-26 3-9 1-9 -1-9 -4-12 -3-6 -6-7 -6-4 -9-2 -9 1zM631 1737l-6 3 -6 5 -3 4 -2 6 0 6 2 6 3 5 5 4 10 3 18-3 18 4 6 0 6-2 6-7 3-10 -1-9 -5-8 -6-5 -9-4 -15-2 -12 1zM380 1842l1 15 -1 15 0 18 1 9 3 6 19 26 12 9 11 10 7 4 18 4 42 3 6 2 18 9 6 2 6 1 18-2 27 8 30 5 12 0 24-8 21 0 6-2 6-3 7-8 4-24 7-18 3-4 6-4 12-4 6 0 5 3 2 6 -1 6 -9 14 -2 10 2 3 3 2 13 7 4 6 -1 27 2 8 3 3 3 1 6-3 1-3 2-6 0-12 -4-21 0-6 3-9 4-9 15-24 7-15 1-9 -1-3 -4-3 -6-2 -9 0 -24 4 -9 1 -6-1 -15-8 -6-2 -3 1 -7 4 -11 15 -6 2 -20-2 -7-2 -8-4 -10-8 -3-1 -3 2 -9 9 -21 26 -3 3 -6 1 -36-6 -27-7 -6-4 -11-15 -9-9 -22-18 -18-13 -18-10 -9-3 -33-4 -6 2 -3 2z"/>
<path fill="#d5ff13" d="M222 1446l25-16 21-15 51-44 12-12 27-33 23-21 28-20 59-37 49-39 -102-6 -82-8 -65-9 -6 2 -3 5zM269 1704l-7 6 -7 12 -3 12 -4 27 1 12 2 9 5 6 9 3 6 0 6-3 6-5 6-7 12-21 4-15 0-9 -2-9 -4-9 -4-6 -6-4 -6-2 -6 0zM631 1740l-9 6 -3 5 -1 4 1 9 3 5 6 4 9 2 15-2 21 2 6-2 6-7 2-8 -1-6 -4-6 -8-6 -10-3 -12-1 -12 1zM745 1890l-9 6 -2 6 1 6 5 9 5 4 3 0 6-2 9-7 7-10 3-9 -1-3 -3-3 -6-1 -9 1zM385 1839l-2 6 -2 27 1 18 3 12 3 6 15 20 30 22 9 3 12 2 42 1 6 1 15 8 9 2 21 0 18 4 27 0 21 5 9 0 18-5 21-1 9-4 5-7 5-21 1-15 -3-9 -4-3 -6-3 -10-3 -18-2 -12-4 -9 1 -6 3 -7 5 -7 9 -7 13 -3 2 -6 0 -18-7 -21-4 -31-10 -5-4 -11-17 -9-9 -22-18 -21-15 -9-5 -12-4 -24-3 -9 0z"/>
<path fill="#fff700" d="M223 1434l30-18 24-19 42-38 30-36 23-21 29-21 65-42 37-31 -105-6 -65-7 -65-9 -6 2 -3 5zM268 1710l-6 8 -4 10 -6 33 1 11 2 7 4 4 6 2 6-1 6-3 11-11 10-18 3-9 1-6 -1-9 -2-9 -3-6 -4-4 -6-3 -6 0 -6 1zM634 1742l-9 6 -3 7 0 5 2 4 7 6 6 1 15-2 18 2 8-4 4-6 0-6 -2-6 -4-4 -6-3 -9-2 -15 0zM752 1899l1 3 1 1 6-1 3-2 2-4 -1-3 -4 0 -3 1 -3 2zM386 1845l-3 30 2 18 3 10 18 23 12 7 12 11 9 5 9 2 12 1 39-2 27 11 33 3 14-2 6-3 7-5 3-1 18 13 6 2 9 1 18-3 15 0 6-2 7-5 5-9 2-12 0-12 -5-9 -9-6 -6-1 -15-2 -12-2 -6 1 -6 2 -6 4 -6 7 -12 23 -3 4 -3 0 -13-12 -10-6 -28-7 -21-7 -6-3 -6-7 -9-15 -9-9 -18-16 -30-19 -12-5 -24-3 -9 2 -3 2z"/>
<path fill="#ffda00" d="M225 1423l28-17 22-17 35-33 30-36 20-18 28-21 72-49 30-24 -108-8 -49-5 -66-9 -5 2 -3 5zM268 1718l-3 4 -4 9 -4 27 2 15 3 4 3 1 3 0 6-2 6-5 6-6 9-16 3-12 -1-9 -2-8 -3-5 -3-3 -6-2 -6 1 -4 2zM628 1751l-2 4 2 6 3 4 6 2 30 0 7-3 4-6 -1-6 -2-3 -5-4 -6-2 -24 1 -7 2zM388 1848l-3 24 2 18 4 12 6 9 9 9 15 9 9 10 6 4 12 4 12 1 15-1 21-4 6 0 6 2 18 11 15 3 18 0 6-2 5-4 1-3 0-6 -4-6 -5-4 -9-4 -18-4 -24-7 -6-3 -5-8 -8-15 -8-9 -18-17 -24-16 -15-7 -21-3 -12 1 -4 3zM610 1920l-6 12 -3 12 3 9 3 4 6 4 12 3 27-2 9-3 6-6 3-9 1-12 -3-9 -7-6 -9-4 -24-2 -9 2z"/>
<path fill="#ffbd00" d="M227 1412l23-14 21-17 32-31 28-33 16-15 24-18 82-57 24-20 -111-9 -99-12 -5 2 -3 5zM270 1725l-5 12 -3 18 1 6 2 5 3 2 3 0 6-3 9-9 6-13 1-9 -1-9 -3-5 -3-2 -3-1 -6 1zM632 1758l3 3 5 2 21 0 8-2 3-3 0-3 -2-4 -6-4 -18 0 -6 0 -6 4 -2 4zM391 1849l-2 8 -2 15 2 15 3 12 5 7 6 7 6 4 12 6 14 15 5 3 8 3 9 1 9-1 15-3 22-9 3-3 -7-12 -11-24 -10-12 -17-15 -22-14 -15-7 -15-2 -9 0 -6 3zM614 1923l-5 9 -2 6 0 6 5 9 7 5 12 2 21-2 9-4 4-7 2-9 -1-9 -4-6 -7-5 -9-2 -18-1 -9 3zM517 1941l10 9 8 3 9 2 12-1 6-4 1-3 -2-6 -2-3 -6-4 -9-2 -21-2 -9 1 -2 1 0 3z"/>
<path fill="#ffa000" d="M228 1401l20-12 17-13 28-29 28-33 13-12 24-18 52-36 54-42 -98-8 -99-12 -5 2 -3 5zM273 1734l-2 6 -1 6 1 6 3 2 6-3 3-3 3-8 0-6 -3-6 -3-1 -3 2zM643 1758l9 2 6-1 3-1 3-3 -2-3 -4-1 -6-1 -6 1 -3 1 -3 3zM392 1854l-3 12 0 9 3 15 4 9 7 9 20 12 13 14 6 3 6 3 15 1 15-4 12-8 2-6 1-6 -3-12 -3-9 -9-12 -16-15 -23-15 -9-4 -9-3 -12-1 -9 0 -4 2zM617 1926l-4 6 -1 9 2 6 2 3 6 4 12 3 15-1 7-3 5-6 2-6 0-9 -3-6 -8-6 -9-2 -12 0 -9 3zM533 1944l8 6 9 1 3-1 2-3 1-3 -2-3 -4-3 -9-1 -4 1 -4 3z"/>
<path fill="#ff8300" d="M230 1390l17-10 14-12 45-51 15-15 24-18 55-37 51-41 -85-8 -99-12 -6 2 -2 5zM397 1851l-4 9 -2 9 0 6 5 18 7 10 6 4 12 6 18 18 9 4 9 2 12-2 7-3 7-6 3-6 1-6 -2-15 -7-12 -12-12 -21-15 -18-9 -18-3 -6 0zM622 1926l-4 6 -1 9 2 6 6 4 9 3 12-1 8-3 5-6 1-6 -1-6 -4-6 -3-2 -9-3 -9 0 -6 1z"/>
<path fill="#ff6600" d="M232 1378l12-7 11-9 33-39 25-25 23-17 58-38 44-38 -89-8 -82-11 -6 2 -2 5zM399 1854l-4 9 -1 12 4 15 8 10 18 11 15 15 9 5 9 2 8-1 7-3 6-5 3-5 2-8 -2-12 -6-12 -12-12 -18-12 -18-9 -9-3 -9 0 -6 1zM624 1929l-3 6 0 6 4 6 3 2 6 2 9 0 6-2 6-5 1-3 0-6 -3-6 -4-3 -6-2 -6 0 -6 1z"/>
<path fill="#ff4900" d="M233 1366l14-10 30-36 22-21 28-21 60-39 15-12 24-23 -77-7 -81-11 -3 0 -4 2 -2 5zM402 1857l-5 9 0 9 4 12 6 9 17 10 15 15 9 6 6 2 6 0 6-2 7-4 5-9 1-6 0-6 -2-6 -3-6 -11-12 -17-12 -19-10 -15-2 -6 0zM627 1932l-1 6 2 6 3 2 6 2 6 0 6-3 3-3 1-4 -1-4 -3-4 -9-3 -9 2z"/>
<path fill="#ff2c00" d="M236 1351l8-8 23-29 10-9 42-32 63-39 12-10 21-21 -82-8 -65-9 -6 2 -3 5zM401 1866l-1 6 1 6 5 11 6 6 15 9 15 16 6 3 9 2 9-3 6-5 3-9 1-6 -2-6 -8-12 -12-10 -18-11 -9-3 -9-3 -6 0 -6 2 -3 3zM631 1937l1 4 5 3 3 0 6-2 3-4 -3-5 -6-2 -6 1z"/>
<path fill="#ff0f00" d="M239 1329l16-18 9-9 40-29 18-12 45-25 12-8 10-10 15-16 -71-7 -65-9 -6 2 -3 5zM406 1866l-1 9 1 6 4 6 6 6 11 8 15 14 6 4 9 2 6-2 6-5 3-9 -1-9 -6-9 -9-9 -14-9 -18-7 -6-1 -6 1 -3 1z"/>
<path fill="#f10000" d="M243 1305l64-47 63-33 9-8 14-16 -60-6 -65-9 -6 2 -3 5zM411 1872l1 9 4 6 29 26 6 3 6 1 6-3 3-3 3-6 -1-9 -6-9 -10-9 -13-7 -15-4 -9 0 -2 2z"/>
<path fill="#d40000" d="M245 1286l25-14 19-18 12-8 61-28 8-6 11-12 -64-7 -49-7 -5 1 -3 3 -1 3zM420 1881l6 9 13 14 6 5 9 3 6-1 3-3 2-6 -1-6 -6-9 -7-6 -12-6 -12-2 -7 2 -1 3z"/>
<path fill="#b70000" d="M249 1259l4 1 6-2 0-3 -3-1 -7 2zM255 1219l7 2 12 6 9 1 15-7 21-1 15-4 18-8 12-10 -99-12 -4 2 -2 4zM430 1884l2 6 4 6 9 9 9 3 6-3 1-3 -1-6 -3-6 -6-5 -6-4 -9-2 -5 2z"/>
<path fill="#9b0000" d="M257 1207l11-1 3-2 9-12 5-3 -18-3 -5 2 -3 5zM439 1890l2 6 4 3 6 2 3-1 0-4 -1-3 -5-5 -6-2 -1 1z"/>
</g>
<g fill="none" stroke="#8fb0e8" stroke-width="1.2" stroke-dasharray="2 3" opacity="0.30"><path d="M436.7 1212.7 L374.2 2102.2"/><path d="M681.0 1216.6 L714.6 2107.7"/><path d="M213.2 1558.6 A2634.2 2634.2 0 0 0 977.7 1558.7"/><path d="M159.2 1926.5 A3006.0 3006.0 0 0 0 1031.6 1926.6"/></g>
</g>
<path d="M1050.6 2076.8 A3157.6 3157.6 0 0 1 140.2 2076.3" fill="none" stroke="#fff" stroke-width="2" stroke-dasharray="26 5 7 5" transform="translate(0 -2.6)"/>
<path d="M139.8 2074.3 L151.2 1996.3" stroke="#fff" stroke-width="1.5" fill="none"/>
<g fill="none" stroke="#000" stroke-width="5.1" stroke-linejoin="round" stroke-linecap="round" filter="url(#rough)"><path d="M362.0 1788.6L355.6 1783.3L346.0 1779.0L342.8 1768.4L339.6 1757.7L339.6 1747.0L327.9 1744.9L315.1 1741.7L302.3 1735.3L294.8 1727.9L285.2 1725.7L279.9 1716.1L283.1 1706.6L278.8 1698.0L268.2 1691.6L263.9 1683.1L253.3 1679.9L242.6 1676.7L240.5 1670.3L251.1 1668.2L259.7 1661.8L256.5 1651.1L255.4 1638.4L256.5 1625.6L249.0 1618.1L238.4 1616.0L228.8 1617.0L226.6 1607.2L230.9 1600.8L225.6 1592.3L223.4 1584.8L232.0 1581.6L235.2 1573.1L238.4 1564.6L249.0 1560.3L263.9 1551.8L270.3 1548.6L285.2 1546.5L290.6 1551.8L291.6 1560.3L300.2 1559.2L310.8 1560.3L317.2 1551.8L323.6 1539.0L331.1 1535.8L347.0 1540.1L364.1 1527.3L387.5 1516.6L413.1 1507.0L421.6 1501.7L423.8 1485.7L427.0 1478.3L434.4 1472.9L440.8 1464.4L439.7 1451.6L434.4 1441.0L432.3 1421.8L433.4 1411.1L425.9 1404.7L420.6 1399.4L430.2 1395.2L451.5 1389.8L469.6 1385.6L477.0 1390.9L489.8 1395.2L494.1 1388.8L485.6 1379.2L485.6 1368.5L492.0 1357.9L498.3 1340.8L502.6 1330.2L507.9 1318.4L523.9 1325.9L538.8 1329.1L553.8 1333.4L566.5 1327.0L574.0 1319.5L574.0 1306.7L571.9 1293.9L571.9 1283.3L581.5 1275.8L594.2 1272.6L599.4 1267.3L600.5 1255.6L605.8 1250.2L617.5 1250.2L627.1 1248.1L629.3 1257.7L631.4 1266.2L641.0 1274.8L649.5 1283.3L660.2 1288.6L670.8 1289.7L683.6 1295.0L692.1 1302.5L697.5 1313.1L702.8 1323.8L710.2 1333.4L712.4 1342.9L710.2 1353.6L711.3 1362.1L706.0 1368.5L703.8 1379.2L707.0 1388.8L715.6 1394.1L730.5 1396.2L747.5 1397.3L764.6 1396.2L781.6 1398.4L792.3 1403.7L805.1 1411.1L817.9 1418.6L829.6 1419.7L833.8 1428.2L839.2 1432.5L843.4 1443.1L848.8 1451.6L853.0 1459.1L862.6 1465.5L864.7 1471.9L858.3 1477.2L855.2 1483.6L859.4 1491.1L860.5 1500.6L854.1 1506.0L845.6 1511.3L839.2 1517.7L830.6 1513.4L820.0 1522.0L811.5 1530.5L805.1 1541.1L799.7 1549.7L799.7 1556.1L789.1 1558.2L778.4 1561.4L775.2 1571.0L773.1 1583.8L772.0 1596.5L767.8 1607.2L762.5 1615.7L762.5 1620.2L747.5 1626.6L730.5 1633.0L713.4 1639.4L700.6 1644.8L702.8 1651.1L711.3 1651.1L712.4 1663.9L717.7 1672.5L728.4 1677.8L733.7 1687.4L736.9 1693.8L728.4 1699.1L720.9 1704.4L720.9 1710.8L728.4 1714.0L731.6 1723.6L732.6 1731.1L726.2 1734.3L715.6 1730.0L701.7 1727.9L691.1 1734.7L691.1 1734.7L677.2 1727.9L664.4 1723.6L651.6 1718.3L634.6 1721.5L619.7 1722.5L600.5 1726.8L587.7 1730.0L584.5 1736.4L579.2 1744.9L568.5 1750.2L560.1 1747.0L549.5 1747.0L536.7 1753.4L526.1 1759.8L513.3 1760.9L498.3 1759.8L490.9 1756.6L485.6 1748.1L474.9 1746.0L468.5 1749.2L460.0 1759.8L447.2 1763.0L436.5 1758.8L423.8 1756.6L411.0 1753.4L406.7 1757.7L399.3 1768.4L395.0 1776.9L389.7 1787.5L374.7 1787.5L362.0 1788.6Z"/><path d="M362.0 1788.6L358.8 1796.1L353.4 1802.5L354.5 1813.1L353.4 1819.5L358.8 1825.9L363.0 1834.4L367.3 1845.1L369.4 1855.7L365.2 1863.2L357.7 1864.3L353.4 1855.7L349.2 1850.4L342.8 1853.6L340.6 1862.1L341.7 1871.7L347.0 1879.2L349.2 1889.8L349.2 1900.5L353.4 1906.9L357.7 1915.4L368.4 1914.3L376.9 1919.7L384.3 1928.2L389.7 1934.6L400.3 1938.8L408.8 1945.2L417.4 1951.6L422.7 1960.1L428.0 1951.6L432.3 1943.1L440.8 1941.0L451.5 1945.2L455.7 1955.9L466.4 1964.4L474.9 1972.9L485.6 1977.2L494.1 1985.7L494.3 1983.3L500.4 1989.4L510.6 1984.3L517.8 1987.3L520.8 1997.6L529.0 2005.7L539.2 2010.8L549.4 2009.8L550.4 2020.0L559.6 2023.1L567.8 2022.0L573.9 2030.2L580.0 2037.3L586.1 2031.2L592.2 2036.3L600.4 2031.2L610.6 2036.3L618.8 2041.4L629.0 2040.4L641.2 2037.3L653.5 2034.3L664.7 2031.2L671.8 2033.3L671.8 2044.5L670.8 2052.7L674.9 2060.8L680.0 2062.9L684.1 2054.7L686.1 2044.5L692.2 2034.3L699.4 2027.1L706.5 2025.1L718.8 2027.1L731.0 2030.2L741.2 2033.3L747.3 2037.3L753.5 2030.2L759.6 2030.2L765.7 2038.4L764.7 2046.5L771.8 2049.6L780.0 2049.6L782.0 2058.8L784.1 2071.0L798.4 2068.0L810.6 2066.9L826.9 2064.9L839.2 2060.8L845.3 2050.6L853.5 2040.4L863.7 2036.3L880.0 2027.1L885.4 2022.8L891.8 2013.2L902.5 2008.9L915.2 2010.0L925.9 2013.2L936.5 2018.5L948.3 2022.8L953.6 2014.3L955.7 2003.6L960.0 1994.0L968.5 1997.2L977.0 2004.7L983.4 2000.4L992.0 2004.7L998.3 1999.3L994.1 1995.1L993.0 1986.5L998.3 1980.2L994.1 1973.8L1002.6 1971.6L1003.7 1959.9L1000.5 1946.1L998.3 1933.3L995.2 1920.5L992.0 1907.7L985.6 1899.2L981.3 1890.6L987.7 1883.2L981.3 1875.7L972.8 1867.2L966.4 1855.5L960.0 1848.0L945.7 1845.1L937.2 1847.2L937.2 1855.7L932.9 1864.3L922.3 1868.5L920.1 1877.0L913.8 1877.0L905.2 1883.4L903.1 1876.0L892.4 1880.2L881.8 1881.3L877.5 1874.9L873.3 1865.3L862.6 1860.0L852.0 1852.5L843.4 1853.6L832.8 1858.9L815.7 1858.9L802.9 1854.7L785.9 1853.6L771.0 1850.4L756.1 1845.1L743.3 1841.9L726.2 1840.8L713.4 1833.4L704.9 1825.9L698.5 1817.4L692.1 1808.8L696.4 1802.5L697.5 1791.8L695.3 1781.1L688.9 1774.7L684.7 1766.2L687.9 1757.7L693.2 1747.0L691.1 1734.7"/></g>
<path d="M266.6 1194.6 A2265.9 2265.9 0 0 0 924.2 1193.9 L1053.6 2076.8 A3157.6 3157.6 0 0 1 137.2 2076.3 Z" fill="none" stroke="#1a1a1a" stroke-width="2.2" stroke-linejoin="miter"/>
<defs><linearGradient id="cbC" x1="0" y1="0" x2="0" y2="1"><stop offset="0.0000" stop-color="#8c0000"/><stop offset="0.0588" stop-color="#c60000"/><stop offset="0.1176" stop-color="#ff0000"/><stop offset="0.1765" stop-color="#ff3a00"/><stop offset="0.2353" stop-color="#ff7400"/><stop offset="0.2941" stop-color="#ffaf00"/><stop offset="0.3753" stop-color="#ffff00"/><stop offset="0.4412" stop-color="#7eff3a"/><stop offset="0.5059" stop-color="#00ff73"/><stop offset="0.5647" stop-color="#00ffb8"/><stop offset="0.6247" stop-color="#00ffff"/><stop offset="0.6941" stop-color="#00b8ff"/><stop offset="0.7529" stop-color="#007dff"/><stop offset="0.8118" stop-color="#0041ff"/><stop offset="0.8753" stop-color="#0000ff"/><stop offset="0.9412" stop-color="#0000c2"/><stop offset="1.0000" stop-color="#00008c"/></linearGradient></defs><rect x="1066.3" y="1190.0" width="33.7" height="923.8" fill="#262626"/><rect x="1072.8" y="1195.2" width="20.7" height="913.4" fill="url(#cbC)"/><rect x="1084.5" y="1245.0" width="9.5" height="5.6" fill="#262626"/><text x="1107.5" y="1260.2" font-family='"Liberation Sans", sans-serif' font-size="30.5" font-weight="bold" fill="#1f1f1f">120</text><rect x="1084.5" y="1352.7" width="9.5" height="5.6" fill="#262626"/><text x="1107.5" y="1368.0" font-family='"Liberation Sans", sans-serif' font-size="30.5" font-weight="bold" fill="#1f1f1f">110</text><rect x="1084.5" y="1460.4" width="9.5" height="5.6" fill="#262626"/><text x="1107.5" y="1475.7" font-family='"Liberation Sans", sans-serif' font-size="30.5" font-weight="bold" fill="#1f1f1f">100</text><rect x="1084.5" y="1568.1" width="9.5" height="5.6" fill="#262626"/><text x="1107.5" y="1583.4" font-family='"Liberation Sans", sans-serif' font-size="30.5" font-weight="bold" fill="#1f1f1f">90</text><rect x="1084.5" y="1675.8" width="9.5" height="5.6" fill="#262626"/><text x="1107.5" y="1691.1" font-family='"Liberation Sans", sans-serif' font-size="30.5" font-weight="bold" fill="#1f1f1f">80</text><rect x="1084.5" y="1783.5" width="9.5" height="5.6" fill="#262626"/><text x="1107.5" y="1798.8" font-family='"Liberation Sans", sans-serif' font-size="30.5" font-weight="bold" fill="#1f1f1f">70</text><rect x="1084.5" y="1891.3" width="9.5" height="5.6" fill="#262626"/><text x="1107.5" y="1906.5" font-family='"Liberation Sans", sans-serif' font-size="30.5" font-weight="bold" fill="#1f1f1f">60</text><rect x="1084.5" y="1999.0" width="9.5" height="5.6" fill="#262626"/><text x="1107.5" y="2014.3" font-family='"Liberation Sans", sans-serif' font-size="30.5" font-weight="bold" fill="#1f1f1f">50</text><rect x="1084.5" y="2106.7" width="9.5" height="5.6" fill="#262626"/><text x="1107.5" y="2122.0" font-family='"Liberation Sans", sans-serif' font-size="30.5" font-weight="bold" fill="#1f1f1f">40</text>
<g transform="translate(136.0 1200.5) rotate(8.00)" fill="#1c1c1c" stroke="#fff" stroke-width="0.40" font-family='"Liberation Sans", sans-serif' font-size="44.0"><text x="0" y="0">50</text><text x="46.7" y="-15.8" font-size="40.5" stroke-width="0.88">°</text><text x="74.2" y="0">N</text></g>
<g transform="translate(79.6 1566.5) rotate(8.00)" fill="#1c1c1c" stroke="#fff" stroke-width="0.40" font-family='"Liberation Sans", sans-serif' font-size="44.0"><text x="0" y="0">40</text><text x="46.7" y="-15.8" font-size="40.5" stroke-width="0.88">°</text><text x="74.2" y="0">N</text></g>
<g transform="translate(26.6 1932.5) rotate(8.00)" fill="#1c1c1c" stroke="#fff" stroke-width="0.40" font-family='"Liberation Sans", sans-serif' font-size="44.0"><text x="0" y="0">30</text><text x="46.7" y="-15.8" font-size="40.5" stroke-width="0.88">°</text><text x="74.2" y="0">N</text></g>
<g transform="translate(327.0 2208.5) rotate(3.00)" fill="#1c1c1c" stroke="#fff" stroke-width="0.40" font-family='"Liberation Sans", sans-serif' font-size="44.0"><text x="0" y="0">80</text><text x="46.7" y="-15.8" font-size="40.5" stroke-width="0.88">°</text><text x="74.2" y="0">E</text></g>
<g transform="translate(678.5 2216.0) rotate(-2.00)" fill="#1c1c1c" stroke="#fff" stroke-width="0.40" font-family='"Liberation Sans", sans-serif' font-size="44.0"><text x="0" y="0">90</text><text x="46.7" y="-15.8" font-size="40.5" stroke-width="0.88">°</text><text x="74.2" y="0">E</text></g>
<g transform="translate(1013.5 2190.5) rotate(-7.50)" fill="#1c1c1c" stroke="#fff" stroke-width="0.40" font-family='"Liberation Sans", sans-serif' font-size="44.0"><text x="0" y="0">100</text><text x="71.2" y="-15.8" font-size="40.5" stroke-width="0.88">°</text><text x="98.7" y="0">E</text></g>
<rect x="1296.0" y="1229.0" width="1055.0" height="937.5" fill="#cfe7ee"/>
<g filter="url(#blD)">
<path d="M1322.9 1520l11.4 8.6 2.8 14.3 -11.4 11.4 5.7 14.3 11.5 8.5 2.8 17.2 8.6 8.6 11.4 8.5 11.4 8.6 11.5 14.3 11.4 11.4 2.9 11.4 -17.2 5.8 -11.4 11.4 -2.9 11.4 -11.4 5.7 -1.9 9.6 1.9 7.6 -5.7 14.3 8.6 14.2 11.4 14.3 14.3 11.5 14.3 8.5 11.4 8.6 14.3 14.3 11.4 14.3 14.3 14.3 11.4 14.2 14.3 8.6 17.1 5.7 14.3 5.7 11.5 20 8.5-14.2 11.5-5.8 11.4 5.8 11.4 5.7 11.4 11.4 8.6 20 14.3 2.9 17.1-1.5 17.2-7.1 17.1-8.6 14.3-5.7 14.3 5.7 11.4 8.6 8.6-8.6 8.6 17.2 8.5 20 2.9 14.2 -8.6 11.5 -11.4 11.4 -8.6 11.4 -2.8 14.3 2.8 8.6 8.6 8.6 8.6 8.5 5.7 11.5 2.8 14.2 5.8 8.6 8.5 8.6 11.5 8.6 11.4 5.7 11.4 1.4 5.7-12.9 -5.7-17.1 5.7-5.7 11.5 2.8 11.4 0 22.8-5.7 17.2 2.9 14.3-2.9 14.3 2.9 11.4 2.8 2.8 8.6 5.8 8.6 8.5 5.7 8.6 2.9 8.6 5.7 8.5-2.9 8.6 5.7 8.6-2.8 5.7 5.7 0 11.4 2.9 14.3 8.5 2.9 4.3-5.8 -1.4-11.4 8.6-5.7 11.4-5.7 11.4-2.9 11.4-5.7 11.5-5.7 11.4-2.9 8.6-8.5 11.4-2.9 11.4-8.6 11.5-8.5 11.4-5.7 11.4-5.8 11.4-8.5 8.6-5.7 11.4-8.6 11.5-14.3 8.5-14.3 5.8-11.4 5.7-17.2 5.7-14.2 8.6-14.3 8.5-14.3 2.9-14.3 5.7-17.1 2.9-17.2 -11.5-5.7 -11.4-5.7 17.1-11.4 -5.7-8.6 -8.5-11.4 11.4-2.9 -2.9-5.7 -11.4-11.4 -8.6-17.2 -8.5-20 -11.5-14.3 -8.5-14.3 5.7-14.2 8.5 0 5.8-11.5 14.2-11.4 11.5-8.6 2.8-11.4 -5.7-5.7 -14.3-2.9 -14.3 2.9 -11.4 5.7 -11.4 0 -5.7-8.6 -5.7-11.4 -8.6-11.4 -8.6-8.6 5.7-8.6 11.5-5.7 8.5-5.7 11.5-5.7 8.5-5.7 8.6-8.6 8.6-8.6 5.7 8.6 -8.6 11.4 1.4 8.6 -4.2 11.4 2.8 8.6 8.6-11.4 8.6-8.6 8.5-8.6 11.5-2.8 8.5-2.9 11.5-5.7 11.4-8.6 14.3-8.5 11.4-8.6 8.6-11.4 11.4-14.3 8.6-11.5 5.7-8.5 11.4-8.6 5.7-5.7 7.2-17.2 -1.5-20 -2.8-20 5.7-8.5 14.3 0 5.7-8.6 4.3-20 -1.4-22.9 4.2-17.1 -4.2-18.6 -14.3 10 -14.3 11.5 -14.3 5.7 -17.1-8.6 -17.2-17.1 -17.1-2.9 -14.3-2.9 -8.6-8.5 -5.7-14.3 -5.7-14.3 -8.6-14.3 -5.7-14.3 -11.4-10 -11.5-4.3 -17.1-4.2 -11.4 1.4 -17.2 8.6 -14.3 2.8 -8.5 11.4 8.5 8.6 -2.8 20 0 14.3 -8.6 17.1 -11.4 11.5 -8.6 11.4 -14.3-4.3 -8.5 7.2 -5.8 11.4 -4.2 11.4 4.2 11.4 14.3 2.9 11.5 2.9 17.1-2.9 14.3 5.7 5.7 8.6 -5.7 8.6 -14.3 2.8 -17.1 5.7 -14.3 8.6 -8.6 11.4 -14.3 11.5 -14.3 11.4 -11.4 14.3 -11.4-11.5 -11.5-1.4 -2.8 10 8.6 14.3 -5.8 14.3 -14.2 11.4 -20 7.2 -22.9 4.2 -25.7 4.3 -22.9 8.6 -17.1 2.9 -20 1.4 -11.4-11.4 -14.3-11.5 -28.6-8.5 -28.6-2.9 -25.7-5.7 -8.6-5.7 -2.8-17.2 -5.7-17.1 -11.5-11.4 -17.1-11.5 -20-8.5 -11.4-17.2 2.8-20 -5.7-20 -8.6-14.3 -14.2-8.5 -7.2-11.5 -1.4-17.1 -11.4-4.3 -14.3 7.1 -14.3 14.3 -8.6 14.3 -20 5.7 -14.3-8.5 -8.5 8.5 -11.5 17.2 -2.8 17.1 -11.5-5.7 -17.1-2.9 -8.6 2.9 -2.8 28.6 -5.7 22.8 -11.5 11.5 -22.8 5.7 -28.6 5.7 -11.4 11.4 -14.3 0 -17.2-11.4 -20 8.6 -12.8 25.7zM2168.6 1977.1l-5.7 14.3 -4.3 17.2 4.3 17.1 8.5 14.3 5.7 8.6 2.9-20 5.7-17.2 5.7-17.1 4.3-17.2 -1.4-14.2 -11.4-1.5 -8.6 4.3zM1928.6 2148.6l14.3 2.8 14.2-8.5 8.6-11.5 4.3-11.4 -7.1-8.6 -14.3-2.8 -14.3 2.8 -11.4 5.7 -7.2 11.5 2.9 11.4z" fill="#7489c9" stroke="#2c3a30" stroke-width="2.4" stroke-linejoin="round"/>
<g clip-path="url(#clipD)"><path fill="#4a2192" d="M1567 1358l2 18 7 28 2 28 2 7 3 3 4 2 13 1 6-1 16-8 2-3 1-5 -1-4 -2-3 -18-9 -16-1 -4-1 -3-4 -1-4 1-6 5-6 20-10 4-4 2-8 2-22 4-8 -1-5 -14-6 -16 7 -15 16zM1744 2067l0-21 2-3 4-2 10 0 4 2 3 3 2 6 -1 20 6-14 -5-17 3-3 10 2 12 0 23-6 17 3 15-3 23 6 3 7 6 10 9 6 9 3 8 5 10-2 9 5 7-2 4 4 0 10 3 15 2 2 10 3 7-8 -2-11 18-10 12-3 23-11 11-3 9-9 12-3 22-17 23-11 21-15 11-9 12-14 15-26 11-32 17-28 3-15 6-17 3-18 -2-3 -18-9 14-10 0-3 -12-16 8-2 1-4 -3-7 -12-11 -17-37 -11-14 -8-13 5-11 8-1 6-12 26-20 3-13 -7-8 -16-4 -15 3 -11 6 -9 0 -11-19 -8-11 -7-7 3-6 31-17 9-6 15-15 3 4 -8 10 1 10 -4 11 3 11 2 1 2 0 10-12 16-17 19-5 12-6 38-26 34-46 12-9 6-6 8-19 -2-20 -3-19 5-6 13 0 2-2 6-9 4-20 -1-24 4-17 -5-21 -4 0 -28 21 -13 5 -15-7 -18-18 -31-6 -4-3 0 17 -4 10 -12 8 -4 10 -4 5 -6 2 -8 0 -5-5 -5-12 -5-10 -3-8 0-8 3-10 6-12 2-12 2-6 3-3 7-5 8-12 -4-10 -13-11 -12-5 -18-4 -12 1 -18 9 -14 3 -10 14 0 2 8 8 -3 18 0 14 -8 16 -11 11 -7 11 -9-3 -1 20 -3 7 -4 2 -4-2 -7-13 -7 18 4 12 2 2 27 6 17-3 12 5 4 6 -4 6 -13 3 -17 6 -15 9 -9 11 -29 23 -9 12 -10-10 -13-1 -2 0 -4 13 9 14 -5 12 -14 11 -19 7 -48 9 -23 8 -17 3 -19 1 -10-10 -15-12 -29-9 -29-3 -25-6 -7-4 -1-3 -3 0 -4-1 -4-5 -1-6 -1-25 -7-6 -17-12 -20-9 -6-9 -6 13 -6 6 -3 4 -6 28 0 14 1 2 6-2 6 0 10 6 6 2 6 0 10-5 4 1 3 8 0 10 -3 10 -4 5 -6 1 -24 0 -6-1 -4-1 -5-8 -2-20 -1-2 -6 2 -6 1 -92 0 -4-1 -3-2 -7-11 -6 10 -4 2 -2-1 -2-3 -1-7 1-12 2-3 4-1 8 9 5-13 2-12 0-10 -11-44 -1-19 -3 14 -8-4 -18-3 -11 4 -3 30 -6 22 -10 10 -51 11 -12 12 -9 0 1 7 1 6 4 4 6 3 2 3 7 20 3 3 13 7 4 6 3 9 14 6 4 5 2 6 -1 10 -1 6 -4 5 -8 6 -5 11 -3 4 -8 2 -26 0 -14-4 -2-2 -2-6 -2-26 -1-42 -2-26 -6-20 0-15 -22 10 -14 27 -1 13 12 9 2 12 -11 10 0 3 6 15 11 9 3 17 9 9 23 17 11 14 11 11 2 8 -15 6 -12 12 -3 11 -12 6 -2 11 2 7 -6 15 10 16 11 15 15 11 14 9 11 8 14 14 12 14 14 15 12 14 15 9 30 12 13 20 3-1 9-14 9-5 21 11 11 11 9 20 16 4 18-2 48-21 13 5 12 9 2 0 6-6 15 33 3 12 -8 11 -11 11 -9 12 -3 16 3 10 17 17 5 11 3 14 6 9 10 10 11 8zM1614 1598l2 2 0 4 -3 2 -3 0 -3-2 0-4 3-2zM1660 1645l12 0 16 3 4 1 4 3 2 4 2 8 2 16 -3 6 -5 3 -6 1 -32 0 -6-2 -3-4 0-4 4-26 3-7zM1865 1816l1 4 0 4 -2 3 -2 0 -2-3 0-6 2-3zM1890 1783l4 5 1 8 -1 5 -2 3 -4 2 -4-2 -2-3 -1-9 3-7 2-2zM1952 1811l6 0 5 3 3 6 2 8 0 20 -2 14 -4 7 -6 2 -6 0 -4-3 -4-7 -2-11 0-20 1-10 5-7zM2002 1732l4 16 4 4 8 4 2 3 1 5 0 8 -4 14 -1 10 1 10 5 16 1 6 -3 9 -2 3 -4 2 -6-2 -6-5 -3-5 -2-6 3-24 0-14 0-28 -3-22 2-4 1-1zM2060 1495l28 0 4 2 4 5 5 20 9 16 2 14 3 8 1 8 0 28 -2 4 -2 0 -10-3 -10-1 -5-2 -7-8 -4 0 -4 4 -3 10 -3 4 -16 5 -4 3 -3 6 -3 17 -2 3 -4 1 -4-3 -3-6 1-6 6-14 2-10 -2-10 -6-14 -2-6 1-34 2-6 3-4 10-4 3-2 6-20 3-3zM2182 1530l2 1 3 3 2 8 -2 10 -5 3 -5-3 -2-4 -1-6 2-8 2-2zM1619 1712l2 2 0 2 -1 1 -4 1 -3-2 0-2 2-2zM1750 1577l3 3 0 4 -3 3 -4 0 -3-3 0-4 3-3zM1780 1754l4 2 2 4 4 16 -2 8 -2 1 -4 1 -4 0 -4-3 -2-5 -1-4 1-8 2-8 2-2zM1864 1876l2 2 0 6 -2 4 -2 0 -2-3 0-5 2-4zM1948 1889l22 0 4 2 2 3 3 8 4 28 0 8 -3 4 -8 2 -10-2 -3-2 -7-10 -4-1 -18-1 -4-2 -2-3 -3-11 0-6 2-4 5-5 16-7zM1754 1607l3 3 0 4 -1 2 -4 1 -4-2 -1-5 3-3zM1776 1928l2 2 2 6 -2 5 -4 2 -4-2 -1-7 1-3 2-3zM2172 1964l-12 27 -4 18 4 18 15 23 3 2 2-3 3-20 11-34 5-17 -2-16 -2-2 -13-1zM1927 2151l16 3 16-9 9-12 5-13 -1-2 -7-9 -17-3 -15 3 -12 6 -8 14 3 13z"/><path fill="#22ae3e" d="M1572 1350l4 25 2 6 4 2 10-3 4-4 10-18 5-16 6-9 -13-6 -2 0 -15 8zM1584 1421l-1 3 0 6 1 4 4 4 6 1 8 0 5-3 3-4 1-4 -1-4 -3-4 -3-2 -6-2 -6 1 -4 1zM1656 1488l0 6 3 4 3 2 4 1 4-1 5-6 0-6 -5-5 -8 0 -4 2zM1740 2064l0-18 2-4 6-3 10-1 12 5 -1-2 3-3 10 2 12 0 23-6 17 3 15-3 23 6 3 7 6 10 9 6 9 3 8 5 10-2 9 5 7-2 4 4 0 10 3 15 2 2 10 3 2-1 5-7 -2-11 7-4 11-6 12-3 23-11 11-3 9-9 12-3 22-17 23-11 32-23 12-15 9-15 6-12 11-31 17-28 3-15 6-17 3-18 -2-3 -18-9 14-10 0-3 -12-16 8-2 1-4 -3-7 -12-11 -17-37 -11-14 -8-13 5-11 8-1 6-12 26-20 3-14 -7-7 -16-4 -15 3 -11 6 -9 0 -11-19 -8-11 -7-7 3-6 18-10 -9-5 -14-1 -10-5 -2 2 -4 7 -3 4 -17 6 -5 4 -2 6 -3 18 -2 5 -4 2 -4-1 -6-3 -4-5 -2-6 0-8 3-6 7-10 2-6 -1-6 -3-7 -4-4 -4-2 -12-2 -5-3 -2-8 0-26 8-36 5-4 10-2 3-2 2-4 2-10 1-32 -23 18 -9 12 -5-5 -1 11 -8 12 -4 15 -2 5 -4 2 -4 0 -7-4 -6 4 -2 24 -3 5 -8 2 -44 0 -7-3 -11-10 -13 5 -7 1 -11 14 -7 17 -2 2 -4 1 -4-1 -2-2 -6-14 -15-13 -2-6 0-16 -1-1 -29-9 -29-3 -25-6 -4-2 -5 5 -8 10 -12 2 -4 2 -4 8 -2 14 -4 4 -4 1 -58-1 -4-4 -2-14 -2-6 -4-4 -4-1 -112 0 -8-2 -4-5 0-6 2-5 8-7 5-26 3-4 2-1 10 0 2-2 2-5 0-8 -5-18 -7-36 -6-3 -18-3 -10 3 -2 2 -2 29 -6 22 -10 10 -51 11 -12 12 -5 0 2 9 8 5 4 6 5 15 3 6 18 11 11 3 2 2 3 10 4 5 4 3 10 2 3 2 1 4 2 26 0 6 -2 3 -4 2 -12 0 -8 2 -6 3 -8 8 -6 3 -28 0 -18-7 -3-4 -2-8 -2-28 0-38 -2-28 -6-18 0-16 -20 9 -14 27 -1 13 12 9 2 12 -11 12 6 16 11 9 3 17 9 9 23 17 11 14 11 11 2 8 -15 6 -12 12 -3 11 -11 6 -3 11 2 7 -6 16 10 15 11 15 15 11 14 9 11 8 14 14 12 14 14 15 12 14 15 9 30 12 13 20 3-1 9-14 9-5 21 11 11 11 9 20 16 4 18-2 48-21 13 5 12 9 2 0 6-6 15 33 3 12 -8 11 -11 11 -9 12 -3 16 3 10 17 17 5 11 3 14 6 9 10 10zM1614 1593l4 3 2 2 0 6 -4 5 -4 1 -4-1 -5-5 0-6 5-4zM1660 1638l12 1 19 5 5 2 7 6 4 6 4 20 1 6 -2 3 -10 5 -8 2 -38 0 -4-1 -4-2 -3-5 0-6 5-32 4-7zM1750 1573l5 5 1 6 -3 4 -5 2 -6-3 -2-7 1-4 3-3zM1780 1747l5 3 2 4 4 24 -1 8 -4 3 -4 1 -6-2 -5-4 -3-6 0-8 1-12 3-6 4-4zM1838 1811l3 7 0 8 -3 7 -2 3 -2 0 -2-1 -2-5 -1-12 4-8 3-1zM1866 1807l3 3 1 4 1 10 -3 7 -2 1 -4 1 -4-3 -2-4 -1-10 2-6 3-3 2-1zM1888 1776l4 1 4 5 2 6 1 8 0 6 -3 6 -4 4 -4 1 -4-1 -4-4 -3-6 0-8 1-8 2-6 4-3zM1952 1804l8 1 6 2 4 5 3 6 3 40 6 18 4 26 2 26 -1 10 -3 6 -6 3 -14 0 -12-2 -12 2 -16 0 -4-2 -2-5 -6-26 0-8 1-4 3-4 7-6 11-5 4-5 0-8 -5-22 -2-24 1-8 2-6 4-4 8-5zM2004 1726l3 4 3 13 11 7 2 4 2 6 0 12 -4 18 -1 8 3 8 7 9 2 5 3 28 -1 6 -1 4 -3 3 -4 1 -10 0 -6-3 -6-13 -10-12 -3-8 0-8 4-16 1-10 0-28 -3-20 0-10 1-4 4-4 4-1zM1620 1707l6 5 0 4 -1 2 -5 2 -4 0 -5-2 -2-2 0-4 3-4 4-1zM1754 1604l5 4 1 6 -2 5 -4 2 -6-3 -4-6 1-4 3-3zM1776 1924l4 3 2 5 -1 8 -3 5 -2 1 -4 0 -3-2 -1-4 0-10 4-5zM1844 1873l2 5 1 6 -2 6 -3 2 -2-1 -1-3 -1-10 2-6 2-1zM1866 1871l4 5 1 10 -3 8 -2 2 -4 1 -2-1 -3-4 -2-6 0-6 2-6 3-3 2-1zM2109 1962l1 6 -1 4 -2 2 -2 0 -3-4 1-8 3-3zM2302 1477l-7-59 -8-12 -5-18 -2-3 -4-2 -72-1 -6 1 -10 6 -10 1 -6-1 -12-6 -16-2 -4-2 -2-6 0-7 5-12 3-16 6-16 6-28 4-28 4-9 -26-7 -12 1 -18 9 -15 4 -9 13 0 2 8 8 -3 18 0 14 -8 16 -11 11 -7 11 -6-2 0 23 -2 6 -3 4 -6 2 -6-2 -3-4 -4-12 -5 13 4 13 2 2 27 6 17-3 12 5 4 6 -4 6 -13 3 -17 6 -15 8 -9 12 -3 3 3 1 3 3 5 14 4 4 6 1 32 0 6 3 8 24 3 16 9 14 2 6 3 26 0 36 14-9 15-15 3 4 -8 10 1 10 -4 11 3 10 2 2 3-1 9-11 16-17 19-5 12-6 38-26 34-46 12-9 6-6zM2184 1525l4 3 3 4 1 6 0 8 -1 6 -2 4 -3 2 -4 1 -4-1 -4-4 -2-6 -1-8 1-6 4-6 4-3zM2172 1964l-12 27 -4 18 4 18 15 23 3 2 2-3 3-20 11-34 5-17 -2-16 -2-2 -13-1zM1927 2151l16 3 16-9 9-12 5-13 -1-2 -7-9 -17-3 -15 3 -12 6 -8 14 3 13z"/><path fill="#f1f03c" d="M2070 1350l3 26 3 5 6 0 4-5 6-15 9-13 5-27 0-11 -8-12 -4-10 -3 17 0 14 -8 16 -11 11zM1480 1557l-3 5 -1 6 1 8 2 6 3 4 4 4 4 1 6-1 6-6 3-8 1-10 -2-6 -4-4 -8-3 -6 1zM1757 1560l-1 4 0 4 5 16 -3 12 10 11 4 1 4-4 3-12 7-14 1-8 0-6 -2-4 -3-2 -10-3 -8 0 -4 2zM1685 1586l-6 6 -2 8 3 22 4 8 16 9 14 5 18 2 4 2 2 4 7 30 -1 6 -5 12 1 16 2 5 4 1 12 1 12-1 4-1 2-5 2-16 4-4 24-4 6 3 2 0 6-5 4 0 4 0 4 4 1 6 0 12 0 6 -2 4 -5 1 -12-7 -2 0 -6 4 -10 4 -3 4 -2 8 1 28 4 17 4 4 6 1 8-1 16-10 4-5 4-17 2-2 4-2 4 0 10 7 4 1 28 1 6 1 4 3 4 10 2 2 18 8 30 0 12-5 8-1 4-3 2-5 0-4 -1-20 0-8 16-18 2-4 1-16 8-14 -3-30 -3-9 -6-6 -6-2 -12 0 -4-2 -6-14 -6-9 -4-16 -4-5 -6-1 -28-1 -14 1 -4 3 -2 4 0 5 3 24 -2 12 -2 4 -3 3 -14 2 -4 3 -2 8 2 20 0 6 -4 4 -8 1 -6-1 -6-10 -3-2 -23-1 -6-3 -4-6 -2-12 -2-6 -5-6 -7-4 -8-1 -20 0 -6 2 -8 5 -4-1 -3-3 -3-10 -6-9 -2-5 -1-8 3-10 -8-10 -4-3 -6-1 -28 0 -6 0zM1896 1693l2 7 -1 14 -1 4 -4 2 -4-2 -1-4 0-18 1-3 2-2 4 0zM1717 2043l7-6 4-1 10 0 12-2 10 0 12 4 11 2 12 0 18-4 0-20 3-44 0-12 -8-33 -2-3 -10-8 -2-8 3-10 9-10 2-6 0-8 -1-22 -3-8 -2-2 -4-1 -24 0 -6-3 -4-6 -4-16 -8-10 -4-15 -2-4 -4-3 -10-1 -4-2 -3-7 -3-12 -2-4 -3-2 -7-2 -4-4 -4-8 -2-10 -2-3 -4-1 -16-1 -34-5 -30 0 -14-4 -6-4 -1-4 0-20 1-6 2-5 6-5 22-8 3-4 2-8 0-30 1-4 8-5 3-3 0-6 -3-4 -4-1 -4 2 -3 3 -3 8 -4 3 -12-1 -16-4 -18 0 -12-3 -8-1 -8 1 -10 7 -6 2 -48 0 -4-1 -8-5 -4 0 -20 1 -6 2 -6 5 -3 6 -4 30 -3 7 -6 2 -6-2 -3-3 -5-10 -2-2 -5-1 2 8 -15 6 -12 12 -3 11 -11 6 -3 11 2 7 -6 15 9 16 12 15 15 11 14 9 11 8 14 14 12 14 14 15 12 14 15 9 30 12 13 20 3-1 -4-3 -2-4 1-4 2-3 6-3 2 1 2 4 2-2 9-5 21 11 11 11 9 20 16 4 18-2 48-21 13 5 12 9 2 0 6-6 15 33 3 12 -8 11 -11 11 -9 12 -3 16 3 10 17 17 5 11 3 14zM1516 1641l3 3 2 4 1 8 -4 7 -4 2 -4 0 -4-3 -2-3 -1-5 1-6 2-5 2-3 4-1zM1782 1916l2 4 2 6 0 8 -1 8 -1 4 -4 4 -4 2 -4 0 -4-3 -3-7 -1-8 1-8 3-6 4-3 6-2zM1360 1611l-2-41 3-18 0-14 -3-28 -6-22 0-15 -17 8 -14 27 -1 12 1 2 11 8 2 12 -11 12 6 16 11 9 3 17 9 9zM1401 1471l1 19 10 24 4 4 6 2 8 0 4-1 12-20 10-4 2-2 6-16 4-3 12-2 4-6 6-38 -1-6 -5-13 -1-14 -4-1 -10 5 -3 29 -6 22 -10 10zM2148 1409l-6 5 -3 6 -6 34 -3 38 -5 20 1 36 -1 20 0 29 8-6 15-15 3 4 -8 10 1 10 -4 11 2 8 4 0 4 0 7-8 12-13 0-32 -2-6 -9-12 -1-6 2-8 6-12 5-15 4-3 12-3 4-3 3-6 3-12 2-3 4-2 4 0 3 3 2 6 0 8 -3 16 -1 10 4 22 1 26 4 8 14-9 12-9 34-45 7-6 1-15 -3-38 -4-26 -3-8 -4-4 -8-2 -24 0 -16-4 -18 1 -5 3 -4 8 0 6 3 14 -2 6 -4 1 -3-1 -2-4 0-6 2-12 -1-6 -4-6 -4-3 -6-1 -20 0zM2108 1606l-6-3 -6-1 -12 1 -8 5 -19 8 -5 4 -3 4 -1 10 4 22 -1 10 -5 16 -4 4 -9 6 -2 8 0 20 7 12 1 4 -3 30 3 30 4 10 6 6 7 3 10-1 6-3 8-7 2-4 3-12 3-4 4-1 12-1 10-3 12 6 10 2 5 3 3 4 0 4 -2 9 -8 8 -5 13 -3 4 -18 8 -16 2 -2 2 -7 12 -21 16 -5 10 -3 4 -6 2 -18 1 -25 11 -3 6 1 8 3 4 8 5 5 9 0 6 -4 6 -9 4 -12 2 -8 2 -20 1 -8 2 -5 5 -4 12 -4 4 -5 1 -20 0 -18 3 -4 2 -3 4 -3 18 -2 2 -8 4 -3 4 -1 24 -1 4 -3 4 7 10 9 7 9 3 8 5 0-21 2-6 3-2 8-1 6 1 4 2 2 2 1 4 0 22 4 4 0 10 3 15 2 2 8 3 3-1 6-7 -2-11 7-4 11-6 12-3 23-11 11-3 9-9 12-3 22-17 23-11 32-23 12-15 9-15 6-12 11-31 17-29 3-14 6-17 3-19 -2-2 -18-9 14-10 0-3 -12-16 8-2 1-4 -3-7 -12-11 -17-37 -11-14 -8-13 5-11 8-1 6-12 2-1 -9-14 -10-6 -3-6 -1-9 -8 0 -11-19 -8-11 -7-7 3-6zM2110 1954l2 8 0 10 -2 4 -6 1 -2-1 -3-4 0-12 3-6 2-2 4 0zM2094 1694l3 2 1 4 2 32 0 7 -2 5 -4 4 -12 3 -6-5 -3-8 1-36 1-4 3-2 10-3zM1846 1840l-3 10 0 4 3 6 4 4 2 0 12-3 12 1 14-1 4-2 2-5 -1-8 -1-2 -4-3 -14 0 -14 1 -12-5zM2172 1964l-12 27 -4 18 4 18 15 23 3 2 2-3 3-20 11-34 5-17 -2-16 -2-2 -13-1zM1927 2151l16 3 16-9 9-12 5-13 -1-2 -7-9 -17-3 -15 3 -12 6 -8 14 3 13z"/><path fill="#f6b93e" d="M1350 1603l5-17 1-20 3-12 1-8 -3-34 -5-22 -1-16 -16 7 -14 27 -1 12 1 2 11 8 2 12 -11 10 0 3 6 15 11 9 3 17zM1407 1470l0 20 3 8 4 6 4 3 4 1 8-1 4-2 5-7 4-10 1-26zM1458 1452l6 8 4 3 8 0 2-1 2-3 6-31 -5-18 -1-16 -10 3 -1 2 -3 29 -6 22zM1480 1564l0 10 4 8 6 4 6-2 4-5 2-7 0-6 -2-6 -6-4 -6 0 -6 4zM1759 1566l2 6 5 9 4 3 4-2 6-10 0-6 -2-4 -6-4 -6 0 -5 4zM1687 1600l-1 4 2 6 8 17 4 4 8 3 12 2 10-1 5-3 1-6 -2-12 1-14 -2-4 -3-2 -8-1 -28 0 -6 3zM1543 1618l-3 6 -2 6 1 10 2 6 3 4 4 2 14 2 2 3 3 9 3 3 6 2 10 0 16-7 5-4 9-26 0-6 -3-4 -9-2 -30-1 -12-6 -6-2 -8 1zM1768 1644l-5 6 -2 10 2 12 5 18 4 3 4 0 18-2 6-3 4-6 3-16 0-10 -3-8 -4-4 -6-2 -18 0zM1438 1622l-3 8 -2 28 -3 6 -4 4 -5 2 -7 0 -12-6 -12-1 -6-3 -12 13 -3 11 -12 6 -2 11 2 7 -6 16 7 12 8-4 4 2 2 6 0 14 15 11 14 9 11 8 14 14 12 14 14 15 12 14 15 9 30 12 8 12 1-6 12-13 2 2 3 10 8-5 21 11 11 11 3 8 6-9 2-2 2 1 2 5 0 19 10 2 18-2 48-21 13 5 12 9 2 0 6-6 15 33 3 12 -8 11 -11 11 -9 12 -3 16 3 10 17 17 4 8 8-6 8 0 9 3 1 2 2 8 3 2 17 1 24 9 13 0 15-4 2-70 -1-10 -7-21 -5-5 -5-2 -2 1 -4 13 -2 6 -4 5 -6 2 -6-1 -4-3 -2-5 -2-8 0-10 2-10 3-4 6-6 5-10 10-6 3-4 3-8 -1-8 -3-4 -4-2 -10 0 -6 2 -4 6 -3 14 -3 4 -4-1 -8-4 -8-2 -2-1 -2-8 0-26 2-10 4-12 0-6 -1-6 -3-5 -8-5 -8-8 -7-18 -9-10 -8-15 -12-9 -12-4 -2-2 -5-8 -4-2 -19-5 -28-2 -28-6 -18-1 -3-2 -1-2 -2-16 -7-8 -4-10 -3-5 -14-8 -4-1 -6 1 -12 5 -4 0 -4-1 -6-7 -4-16 -2-2 -14-2 -4-2 -5-18 -5-5 -6-1 -14 1 -4 1zM1600 1840l-2 4 -2 1 -4-2 -1-3 2-4 3-1 2 1zM2074 1344l4 14 2 2 4 1 6-7 3-10 1-28 -3-10 0 13 -8 16zM2146 1418l-3 4 -1 6 0 34 -4 20 -3 28 -6 24 -1 60 6-3 14-15 3 4 -8 10 1 10 -4 12 1 3 7 1 5-1 10-11 2-34 -1-6 -2-4 -4-4 -8-5 -2-3 0-8 1-8 6-12 3-12 3-6 4-4 5-3 12-3 3-2 2-4 3-12 4-6 6-3 6 0 4 2 4 4 3 7 1 8 -2 26 1 10 3 4 2 2 10 1 4 1 2 3 4 11 5 6 29-38 1-26 -3-32 -4-24 -1-4 -3-3 -6-1 -22-1 -10-6 -6-1 -16 0 -5 4 -2 6 2 16 0 6 -3 5 -6 2 -4-2 -3-5 0-22 -1-4 -4-5 -6-2 -18 0 -6 1zM1912 1602l-1 6 4 12 2 16 3 5 8 2 1-3 -1-20 2-10 -1-6 -2-4 -5-2 -6 0zM1929 1654l-2 12 -6 10 -3 10 -4 4 -8 3 -2 3 -1 24 -1 3 -10 1 -6-2 -3-2 -2-6 -1-16 -2-4 -16 2 -3 2 -1 2 -1 16 -4 14 0 8 3 8 6 5 8 1 24 0 5-2 3-4 2-6 0-10 2-3 2 1 2 4 1 14 2 8 9 16 4 2 4 1 20 0 6-3 6-14 8-7 5-15 10-8 4-6 2-6 1-16 6-10 1-6 -1-26 -1-6 -3-4 -4-3 -4-1 -16 4 -10-3 -30 0 -1 1zM1798 1727l-3 3 0 4 -2 24 1 10 3 8 3 4 4 1 6-1 6-3 5-9 6-20 0-14 -3-6 -8-5 -6 0zM1852 1856l10-2 4-2 -2-2 -12-3 -2 1 -1 2 1 4zM2088 1605l-8 6 -19 5 -6 4 -2 4 -2 4 0 6 7 20 -1 10 -5 20 -4 4 -10 5 -3 5 -1 14 1 8 5 7 8 5 2 4 -7 16 -1 10 0 16 4 20 4 8 6 3 10-1 4-2 3-4 2-6 5-28 -1-6 -9-18 -2-6 0-38 2-4 4-3 16-5 8 1 4 2 2 5 1 22 2 16 -1 14 -3 6 -15 8 -2 4 0 2 2 2 4 2 10 0 4-3 4-7 2-2 2 1 3 3 5 10 4 5 14 3 8 4 9 2 1 4 0 4 -5 16 -2 18 -1 4 -2 2 -12 2 -16 8 -10 10 -18 3 -12 6 -5 5 -6 12 -3 4 -14 7 -20 2 -8 5 -5 6 0 6 5 11 10 11 1 4 -3 4 -8 3 -22 13 -12 0 -16-2 -10 1 -6 4 -4 13 -4 4 -8 2 -24 1 -15 5 -2 2 -2 14 -2 6 -3 3 -8 4 -2 2 -1 7 1 8 2 3 4 2 14 2 22-1 18 4 4 2 2 6 -2 12 -6 12 -5 12 3 16 11 4 2-1 6-7 -2-11 7-4 11-6 12-3 23-11 11-3 9-9 12-3 22-17 23-11 32-24 12-14 9-15 6-12 11-31 12-19 -4-11 -7-14 1-8 3-4 4 0 2 2 5 10 3 5 7-21 2-20 -19-10 14-10 0-3 -12-16 8-2 1-4 -3-7 -12-11 -17-37 -11-14 -8-13 5-11 7 0 3-5 -11-10 -12-7 -2-4 3-23 -3 0 -11-19 -8-11 -7-7 3-6 13-7 -6-3 -6 0zM2014 1992l-1 8 -2 2 -3 0 -2-4 0-10 2-2 2 0 3 2zM2052 1988l0 10 -2 5 -4 1 -4 0 -4 0 -3-2 -1-3 0-5 0-4 2-3 12-4 2 1zM2110 1950l3 8 0 14 -3 5 -6 1 -5-2 -2-4 1-14 4-8 4-2zM1929 2111l0 29 1 12 14 2 16-9 8-12 5-14 -9-10 -15-3 -16 3zM2172 1964l-12 27 -4 18 4 18 15 23 3 2 2-3 3-20 11-34 5-17 -2-16 -2-2 -13-1z"/><path fill="#fb3d12" d="M1348 1600l4-18 2-16 4-12 0-8 -2-34 -6-22 0-16 -15 7 -14 27 -1 12 1 2 11 8 2 12 -11 10 0 3 6 15 11 9 3 16zM1411 1469l-1 17 2 6 2 5 4 3 4 1 8-1 4-2 4-6 1-6 0-23zM1463 1440l5 6 4 1 2 0 4-4 5-9 0-8 -5-14 -1-17 -7 2 -1 2 -3 29zM1763 1568l3 6 4 1 4-2 1-5 -1-4 -4-2 -3 0 -3 2zM1482 1568l2 8 2 3 4 2 4 0 2-2 4-7 -1-8 -3-4 -2-1 -4-1 -4 2 -3 4zM1543 1628l0 10 1 4 4 4 4 1 6 0 6-2 3-3 2-6 -1-6 -2-6 -4-4 -6-2 -6 1 -4 3zM1440 1626l-1 6 1 6 2 6 2 3 6 2 8 0 4-1 4-4 2-6 0-8 -1-6 -3-3 -6-1 -10 0 -5 2zM1766 1654l0 6 1 6 5 18 2 4 4 1 12-1 6-2 3-4 3-20 0-7 -2-5 -4-3 -4-1 -16 1 -6 2zM1977 1652l-6 14 -4 14 -3 2 -16 1 -8 4 -3 3 -2 6 -1 23 -4 3 -10 1 -3 3 -2 8 1 10 4 8 4 3 8 2 12-1 5-6 3-12 2-3 2-1 12-1 6-2 8-4 4-5 2-6 1-20 6-14 -1-24 -2-7 -4-3 -6 0zM1862 1724l-3 4 -1 8 1 6 4 4 7 1 20 0 4-1 3-4 1-4 0-6 -4-4 -20-6 -8 0zM1798 1734l-3 24 2 10 1 4 4 3 8 0 5-3 4-10 3-20 0-9 -4-5 -6-2 -10 2 -3 2zM1356 1731l8-4 4-1 3 2 3 4 3 8 0 18 10 7 14 9 11 8 14 14 12 14 14 15 12 14 15 9 30 12 5 8 7-10 5-11 4-3 4 0 3 6 1 13 5-3 21 11 11 11 1 4 6-11 2-2 4-1 4 2 2 3 1 5 0 23 5 1 18-2 48-21 13 5 12 9 2 0 6-6 15 33 3 12 -8 11 -11 11 -9 12 -3 16 3 10 17 17 2 4 6-5 4-2 26 4 14-1 3 3 1 10 3 4 13 6 6 4 11 0 12-3 0-21 2-16 -1-30 -1-10 -3-8 -4-5 -4-1 -4 2 -8 7 -6 3 -8 0 -5-4 -4-10 -3-24 -6-18 -6-6 -10-3 -4-7 -1-8 -1-38 -2-18 -2-6 -12-14 -6-18 -6-6 -11-6 -7-16 -4-3 -24-9 -2-2 -3-8 -3-4 -6-2 -10-1 -40-7 -22 0 -27-4 -2-4 -2-30 -3-6 -6-4 -20 3 -6-2 -8-5 -4-2 -48 0 -6 1 -12 7 -10 1 -14-3 -16-1 -4-3 -2-4 -8 9 -3 11 -11 5 -1 2 -2 10 2 7 -6 15zM1602 1838l0 4 -2 5 -2 1 -4-1 -4-3 -1-6 5-6 4 0zM1749 1964l-1 10 -4 2 -4-1 -3-5 1-4 2-5 4-3 2 1zM1935 2134l-2 8 2 11 9 1 15-9 -1-9 -3-4 -3-3 -6-2 -4 0 -4 2zM2078 1341l4 9 2 1 2-2 2-7 1-18 -6 11zM2206 1419l-3 3 -1 6 4 17 2 2 8 4 2 2 4 15 4 6 4 2 4 0 4-4 2-3 2-13 -2-10 -7-18 -4-6 -5-3 -8-1zM2150 1420l-3 6 -1 8 5 36 3 4 4 2 10 1 6-1 5-6 3-8 -1-16 2-14 -1-8 -4-5 -6-1 -16 0zM2244 1503l-2 7 1 10 2 18 5 8 21-27 -1-13 -3-8 -5-3 -12 1 -4 3zM2132 1538l1 53 15-15 3 4 -8 10 1 10 -4 12 12 0 4-2 2-4 1-22 2-14 0-6 -5-6 -10-4 -2-2 -2-17 -2-5 -2-2 -2 1 -2 3zM2090 1607l-8 7 -12 1 -6 1 -6 4 -2 4 -1 8 7 18 1 12 -8 26 -3 3 -10 3 -3 4 -1 18 2 5 4 3 12 3 4-2 2-5 1-20 2-6 3-3 17-5 7-8 8-4 4-6 2-10 0-18 -9-13 -7-7 3-6 11-6 -4-2 -6 0zM2110 1696l-1 22 3 24 2 6 7 8 4 14 5 5 16 3 4-1 4-3 2-5 -11-25 -11-14 -8-13 5-11 8-1 -13-11 -8-3 -4 0 -2 1zM2050 1752l-3 6 -1 8 0 14 3 12 1 6 3 4 5 2 4 0 5-2 3-6 4-24 0-10 -6-11 -6-4 -6 1zM2174 1794l-4 6 -6 5 -4 6 -2 9 0 12 2 6 4 4 19 1 -17-9 13-9 1-2 0-2 -12-16 7-2 2-1 0-3zM2110 1865l-18 2 -8 2 -6 5 -5 14 -3 5 -16 5 -18 1 -4 2 -3 3 -2 4 1 6 3 6 11 8 2 3 2 7 0 10 -1 2 -1 1 -6-1 -18 4 -6 3 -4 5 -2 6 1 6 2 4 6 6 2 6 0 12 -3 5 -4 1 -4 0 -14-3 -4-2 -2-5 0-14 -3-18 -3-4 -6-2 -8-1 -6 3 -2 4 -2 10 -4 5 -10 2 -24 1 -6 4 -2 4 -1 10 -6 8 -2 4 -1 8 1 8 1 2 4 2 18 1 18 2 4 1 3 2 3 4 1 6 -2 30 1 4 4 3 17-10 12-3 23-11 11-3 9-9 12-3 22-17 23-11 21-15 11-9 12-14 15-26 11-32 9-14 -8-15 -4-4 -10-4 -2-2 -4-17 -4-5 -4-2 -6 0zM2052 1962l5 26 -1 16 -2 3 -4 2 -10 0 -6-1 -3-2 -2-4 -1-10 2-6 2-3 8-4 4-3 2-4 1-14 1-3zM2112 1948l2 10 -1 16 -3 5 -4 1 -4-1 -5-3 -2-4 0-8 1-10 3-6 5-3 4 0zM2172 1964l-12 27 -4 18 4 18 15 23 3 2 2-3 3-20 11-34 5-17 -2-16 -2-2 -13-1z"/><path fill="#a80f18" d="M2163 1432l0 6 3 3 6 1 3-4 1-6 -3-4 -6 0zM1342 1589l5-23 7-12 1-8 -3-34 -7-24 -1-12 -9 5 -14 27 -1 12 1 2 11 8 2 12 -11 10 0 3 6 15 11 9zM2064 1628l4 3 4 0 3-3 0-4 -3-3 -4-1 -4 4zM2082 1649l3-1 1-2 -2-3 -2-1 -2 2 0 3zM1945 1692l-2 4 -1 6 0 16 2 7 2 1 4 1 20-1 6-1 5-3 2-6 0-16 0-6 -3-5 -4-1 -24 2zM1376 1691l-2 5 0 10 0 10 2 6 4 6 4 4 4 1 14 0 5 3 2 4 4 22 1 22 14 14 4-9 2-2 4-1 6 1 4 5 3 18 3 5 8-2 10 2 24 0 6 1 4 4 5 14 1 2 4 2 6-2 5-4 3-4 4-10 2-2 4-1 4 5 3 14 3 5 4 3 8 4 3 4 1 6 1 18 3 4 5-12 2-4 10-6 0-2 -3-8 0-6 12-22 4 0 8 12 6 4 16 1 10 3 6 1 6-1 4-5 2-7 0-8 -7-32 -9-14 -4-20 -9-10 -4-10 -5-4 -28-3 -48-2 -14-1 -18-1 -4-3 -1-2 -2-22 -3-4 -6-2 -8 0 -10 4 -6 0 -52 0 -14-4 -8 0 -16 0zM1679 1838l-2 8 2 12 3 7 8 4 3 3 1 24 5-5 10 19 1-8 0-26 -4-9 -6-4 -2-3 -1-20 -3-5 -6-2 -5 1zM1687 1979l9 5 6 1 8-1 6-3 2-5 1-14 3-6 14-6 4-4 2-4 1-10 -3-8 -4-3 -6 0 -6 0 -4 3 -4 6 1 6 -8 11 -11 11 -9 12zM1727 1990l0 8 1 4 2 1 10 2 4-1 2-2 1-4 0-6 -1-4 -2-2 -13-2 -3 2zM2154 1930l-4-8 -4-1 -4 4 -4 15 -2 3 -4 2 -8 1 -4 2 -3 8 -1 18 -3 6 -3 2 -6 0 -14-4 -4 2 -2 2 -3 8 0 33 7-3 31-23 12-15 15-26zM2022 2059l-18-17 -16-6 -3-6 -1-14 -4-6 -6-2 -8 0 -6 1 -3 3 -2 6 0 10 8 16 1 30 3 7 8-4 12-3 23-11zM2172 1964l-12 27 -4 18 4 18 15 23 3 2 2-3 3-20 11-34 5-17 -2-16 -2-2 -13-1z"/><path fill="#8a4a86" d="M1327 1566l7-4 12-3 5-5 2-6 -1-14 -3-24 -3-9 -5-9 -5-12 -15 28 -1 12 1 2 11 8 2 12 -11 12zM1974 1692l-22 1 -4 1 -2 2 -1 6 0 14 1 4 2 3 4 0 20 0 4-1 4-4 1-16 -2-8zM1484 1695l-3 7 0 14 -3 4 -2 1 -62 0 -2-1 -2-4 -2-14 -2-4 -3-2 -5-1 -12 1 -3 2 -1 6 0 14 2 4 4 2 18 0 4 2 2 6 11 46 1 1 6-3 18 6 6 6 5 12 9 7 6 1 24 0 6 1 6 5 6 9 4 2 4-3 6-15 2-2 4 1 6 2 4 4 2 5 3 13 2 4 3 2 16 6 4 0 6-6 6-10 3-12 5-4 4 0 14 5 10 0 12-2 2 2 4 9 4 1 2-1 1-6 -5-23 -6-13 -2-22 -4-6 -6-6 -4-14 -2-3 -4-2 -12-1 -94-3 -4-2 -2-3 -1-20 -3-6 -3-2 -5 0 -4 1zM1683 1848l1 4 2 2 2 0 2-1 2-7 -2-5 -2-1 -4 2zM1728 1939l4-1 1-2 -3-1 -4 1 0 2zM1688 1975l12 5 8 0 4-2 2-4 2-18 2-12 -1-4 -2-1 -6 8 -11 11 -9 12zM2152 1936l-4-4 -2 0 -5 14 -3 4 -4 1 -8 1 -4 2 -2 6 -2 16 -2 4 -2 2 -6 2 -16-2 -4 2 -2 3 -1 5 0 29 34-24 12-15 15-26zM1965 2018l-1 10 5 14 2 14 1 18 2 4 6-2 1-32 -4-12 -2-14 -2-2 -5 0zM2172 1964l-12 27 -4 18 4 18 15 23 3 2 2-3 3-20 11-34 5-17 -2-16 -2-2 -13-1z"/><path fill="#4a0a12" d="M1326 1563l8-4 12-3 4-4 1-4 0-16 -3-22 -4-8 -6-7 -4-12 -13 25 -1 12 1 2 11 8 2 12 -11 11 0 2zM1974 1694l-24 1 -3 3 -1 14 2 8 6 2 16 0 6-2 2-2 1-6 0-12 -1-4zM1487 1696l-2 6 -1 16 -2 4 -2 1 -8 1 -48 1 -6 1 -2 4 2 16 4 9 6 5 5 10 3 3 14 6 6 5 3 4 4 10 4 4 7 3 30 1 14 8 2-1 2-3 6-16 2-2 2 2 6 8 10 8 4 17 2 4 4 2 14 4 6-1 6-6 2-5 3-13 5-5 6-1 10 3 10 0 7-1 5-4 3-10 -1-30 -2-6 -8-9 -4-15 -1-2 -5-2 -10-1 -96-3 -4-2 -2-4 -1-20 -2-4 -5-2 -4 0zM1688 1973l8 4 6 2 6-1 3-2 2-4 1-24 -1-7 -15 17 -9 12zM2151 1939l-3-2 -2 2 -3 9 -3 4 -4 2 -10 1 -4 3 -2 6 -1 12 -3 6 -6 3 -6 1 -10-2 -5 2 -2 6 0 28 32-23 12-15 15-26zM2172 1964l-12 27 -4 18 4 18 15 23 3 2 2-3 3-20 11-34 5-17 -2-16 -2-2 -13-1z"/></g>
</g>
<text x="1371.6" y="1221.0" font-family='"Liberation Sans", sans-serif' font-size="17.5" text-anchor="middle" fill="#4f4f4f">70°</text>
<text x="1525.9" y="1221.0" font-family='"Liberation Sans", sans-serif' font-size="17.5" text-anchor="middle" fill="#4f4f4f">80°</text>
<text x="1693.0" y="1221.0" font-family='"Liberation Sans", sans-serif' font-size="17.5" text-anchor="middle" fill="#4f4f4f">90°</text>
<text x="1814.4" y="1221.0" font-family='"Liberation Sans", sans-serif' font-size="17.5" text-anchor="middle" fill="#4f4f4f">100°</text>
<text x="1951.6" y="1221.0" font-family='"Liberation Sans", sans-serif' font-size="17.5" text-anchor="middle" fill="#4f4f4f">110°</text>
<text x="2081.6" y="1221.0" font-family='"Liberation Sans", sans-serif' font-size="17.5" text-anchor="middle" fill="#4f4f4f">120°</text>
<text x="2234.4" y="1221.0" font-family='"Liberation Sans", sans-serif' font-size="17.5" text-anchor="middle" fill="#4f4f4f">130°</text>
<text x="1265.0" y="1477.1" font-family='"Liberation Sans", sans-serif' font-size="17.5" text-anchor="middle" fill="#4f4f4f">40°</text>
<text x="1265.0" y="1749.5" font-family='"Liberation Sans", sans-serif' font-size="17.5" text-anchor="middle" fill="#4f4f4f">35°</text>
<text x="1265.0" y="2008.9" font-family='"Liberation Sans", sans-serif' font-size="17.5" text-anchor="middle" fill="#4f4f4f">30°</text>
<text x="2369.5" y="1292.7" font-family='"Liberation Sans", sans-serif' font-size="17.5" text-anchor="middle" fill="#4f4f4f">45°</text>
<text x="2369.5" y="1558.9" font-family='"Liberation Sans", sans-serif' font-size="17.5" text-anchor="middle" fill="#4f4f4f">40°</text>
<text x="2369.5" y="1824.5" font-family='"Liberation Sans", sans-serif' font-size="17.5" text-anchor="middle" fill="#4f4f4f">35°</text>
<text x="2369.5" y="2095.0" font-family='"Liberation Sans", sans-serif' font-size="17.5" text-anchor="middle" fill="#4f4f4f">30°</text>
<text x="1500.8" y="2193.5" font-family='"Liberation Sans", sans-serif' font-size="17.5" text-anchor="middle" fill="#4f4f4f">90°</text>
<text x="1697.5" y="2193.5" font-family='"Liberation Sans", sans-serif' font-size="17.5" text-anchor="middle" fill="#4f4f4f">100°</text>
<text x="1939.2" y="2193.5" font-family='"Liberation Sans", sans-serif' font-size="17.5" text-anchor="middle" fill="#4f4f4f">110°</text>
<text x="2163.5" y="2193.5" font-family='"Liberation Sans", sans-serif' font-size="17.5" text-anchor="middle" fill="#4f4f4f">120°</text>
<g filter="url(#blT)">
<text x="1309" y="1271" font-family='"Liberation Serif", "Noto Serif CJK SC", serif' font-size="36" font-weight="500" fill="#d54a42" stroke="#d54a42" stroke-width="0.5" textLength="482" lengthAdjust="spacing">中国大陆地区大地热流分布图</text>
<text x="1339" y="1312.5" font-family='"Liberation Sans", sans-serif' font-size="38.5" font-weight="bold" fill="#7a1012" textLength="419" lengthAdjust="spacingAndGlyphs">Heat flow map of China</text>
<text transform="translate(1308.7 2128.6) scale(1.4 1)" font-family='"Liberation Serif", "Noto Serif CJK SC", serif' font-size="20" font-weight="600" fill="#56686b" textLength="413.6" lengthAdjust="spacingAndGlyphs">编图单位：中国科学院地质与地球物理研究所</text>
<text transform="translate(1310.2 2154.6) scale(1.4 1)" font-family='"Liberation Mono", "Noto Serif CJK SC", monospace' font-size="20" font-weight="600" fill="#56686b" textLength="403.5" lengthAdjust="spacingAndGlyphs">数据更新至2011年 (Data updated to 2011)</text>
</g>
<g filter="url(#blD)">
<rect x="2259.4" y="1654.0" width="26.3" height="46.5" fill="#3b0a10"/>
<rect x="2259.4" y="1700.0" width="26.3" height="40.5" fill="#4a0a12"/>
<rect x="2259.4" y="1740.0" width="26.3" height="28.5" fill="#5c1244"/>
<rect x="2259.4" y="1768.0" width="26.3" height="22.5" fill="#9a8aa2"/>
<rect x="2259.4" y="1790.0" width="26.3" height="37.5" fill="#8c0c18"/>
<rect x="2259.4" y="1827.0" width="26.3" height="43.5" fill="#fb2a12"/>
<rect x="2259.4" y="1870.0" width="26.3" height="44.5" fill="#fb4a12"/>
<rect x="2259.4" y="1914.0" width="26.3" height="30.5" fill="#f6b93e"/>
<rect x="2259.4" y="1944.0" width="26.3" height="29.5" fill="#f1f03c"/>
<rect x="2259.4" y="1973.0" width="26.3" height="58.5" fill="#22ae3e"/>
<rect x="2259.4" y="2031.0" width="26.3" height="30.5" fill="#4a2192"/>
<rect x="2259.4" y="2061.0" width="26.3" height="44.5" fill="#7489c9"/>
<rect x="2259.4" y="2105.0" width="26.3" height="42.5" fill="#6f93d2"/>
</g>
<text x="2291.5" y="1688.2" font-family='"Liberation Sans", sans-serif' font-size="14.5" text-anchor="start" fill="#2f5363">150</text>
<text x="2291.5" y="1715.2" font-family='"Liberation Sans", sans-serif' font-size="14.5" text-anchor="start" fill="#2f5363">125</text>
<text x="2291.5" y="1743.8" font-family='"Liberation Sans", sans-serif' font-size="14.5" text-anchor="start" fill="#2f5363">100</text>
<text x="2291.5" y="1773.8" font-family='"Liberation Sans", sans-serif' font-size="14.5" text-anchor="start" fill="#2f5363">95</text>
<text x="2291.5" y="1802.2" font-family='"Liberation Sans", sans-serif' font-size="14.5" text-anchor="start" fill="#2f5363">90</text>
<text x="2291.5" y="1832.2" font-family='"Liberation Sans", sans-serif' font-size="14.5" text-anchor="start" fill="#2f5363">85</text>
<text x="2291.5" y="1860.9" font-family='"Liberation Sans", sans-serif' font-size="14.5" text-anchor="start" fill="#2f5363">80</text>
<text x="2291.5" y="1890.9" font-family='"Liberation Sans", sans-serif' font-size="14.5" text-anchor="start" fill="#2f5363">75</text>
<text x="2291.5" y="1919.2" font-family='"Liberation Sans", sans-serif' font-size="14.5" text-anchor="start" fill="#2f5363">70</text>
<text x="2291.5" y="1949.2" font-family='"Liberation Sans", sans-serif' font-size="14.5" text-anchor="start" fill="#2f5363">65</text>
<text x="2291.5" y="1978.2" font-family='"Liberation Sans", sans-serif' font-size="14.5" text-anchor="start" fill="#2f5363">60</text>
<text x="2291.5" y="2008.2" font-family='"Liberation Sans", sans-serif' font-size="14.5" text-anchor="start" fill="#2f5363">55</text>
<text x="2291.5" y="2036.2" font-family='"Liberation Sans", sans-serif' font-size="14.5" text-anchor="start" fill="#2f5363">50</text>
<text x="2291.5" y="2066.2" font-family='"Liberation Sans", sans-serif' font-size="14.5" text-anchor="start" fill="#2f5363">45</text>
<text x="2291.5" y="2096.2" font-family='"Liberation Sans", sans-serif' font-size="14.5" text-anchor="start" fill="#2f5363">40</text>
<text x="2291.5" y="2125.2" font-family='"Liberation Sans", sans-serif' font-size="14.5" text-anchor="start" fill="#2f5363">30</text>
<text x="2291.5" y="2153.8" font-family='"Liberation Sans", sans-serif' font-size="14.5" text-anchor="start" fill="#2f5363">25</text>
<text x="2283" y="1616" font-family='"Liberation Serif", "Noto Serif CJK SC", serif' font-size="17" font-weight="bold" text-anchor="middle" fill="#e8412a" textLength="62" lengthAdjust="spacing">热 流</text>
<text x="2286" y="1642" font-family='"Liberation Sans", sans-serif' font-size="16.5" font-weight="bold" text-anchor="middle" fill="#e8412a">(mW/m<tspan dy="-6" font-size="10">2</tspan><tspan dy="6">)</tspan></text>
<text x="593.0" y="1142.5" font-family='"Liberation Serif", serif' font-size="57" text-anchor="middle" fill="#111">(<tspan font-weight="bold">a</tspan>)</text>
<text x="1820.0" y="1142.5" font-family='"Liberation Serif", serif' font-size="57" text-anchor="middle" fill="#111">(<tspan font-weight="bold">b</tspan>)</text>
<text x="593.0" y="2282.0" font-family='"Liberation Serif", serif' font-size="57" text-anchor="middle" fill="#111">(<tspan font-weight="bold">c</tspan>)</text>
<text x="1820.0" y="2282.0" font-family='"Liberation Serif", serif' font-size="57" text-anchor="middle" fill="#111">(<tspan font-weight="bold">d</tspan>)</text></svg></body></html>
